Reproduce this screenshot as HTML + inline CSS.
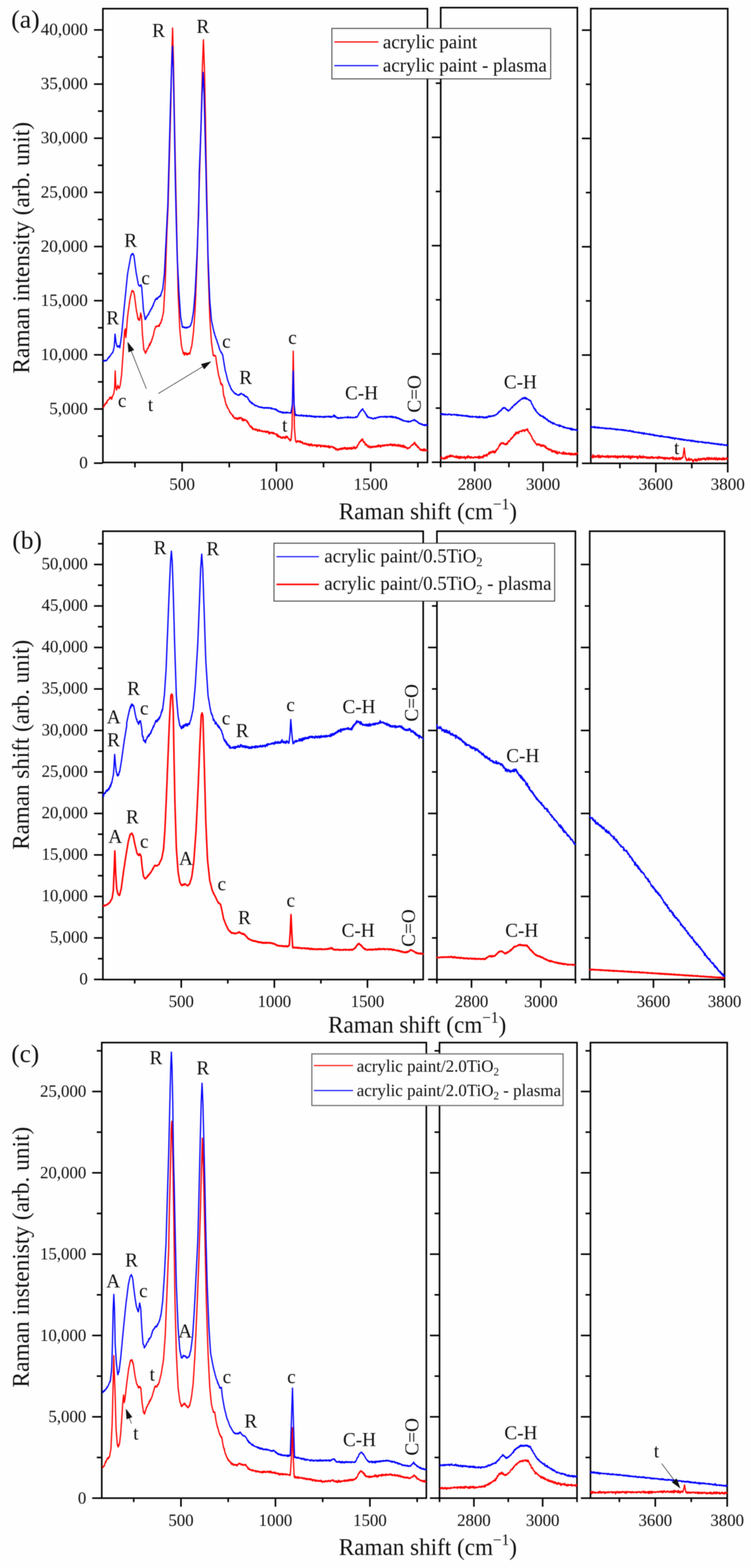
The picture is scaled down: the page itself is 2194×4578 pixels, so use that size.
<!DOCTYPE html>
<html lang="en"><head><meta charset="utf-8"><title>Raman spectra</title>
<style>
html,body{margin:0;padding:0;background:#fff;}
body{width:2194px;height:4578px;overflow:hidden;}
svg{display:block;font-family:"Liberation Serif", "DejaVu Serif", serif;filter:blur(0.8px);}
</style></head><body>
<svg width="2194" height="4578" viewBox="0 0 2194 4578">
<rect x="0" y="0" width="2194" height="4578" fill="#fefefe"/>
<rect x="300.6" y="25.3" width="948.2" height="1324.9" fill="none" stroke="#000" stroke-width="4.6"/>
<line x1="274.6" y1="1352.2" x2="300.6" y2="1352.2" stroke="#000" stroke-width="4.6" stroke-linecap="butt"/>
<line x1="274.6" y1="1194.1" x2="300.6" y2="1194.1" stroke="#000" stroke-width="4.6" stroke-linecap="butt"/>
<line x1="274.6" y1="1036.0" x2="300.6" y2="1036.0" stroke="#000" stroke-width="4.6" stroke-linecap="butt"/>
<line x1="274.6" y1="877.9" x2="300.6" y2="877.9" stroke="#000" stroke-width="4.6" stroke-linecap="butt"/>
<line x1="274.6" y1="719.8" x2="300.6" y2="719.8" stroke="#000" stroke-width="4.6" stroke-linecap="butt"/>
<line x1="274.6" y1="561.7" x2="300.6" y2="561.7" stroke="#000" stroke-width="4.6" stroke-linecap="butt"/>
<line x1="274.6" y1="403.6" x2="300.6" y2="403.6" stroke="#000" stroke-width="4.6" stroke-linecap="butt"/>
<line x1="274.6" y1="245.5" x2="300.6" y2="245.5" stroke="#000" stroke-width="4.6" stroke-linecap="butt"/>
<line x1="274.6" y1="87.4" x2="300.6" y2="87.4" stroke="#000" stroke-width="4.6" stroke-linecap="butt"/>
<line x1="286.1" y1="1273.2" x2="300.6" y2="1273.2" stroke="#000" stroke-width="4.6" stroke-linecap="butt"/>
<line x1="286.1" y1="1115.0" x2="300.6" y2="1115.0" stroke="#000" stroke-width="4.6" stroke-linecap="butt"/>
<line x1="286.1" y1="957.0" x2="300.6" y2="957.0" stroke="#000" stroke-width="4.6" stroke-linecap="butt"/>
<line x1="286.1" y1="798.9" x2="300.6" y2="798.9" stroke="#000" stroke-width="4.6" stroke-linecap="butt"/>
<line x1="286.1" y1="640.8" x2="300.6" y2="640.8" stroke="#000" stroke-width="4.6" stroke-linecap="butt"/>
<line x1="286.1" y1="482.6" x2="300.6" y2="482.6" stroke="#000" stroke-width="4.6" stroke-linecap="butt"/>
<line x1="286.1" y1="324.5" x2="300.6" y2="324.5" stroke="#000" stroke-width="4.6" stroke-linecap="butt"/>
<line x1="286.1" y1="166.5" x2="300.6" y2="166.5" stroke="#000" stroke-width="4.6" stroke-linecap="butt"/>
<line x1="532.0" y1="1350.2" x2="532.0" y2="1376.7" stroke="#000" stroke-width="4.6" stroke-linecap="butt"/>
<line x1="807.5" y1="1350.2" x2="807.5" y2="1376.7" stroke="#000" stroke-width="4.6" stroke-linecap="butt"/>
<line x1="1083.0" y1="1350.2" x2="1083.0" y2="1376.7" stroke="#000" stroke-width="4.6" stroke-linecap="butt"/>
<line x1="394.2" y1="1350.2" x2="394.2" y2="1364.7" stroke="#000" stroke-width="4.6" stroke-linecap="butt"/>
<line x1="669.8" y1="1350.2" x2="669.8" y2="1364.7" stroke="#000" stroke-width="4.6" stroke-linecap="butt"/>
<line x1="945.2" y1="1350.2" x2="945.2" y2="1364.7" stroke="#000" stroke-width="4.6" stroke-linecap="butt"/>
<line x1="1220.8" y1="1350.2" x2="1220.8" y2="1364.7" stroke="#000" stroke-width="4.6" stroke-linecap="butt"/>
<text transform="translate(532.0 1430.2) scale(1 1.03)" font-size="50" text-anchor="middle" fill="#111">500</text>
<text transform="translate(807.5 1430.2) scale(1 1.03)" font-size="50" text-anchor="middle" fill="#111">1000</text>
<text transform="translate(1083.0 1430.2) scale(1 1.03)" font-size="50" text-anchor="middle" fill="#111">1500</text>
<rect x="1287.5" y="22.3" width="399.2" height="1327.5" fill="none" stroke="#000" stroke-width="4.6"/>
<line x1="1261.5" y1="1349.6" x2="1287.5" y2="1349.6" stroke="#000" stroke-width="4.6" stroke-linecap="butt"/>
<line x1="1261.5" y1="1033.4" x2="1287.5" y2="1033.4" stroke="#000" stroke-width="4.6" stroke-linecap="butt"/>
<line x1="1261.5" y1="717.2" x2="1287.5" y2="717.2" stroke="#000" stroke-width="4.6" stroke-linecap="butt"/>
<line x1="1261.5" y1="401.0" x2="1287.5" y2="401.0" stroke="#000" stroke-width="4.6" stroke-linecap="butt"/>
<line x1="1261.5" y1="84.8" x2="1287.5" y2="84.8" stroke="#000" stroke-width="4.6" stroke-linecap="butt"/>
<line x1="1273.0" y1="1191.5" x2="1287.5" y2="1191.5" stroke="#000" stroke-width="4.6" stroke-linecap="butt"/>
<line x1="1273.0" y1="875.3" x2="1287.5" y2="875.3" stroke="#000" stroke-width="4.6" stroke-linecap="butt"/>
<line x1="1273.0" y1="559.1" x2="1287.5" y2="559.1" stroke="#000" stroke-width="4.6" stroke-linecap="butt"/>
<line x1="1273.0" y1="242.9" x2="1287.5" y2="242.9" stroke="#000" stroke-width="4.6" stroke-linecap="butt"/>
<line x1="1387.0" y1="1349.8" x2="1387.0" y2="1376.3" stroke="#000" stroke-width="4.6" stroke-linecap="butt"/>
<line x1="1586.5" y1="1349.8" x2="1586.5" y2="1376.3" stroke="#000" stroke-width="4.6" stroke-linecap="butt"/>
<line x1="1287.2" y1="1349.8" x2="1287.2" y2="1364.3" stroke="#000" stroke-width="4.6" stroke-linecap="butt"/>
<line x1="1486.8" y1="1349.8" x2="1486.8" y2="1364.3" stroke="#000" stroke-width="4.6" stroke-linecap="butt"/>
<line x1="1686.2" y1="1349.8" x2="1686.2" y2="1364.3" stroke="#000" stroke-width="4.6" stroke-linecap="butt"/>
<text transform="translate(1387.0 1430.2) scale(1 1.03)" font-size="50" text-anchor="middle" fill="#111">2800</text>
<text transform="translate(1586.5 1430.2) scale(1 1.03)" font-size="50" text-anchor="middle" fill="#111">3000</text>
<rect x="1726.0" y="25.3" width="400.0" height="1327.5" fill="none" stroke="#000" stroke-width="4.6"/>
<line x1="1700.0" y1="1352.8" x2="1726.0" y2="1352.8" stroke="#000" stroke-width="4.6" stroke-linecap="butt"/>
<line x1="1700.0" y1="1036.6" x2="1726.0" y2="1036.6" stroke="#000" stroke-width="4.6" stroke-linecap="butt"/>
<line x1="1700.0" y1="720.4" x2="1726.0" y2="720.4" stroke="#000" stroke-width="4.6" stroke-linecap="butt"/>
<line x1="1700.0" y1="404.2" x2="1726.0" y2="404.2" stroke="#000" stroke-width="4.6" stroke-linecap="butt"/>
<line x1="1700.0" y1="88.0" x2="1726.0" y2="88.0" stroke="#000" stroke-width="4.6" stroke-linecap="butt"/>
<line x1="1711.5" y1="1194.7" x2="1726.0" y2="1194.7" stroke="#000" stroke-width="4.6" stroke-linecap="butt"/>
<line x1="1711.5" y1="878.5" x2="1726.0" y2="878.5" stroke="#000" stroke-width="4.6" stroke-linecap="butt"/>
<line x1="1711.5" y1="562.3" x2="1726.0" y2="562.3" stroke="#000" stroke-width="4.6" stroke-linecap="butt"/>
<line x1="1711.5" y1="246.1" x2="1726.0" y2="246.1" stroke="#000" stroke-width="4.6" stroke-linecap="butt"/>
<line x1="1916.0" y1="1352.8" x2="1916.0" y2="1379.3" stroke="#000" stroke-width="4.6" stroke-linecap="butt"/>
<line x1="2126.0" y1="1352.8" x2="2126.0" y2="1379.3" stroke="#000" stroke-width="4.6" stroke-linecap="butt"/>
<line x1="1811.0" y1="1352.8" x2="1811.0" y2="1367.3" stroke="#000" stroke-width="4.6" stroke-linecap="butt"/>
<line x1="2021.0" y1="1352.8" x2="2021.0" y2="1367.3" stroke="#000" stroke-width="4.6" stroke-linecap="butt"/>
<text transform="translate(1916.0 1430.2) scale(1 1.03)" font-size="50" text-anchor="middle" fill="#111">3600</text>
<text transform="translate(2126.0 1430.2) scale(1 1.03)" font-size="50" text-anchor="middle" fill="#111">3800</text>
<text transform="translate(256.5 1367.0) scale(1 1.03)" font-size="50" text-anchor="end" fill="#111">0</text>
<text transform="translate(256.5 1208.9) scale(1 1.03)" font-size="50" text-anchor="end" fill="#111">5,000</text>
<text transform="translate(256.5 1050.8) scale(1 1.03)" font-size="50" text-anchor="end" fill="#111">10,000</text>
<text transform="translate(256.5 892.7) scale(1 1.03)" font-size="50" text-anchor="end" fill="#111">15,000</text>
<text transform="translate(256.5 734.6) scale(1 1.03)" font-size="50" text-anchor="end" fill="#111">20,000</text>
<text transform="translate(256.5 576.5) scale(1 1.03)" font-size="50" text-anchor="end" fill="#111">25,000</text>
<text transform="translate(256.5 418.4) scale(1 1.03)" font-size="50" text-anchor="end" fill="#111">30,000</text>
<text transform="translate(256.5 260.3) scale(1 1.03)" font-size="50" text-anchor="end" fill="#111">35,000</text>
<text transform="translate(256.5 102.2) scale(1 1.03)" font-size="50" text-anchor="end" fill="#111">40,000</text>
<rect x="300.6" y="1551.0" width="935.7" height="1309.0" fill="none" stroke="#000" stroke-width="4.6"/>
<line x1="274.6" y1="2859.6" x2="300.6" y2="2859.6" stroke="#000" stroke-width="4.6" stroke-linecap="butt"/>
<line x1="274.6" y1="2738.4" x2="300.6" y2="2738.4" stroke="#000" stroke-width="4.6" stroke-linecap="butt"/>
<line x1="274.6" y1="2617.3" x2="300.6" y2="2617.3" stroke="#000" stroke-width="4.6" stroke-linecap="butt"/>
<line x1="274.6" y1="2496.1" x2="300.6" y2="2496.1" stroke="#000" stroke-width="4.6" stroke-linecap="butt"/>
<line x1="274.6" y1="2375.0" x2="300.6" y2="2375.0" stroke="#000" stroke-width="4.6" stroke-linecap="butt"/>
<line x1="274.6" y1="2253.8" x2="300.6" y2="2253.8" stroke="#000" stroke-width="4.6" stroke-linecap="butt"/>
<line x1="274.6" y1="2132.7" x2="300.6" y2="2132.7" stroke="#000" stroke-width="4.6" stroke-linecap="butt"/>
<line x1="274.6" y1="2011.5" x2="300.6" y2="2011.5" stroke="#000" stroke-width="4.6" stroke-linecap="butt"/>
<line x1="274.6" y1="1890.4" x2="300.6" y2="1890.4" stroke="#000" stroke-width="4.6" stroke-linecap="butt"/>
<line x1="274.6" y1="1769.2" x2="300.6" y2="1769.2" stroke="#000" stroke-width="4.6" stroke-linecap="butt"/>
<line x1="274.6" y1="1648.1" x2="300.6" y2="1648.1" stroke="#000" stroke-width="4.6" stroke-linecap="butt"/>
<line x1="286.1" y1="2799.0" x2="300.6" y2="2799.0" stroke="#000" stroke-width="4.6" stroke-linecap="butt"/>
<line x1="286.1" y1="2677.9" x2="300.6" y2="2677.9" stroke="#000" stroke-width="4.6" stroke-linecap="butt"/>
<line x1="286.1" y1="2556.7" x2="300.6" y2="2556.7" stroke="#000" stroke-width="4.6" stroke-linecap="butt"/>
<line x1="286.1" y1="2435.6" x2="300.6" y2="2435.6" stroke="#000" stroke-width="4.6" stroke-linecap="butt"/>
<line x1="286.1" y1="2314.4" x2="300.6" y2="2314.4" stroke="#000" stroke-width="4.6" stroke-linecap="butt"/>
<line x1="286.1" y1="2193.3" x2="300.6" y2="2193.3" stroke="#000" stroke-width="4.6" stroke-linecap="butt"/>
<line x1="286.1" y1="2072.1" x2="300.6" y2="2072.1" stroke="#000" stroke-width="4.6" stroke-linecap="butt"/>
<line x1="286.1" y1="1951.0" x2="300.6" y2="1951.0" stroke="#000" stroke-width="4.6" stroke-linecap="butt"/>
<line x1="286.1" y1="1829.8" x2="300.6" y2="1829.8" stroke="#000" stroke-width="4.6" stroke-linecap="butt"/>
<line x1="286.1" y1="1708.7" x2="300.6" y2="1708.7" stroke="#000" stroke-width="4.6" stroke-linecap="butt"/>
<line x1="286.1" y1="1587.5" x2="300.6" y2="1587.5" stroke="#000" stroke-width="4.6" stroke-linecap="butt"/>
<line x1="529.5" y1="2860.0" x2="529.5" y2="2884.0" stroke="#000" stroke-width="4.6" stroke-linecap="butt"/>
<line x1="801.5" y1="2860.0" x2="801.5" y2="2884.0" stroke="#000" stroke-width="4.6" stroke-linecap="butt"/>
<line x1="1073.5" y1="2860.0" x2="1073.5" y2="2884.0" stroke="#000" stroke-width="4.6" stroke-linecap="butt"/>
<line x1="393.5" y1="2860.0" x2="393.5" y2="2871.5" stroke="#000" stroke-width="4.6" stroke-linecap="butt"/>
<line x1="665.5" y1="2860.0" x2="665.5" y2="2871.5" stroke="#000" stroke-width="4.6" stroke-linecap="butt"/>
<line x1="937.5" y1="2860.0" x2="937.5" y2="2871.5" stroke="#000" stroke-width="4.6" stroke-linecap="butt"/>
<line x1="1209.5" y1="2860.0" x2="1209.5" y2="2871.5" stroke="#000" stroke-width="4.6" stroke-linecap="butt"/>
<text transform="translate(529.5 2940.0) scale(1 1.03)" font-size="49.1" text-anchor="middle" fill="#111">500</text>
<text transform="translate(801.5 2940.0) scale(1 1.03)" font-size="49.1" text-anchor="middle" fill="#111">1000</text>
<text transform="translate(1073.5 2940.0) scale(1 1.03)" font-size="49.1" text-anchor="middle" fill="#111">1500</text>
<rect x="1276.5" y="1551.0" width="404.5" height="1309.0" fill="none" stroke="#000" stroke-width="4.6"/>
<line x1="1250.5" y1="2859.6" x2="1276.5" y2="2859.6" stroke="#000" stroke-width="4.6" stroke-linecap="butt"/>
<line x1="1250.5" y1="2617.3" x2="1276.5" y2="2617.3" stroke="#000" stroke-width="4.6" stroke-linecap="butt"/>
<line x1="1250.5" y1="2375.0" x2="1276.5" y2="2375.0" stroke="#000" stroke-width="4.6" stroke-linecap="butt"/>
<line x1="1250.5" y1="2132.7" x2="1276.5" y2="2132.7" stroke="#000" stroke-width="4.6" stroke-linecap="butt"/>
<line x1="1250.5" y1="1890.4" x2="1276.5" y2="1890.4" stroke="#000" stroke-width="4.6" stroke-linecap="butt"/>
<line x1="1250.5" y1="1648.1" x2="1276.5" y2="1648.1" stroke="#000" stroke-width="4.6" stroke-linecap="butt"/>
<line x1="1262.0" y1="2738.4" x2="1276.5" y2="2738.4" stroke="#000" stroke-width="4.6" stroke-linecap="butt"/>
<line x1="1262.0" y1="2496.1" x2="1276.5" y2="2496.1" stroke="#000" stroke-width="4.6" stroke-linecap="butt"/>
<line x1="1262.0" y1="2253.8" x2="1276.5" y2="2253.8" stroke="#000" stroke-width="4.6" stroke-linecap="butt"/>
<line x1="1262.0" y1="2011.5" x2="1276.5" y2="2011.5" stroke="#000" stroke-width="4.6" stroke-linecap="butt"/>
<line x1="1262.0" y1="1769.2" x2="1276.5" y2="1769.2" stroke="#000" stroke-width="4.6" stroke-linecap="butt"/>
<line x1="1377.5" y1="2860.0" x2="1377.5" y2="2884.0" stroke="#000" stroke-width="4.6" stroke-linecap="butt"/>
<line x1="1580.0" y1="2860.0" x2="1580.0" y2="2884.0" stroke="#000" stroke-width="4.6" stroke-linecap="butt"/>
<line x1="1276.2" y1="2860.0" x2="1276.2" y2="2871.5" stroke="#000" stroke-width="4.6" stroke-linecap="butt"/>
<line x1="1478.8" y1="2860.0" x2="1478.8" y2="2871.5" stroke="#000" stroke-width="4.6" stroke-linecap="butt"/>
<line x1="1681.2" y1="2860.0" x2="1681.2" y2="2871.5" stroke="#000" stroke-width="4.6" stroke-linecap="butt"/>
<text transform="translate(1377.5 2940.0) scale(1 1.03)" font-size="49.1" text-anchor="middle" fill="#111">2800</text>
<text transform="translate(1580.0 2940.0) scale(1 1.03)" font-size="49.1" text-anchor="middle" fill="#111">3000</text>
<rect x="1722.8" y="1551.0" width="394.0" height="1309.0" fill="none" stroke="#000" stroke-width="4.6"/>
<line x1="1696.8" y1="2859.6" x2="1722.8" y2="2859.6" stroke="#000" stroke-width="4.6" stroke-linecap="butt"/>
<line x1="1696.8" y1="2617.3" x2="1722.8" y2="2617.3" stroke="#000" stroke-width="4.6" stroke-linecap="butt"/>
<line x1="1696.8" y1="2375.0" x2="1722.8" y2="2375.0" stroke="#000" stroke-width="4.6" stroke-linecap="butt"/>
<line x1="1696.8" y1="2132.7" x2="1722.8" y2="2132.7" stroke="#000" stroke-width="4.6" stroke-linecap="butt"/>
<line x1="1696.8" y1="1890.4" x2="1722.8" y2="1890.4" stroke="#000" stroke-width="4.6" stroke-linecap="butt"/>
<line x1="1696.8" y1="1648.1" x2="1722.8" y2="1648.1" stroke="#000" stroke-width="4.6" stroke-linecap="butt"/>
<line x1="1708.3" y1="2738.4" x2="1722.8" y2="2738.4" stroke="#000" stroke-width="4.6" stroke-linecap="butt"/>
<line x1="1708.3" y1="2496.1" x2="1722.8" y2="2496.1" stroke="#000" stroke-width="4.6" stroke-linecap="butt"/>
<line x1="1708.3" y1="2253.8" x2="1722.8" y2="2253.8" stroke="#000" stroke-width="4.6" stroke-linecap="butt"/>
<line x1="1708.3" y1="2011.5" x2="1722.8" y2="2011.5" stroke="#000" stroke-width="4.6" stroke-linecap="butt"/>
<line x1="1708.3" y1="1769.2" x2="1722.8" y2="1769.2" stroke="#000" stroke-width="4.6" stroke-linecap="butt"/>
<line x1="1909.0" y1="2860.0" x2="1909.0" y2="2884.0" stroke="#000" stroke-width="4.6" stroke-linecap="butt"/>
<line x1="2116.8" y1="2860.0" x2="2116.8" y2="2884.0" stroke="#000" stroke-width="4.6" stroke-linecap="butt"/>
<line x1="1805.1" y1="2860.0" x2="1805.1" y2="2871.5" stroke="#000" stroke-width="4.6" stroke-linecap="butt"/>
<line x1="2012.9" y1="2860.0" x2="2012.9" y2="2871.5" stroke="#000" stroke-width="4.6" stroke-linecap="butt"/>
<text transform="translate(1909.0 2940.0) scale(1 1.03)" font-size="49.1" text-anchor="middle" fill="#111">3600</text>
<text transform="translate(2116.8 2940.0) scale(1 1.03)" font-size="49.1" text-anchor="middle" fill="#111">3800</text>
<text transform="translate(256.5 2873.5) scale(1 1.03)" font-size="49.1" text-anchor="end" fill="#111">0</text>
<text transform="translate(256.5 2752.3) scale(1 1.03)" font-size="49.1" text-anchor="end" fill="#111">5,000</text>
<text transform="translate(256.5 2631.2) scale(1 1.03)" font-size="49.1" text-anchor="end" fill="#111">10,000</text>
<text transform="translate(256.5 2510.0) scale(1 1.03)" font-size="49.1" text-anchor="end" fill="#111">15,000</text>
<text transform="translate(256.5 2388.9) scale(1 1.03)" font-size="49.1" text-anchor="end" fill="#111">20,000</text>
<text transform="translate(256.5 2267.8) scale(1 1.03)" font-size="49.1" text-anchor="end" fill="#111">25,000</text>
<text transform="translate(256.5 2146.6) scale(1 1.03)" font-size="49.1" text-anchor="end" fill="#111">30,000</text>
<text transform="translate(256.5 2025.4) scale(1 1.03)" font-size="49.1" text-anchor="end" fill="#111">35,000</text>
<text transform="translate(256.5 1904.3) scale(1 1.03)" font-size="49.1" text-anchor="end" fill="#111">40,000</text>
<text transform="translate(256.5 1783.1) scale(1 1.03)" font-size="49.1" text-anchor="end" fill="#111">45,000</text>
<text transform="translate(256.5 1662.0) scale(1 1.03)" font-size="49.1" text-anchor="end" fill="#111">50,000</text>
<rect x="297.3" y="3044.0" width="948.2" height="1330.0" fill="none" stroke="#000" stroke-width="4.6"/>
<line x1="269.3" y1="4374.0" x2="297.3" y2="4374.0" stroke="#000" stroke-width="4.6" stroke-linecap="butt"/>
<line x1="269.3" y1="4136.6" x2="297.3" y2="4136.6" stroke="#000" stroke-width="4.6" stroke-linecap="butt"/>
<line x1="269.3" y1="3899.1" x2="297.3" y2="3899.1" stroke="#000" stroke-width="4.6" stroke-linecap="butt"/>
<line x1="269.3" y1="3661.7" x2="297.3" y2="3661.7" stroke="#000" stroke-width="4.6" stroke-linecap="butt"/>
<line x1="269.3" y1="3424.2" x2="297.3" y2="3424.2" stroke="#000" stroke-width="4.6" stroke-linecap="butt"/>
<line x1="269.3" y1="3186.8" x2="297.3" y2="3186.8" stroke="#000" stroke-width="4.6" stroke-linecap="butt"/>
<line x1="282.8" y1="4255.3" x2="297.3" y2="4255.3" stroke="#000" stroke-width="4.6" stroke-linecap="butt"/>
<line x1="282.8" y1="4017.8" x2="297.3" y2="4017.8" stroke="#000" stroke-width="4.6" stroke-linecap="butt"/>
<line x1="282.8" y1="3780.4" x2="297.3" y2="3780.4" stroke="#000" stroke-width="4.6" stroke-linecap="butt"/>
<line x1="282.8" y1="3542.9" x2="297.3" y2="3542.9" stroke="#000" stroke-width="4.6" stroke-linecap="butt"/>
<line x1="282.8" y1="3305.5" x2="297.3" y2="3305.5" stroke="#000" stroke-width="4.6" stroke-linecap="butt"/>
<line x1="282.8" y1="3068.0" x2="297.3" y2="3068.0" stroke="#000" stroke-width="4.6" stroke-linecap="butt"/>
<line x1="528.7" y1="4374.0" x2="528.7" y2="4399.0" stroke="#000" stroke-width="4.6" stroke-linecap="butt"/>
<line x1="804.7" y1="4374.0" x2="804.7" y2="4399.0" stroke="#000" stroke-width="4.6" stroke-linecap="butt"/>
<line x1="1080.7" y1="4374.0" x2="1080.7" y2="4399.0" stroke="#000" stroke-width="4.6" stroke-linecap="butt"/>
<line x1="390.7" y1="4374.0" x2="390.7" y2="4385.5" stroke="#000" stroke-width="4.6" stroke-linecap="butt"/>
<line x1="666.7" y1="4374.0" x2="666.7" y2="4385.5" stroke="#000" stroke-width="4.6" stroke-linecap="butt"/>
<line x1="942.7" y1="4374.0" x2="942.7" y2="4385.5" stroke="#000" stroke-width="4.6" stroke-linecap="butt"/>
<line x1="1218.7" y1="4374.0" x2="1218.7" y2="4385.5" stroke="#000" stroke-width="4.6" stroke-linecap="butt"/>
<text transform="translate(528.7 4454.5) scale(1 1.03)" font-size="49.1" text-anchor="middle" fill="#111">500</text>
<text transform="translate(804.7 4454.5) scale(1 1.03)" font-size="49.1" text-anchor="middle" fill="#111">1000</text>
<text transform="translate(1080.7 4454.5) scale(1 1.03)" font-size="49.1" text-anchor="middle" fill="#111">1500</text>
<rect x="1284.0" y="3044.0" width="401.7" height="1330.0" fill="none" stroke="#000" stroke-width="4.6"/>
<line x1="1256.0" y1="4374.0" x2="1284.0" y2="4374.0" stroke="#000" stroke-width="4.6" stroke-linecap="butt"/>
<line x1="1256.0" y1="4136.6" x2="1284.0" y2="4136.6" stroke="#000" stroke-width="4.6" stroke-linecap="butt"/>
<line x1="1256.0" y1="3899.1" x2="1284.0" y2="3899.1" stroke="#000" stroke-width="4.6" stroke-linecap="butt"/>
<line x1="1256.0" y1="3661.7" x2="1284.0" y2="3661.7" stroke="#000" stroke-width="4.6" stroke-linecap="butt"/>
<line x1="1256.0" y1="3424.2" x2="1284.0" y2="3424.2" stroke="#000" stroke-width="4.6" stroke-linecap="butt"/>
<line x1="1256.0" y1="3186.8" x2="1284.0" y2="3186.8" stroke="#000" stroke-width="4.6" stroke-linecap="butt"/>
<line x1="1269.5" y1="4255.3" x2="1284.0" y2="4255.3" stroke="#000" stroke-width="4.6" stroke-linecap="butt"/>
<line x1="1269.5" y1="4017.8" x2="1284.0" y2="4017.8" stroke="#000" stroke-width="4.6" stroke-linecap="butt"/>
<line x1="1269.5" y1="3780.4" x2="1284.0" y2="3780.4" stroke="#000" stroke-width="4.6" stroke-linecap="butt"/>
<line x1="1269.5" y1="3542.9" x2="1284.0" y2="3542.9" stroke="#000" stroke-width="4.6" stroke-linecap="butt"/>
<line x1="1269.5" y1="3305.5" x2="1284.0" y2="3305.5" stroke="#000" stroke-width="4.6" stroke-linecap="butt"/>
<line x1="1269.5" y1="3068.0" x2="1284.0" y2="3068.0" stroke="#000" stroke-width="4.6" stroke-linecap="butt"/>
<line x1="1384.5" y1="4374.0" x2="1384.5" y2="4399.0" stroke="#000" stroke-width="4.6" stroke-linecap="butt"/>
<line x1="1585.3" y1="4374.0" x2="1585.3" y2="4399.0" stroke="#000" stroke-width="4.6" stroke-linecap="butt"/>
<line x1="1284.1" y1="4374.0" x2="1284.1" y2="4385.5" stroke="#000" stroke-width="4.6" stroke-linecap="butt"/>
<line x1="1484.9" y1="4374.0" x2="1484.9" y2="4385.5" stroke="#000" stroke-width="4.6" stroke-linecap="butt"/>
<line x1="1685.7" y1="4374.0" x2="1685.7" y2="4385.5" stroke="#000" stroke-width="4.6" stroke-linecap="butt"/>
<text transform="translate(1384.5 4454.5) scale(1 1.03)" font-size="49.1" text-anchor="middle" fill="#111">2800</text>
<text transform="translate(1585.3 4454.5) scale(1 1.03)" font-size="49.1" text-anchor="middle" fill="#111">3000</text>
<rect x="1725.0" y="3044.0" width="399.5" height="1330.0" fill="none" stroke="#000" stroke-width="4.6"/>
<line x1="1697.0" y1="4374.0" x2="1725.0" y2="4374.0" stroke="#000" stroke-width="4.6" stroke-linecap="butt"/>
<line x1="1697.0" y1="4136.6" x2="1725.0" y2="4136.6" stroke="#000" stroke-width="4.6" stroke-linecap="butt"/>
<line x1="1697.0" y1="3899.1" x2="1725.0" y2="3899.1" stroke="#000" stroke-width="4.6" stroke-linecap="butt"/>
<line x1="1697.0" y1="3661.7" x2="1725.0" y2="3661.7" stroke="#000" stroke-width="4.6" stroke-linecap="butt"/>
<line x1="1697.0" y1="3424.2" x2="1725.0" y2="3424.2" stroke="#000" stroke-width="4.6" stroke-linecap="butt"/>
<line x1="1697.0" y1="3186.8" x2="1725.0" y2="3186.8" stroke="#000" stroke-width="4.6" stroke-linecap="butt"/>
<line x1="1710.5" y1="4255.3" x2="1725.0" y2="4255.3" stroke="#000" stroke-width="4.6" stroke-linecap="butt"/>
<line x1="1710.5" y1="4017.8" x2="1725.0" y2="4017.8" stroke="#000" stroke-width="4.6" stroke-linecap="butt"/>
<line x1="1710.5" y1="3780.4" x2="1725.0" y2="3780.4" stroke="#000" stroke-width="4.6" stroke-linecap="butt"/>
<line x1="1710.5" y1="3542.9" x2="1725.0" y2="3542.9" stroke="#000" stroke-width="4.6" stroke-linecap="butt"/>
<line x1="1710.5" y1="3305.5" x2="1725.0" y2="3305.5" stroke="#000" stroke-width="4.6" stroke-linecap="butt"/>
<line x1="1710.5" y1="3068.0" x2="1725.0" y2="3068.0" stroke="#000" stroke-width="4.6" stroke-linecap="butt"/>
<line x1="1914.4" y1="4374.0" x2="1914.4" y2="4399.0" stroke="#000" stroke-width="4.6" stroke-linecap="butt"/>
<line x1="2124.4" y1="4374.0" x2="2124.4" y2="4399.0" stroke="#000" stroke-width="4.6" stroke-linecap="butt"/>
<line x1="1809.4" y1="4374.0" x2="1809.4" y2="4385.5" stroke="#000" stroke-width="4.6" stroke-linecap="butt"/>
<line x1="2019.4" y1="4374.0" x2="2019.4" y2="4385.5" stroke="#000" stroke-width="4.6" stroke-linecap="butt"/>
<text transform="translate(1914.4 4454.5) scale(1 1.03)" font-size="49.1" text-anchor="middle" fill="#111">3600</text>
<text transform="translate(2124.4 4454.5) scale(1 1.03)" font-size="49.1" text-anchor="middle" fill="#111">3800</text>
<text transform="translate(252.0 4389.6) scale(1 1.03)" font-size="49.1" text-anchor="end" fill="#111">0</text>
<text transform="translate(252.0 4152.2) scale(1 1.03)" font-size="49.1" text-anchor="end" fill="#111">5,000</text>
<text transform="translate(252.0 3914.7) scale(1 1.03)" font-size="49.1" text-anchor="end" fill="#111">10,000</text>
<text transform="translate(252.0 3677.2) scale(1 1.03)" font-size="49.1" text-anchor="end" fill="#111">15,000</text>
<text transform="translate(252.0 3439.8) scale(1 1.03)" font-size="49.1" text-anchor="end" fill="#111">20,000</text>
<text transform="translate(252.0 3202.3) scale(1 1.03)" font-size="49.1" text-anchor="end" fill="#111">25,000</text>
<polyline points="301.0,1188.6 301.7,1189.9 302.4,1189.7 303.1,1186.2 303.8,1183.9 304.5,1184.6 305.2,1184.3 305.9,1184.0 306.6,1179.4 307.3,1178.1 307.9,1180.0 308.6,1178.5 309.3,1178.9 310.0,1176.9 310.7,1174.4 311.5,1173.3 312.2,1176.6 312.9,1171.5 313.6,1169.8 314.3,1168.4 315.0,1169.4 315.7,1168.5 316.5,1166.9 317.2,1166.4 317.9,1166.0 318.6,1165.8 319.3,1165.5 320.0,1163.3 320.7,1160.0 321.4,1163.6 322.1,1160.1 322.8,1161.8 323.4,1159.6 324.1,1161.6 324.8,1160.2 325.5,1161.5 326.2,1165.9 326.9,1160.6 327.5,1161.7 328.3,1156.7 329.0,1156.4 329.7,1156.1 330.4,1153.2 331.1,1152.1 331.8,1149.9 332.5,1147.9 333.2,1143.6 333.8,1139.2 334.4,1134.8 335.0,1130.4 335.8,1106.7 336.5,1082.9 337.2,1098.7 337.9,1114.6 338.5,1128.9 339.2,1133.2 339.8,1133.0 340.4,1138.9 341.0,1137.9 341.8,1134.8 342.6,1131.7 343.3,1128.6 344.1,1124.7 344.8,1128.0 345.5,1128.4 346.2,1131.4 346.9,1130.5 347.6,1134.4 348.3,1131.2 349.0,1131.8 349.7,1129.4 350.4,1127.1 351.1,1125.4 351.7,1120.4 352.4,1115.4 353.1,1110.4 353.7,1105.4 354.4,1100.4 355.1,1095.4 355.8,1085.4 356.5,1075.4 357.2,1065.4 357.9,1055.4 358.6,1045.4 359.3,1035.4 360.1,1025.3 360.7,1015.3 361.4,1005.3 362.1,995.3 362.7,985.3 363.4,975.3 364.1,964.1 364.7,964.8 365.4,962.7 366.1,960.3 366.8,972.8 367.6,985.3 368.3,977.8 369.1,970.3 369.8,961.3 370.5,952.3 371.2,943.3 371.9,934.3 372.6,925.3 373.3,920.3 373.9,915.3 374.6,910.3 375.3,905.2 376.0,900.2 376.7,895.2 377.4,890.2 378.0,885.2 378.7,880.2 379.4,875.2 380.1,872.7 380.8,866.8 381.5,865.3 382.2,862.4 382.9,859.2 383.7,856.2 384.4,853.3 385.1,849.3 385.8,848.3 386.4,848.8 387.1,849.8 387.8,850.8 388.4,849.6 389.1,849.3 389.8,851.4 390.5,853.8 391.2,855.5 391.9,858.9 392.6,860.2 393.3,865.9 394.0,871.6 394.7,877.4 395.5,883.1 396.2,888.8 396.9,894.5 397.6,900.2 398.3,904.2 399.0,908.1 399.7,912.0 400.5,916.0 401.2,919.9 401.9,923.8 402.6,930.4 403.3,928.3 404.0,928.9 404.7,933.9 405.5,932.4 406.2,934.6 406.9,935.5 407.6,935.3 408.3,931.3 409.0,927.3 409.7,923.3 410.4,919.3 411.1,913.6 411.8,920.6 412.4,921.3 413.1,920.3 413.9,934.0 414.6,947.8 415.4,961.5 416.1,975.3 416.8,982.8 417.4,990.3 418.1,997.8 418.8,1005.3 419.4,1012.8 420.1,1020.6 420.8,1022.9 421.5,1023.4 422.3,1023.3 423.0,1025.9 423.7,1028.0 424.4,1030.6 425.1,1031.4 425.8,1029.0 426.5,1029.5 427.3,1024.9 428.0,1025.8 428.7,1024.9 429.4,1021.3 430.1,1017.7 430.8,1017.6 431.6,1017.8 432.3,1016.8 433.0,1016.9 433.7,1011.7 434.4,1011.8 435.1,1011.3 435.8,1008.7 436.6,1003.9 437.3,1007.3 438.0,1008.1 438.7,1004.7 439.4,1000.4 440.1,999.7 440.8,998.8 441.5,1000.4 442.2,995.8 442.9,993.2 443.5,993.6 444.2,989.3 444.9,990.4 445.6,984.7 446.3,983.2 447.0,983.2 447.6,980.3 448.4,977.1 449.1,973.9 449.8,970.7 450.5,967.4 451.2,964.2 451.9,961.0 452.6,959.9 453.4,958.1 454.1,956.8 454.8,952.9 455.5,953.9 456.2,953.3 456.9,952.7 457.6,953.7 458.3,952.1 459.0,953.5 459.7,952.2 460.4,951.4 461.1,951.8 461.7,952.1 462.4,952.5 463.1,950.2 463.8,950.4 464.5,948.5 465.1,952.7 465.8,951.1 466.5,947.3 467.2,945.5 467.9,943.0 468.6,943.7 469.2,942.4 469.9,944.0 470.6,939.7 471.3,936.8 472.0,933.0 472.7,935.3 473.4,931.7 474.1,928.1 474.8,924.5 475.5,921.0 476.2,917.4 476.9,913.8 477.7,910.3 478.4,898.1 479.1,885.9 479.8,873.8 480.5,861.6 481.2,849.5 481.9,837.3 482.7,825.2 483.4,803.7 484.1,782.3 484.8,760.8 485.5,739.4 486.2,718.0 487.0,696.5 487.7,675.1 488.4,660.0 489.1,645.0 489.8,630.0 490.5,615.0 491.2,600.0 491.8,575.1 492.5,550.1 493.2,525.2 493.8,500.2 494.5,475.3 495.2,450.4 495.8,425.3 496.5,400.3 497.2,375.3 497.8,350.3 498.5,325.3 499.2,300.2 499.8,269.0 500.4,237.7 501.1,206.4 501.7,175.1 502.3,151.7 502.9,128.4 503.6,105.0 504.2,81.6 504.8,105.0 505.4,128.4 506.1,151.7 506.7,175.1 507.4,218.9 508.2,262.7 508.9,306.5 509.7,350.3 510.4,387.8 511.2,425.3 511.9,462.9 512.7,500.4 513.3,529.8 513.9,559.2 514.6,588.6 515.2,618.0 515.9,651.2 516.6,684.3 517.3,717.5 518.0,750.7 518.8,783.9 519.5,817.0 520.2,850.2 520.9,865.9 521.6,881.7 522.3,897.4 523.1,913.1 523.8,928.8 524.5,944.6 525.2,960.3 525.9,967.4 526.6,974.6 527.3,981.7 528.1,988.9 528.8,996.0 529.5,1003.2 530.2,1010.3 530.9,1013.2 531.6,1016.1 532.3,1018.9 533.1,1021.8 533.8,1024.6 534.5,1027.5 535.2,1032.5 535.9,1031.0 536.6,1028.6 537.4,1031.7 538.1,1029.4 538.8,1037.4 539.5,1034.2 540.2,1033.7 540.9,1032.7 541.6,1029.9 542.3,1033.1 542.9,1031.1 543.6,1034.4 544.3,1030.5 545.0,1032.4 545.7,1035.8 546.4,1036.5 547.0,1032.4 547.7,1032.1 548.4,1035.3 549.1,1034.9 549.8,1031.8 550.4,1031.9 551.1,1031.5 551.8,1030.4 552.5,1030.8 553.2,1033.3 553.9,1032.1 554.5,1033.8 555.2,1030.2 555.9,1027.3 556.7,1023.2 557.4,1021.6 558.1,1016.9 558.8,1013.4 559.5,1014.2 560.2,1010.3 560.9,1004.6 561.7,998.9 562.4,993.2 563.1,987.5 563.8,981.7 564.5,976.0 565.2,970.3 565.9,960.3 566.7,950.3 567.4,940.3 568.1,930.3 568.8,920.3 569.5,910.3 570.2,900.2 570.9,882.4 571.7,864.5 572.4,846.6 573.1,828.8 573.8,810.9 574.5,793.0 575.2,775.1 576.0,750.1 576.7,725.1 577.4,700.1 578.1,675.1 578.8,650.0 579.5,625.0 580.2,600.0 581.0,575.1 581.7,550.2 582.5,525.3 583.2,500.4 584.0,475.4 584.7,450.4 585.5,425.3 586.2,400.3 587.0,375.3 587.7,350.3 588.4,320.3 589.2,290.2 589.9,260.2 590.6,230.2 591.3,200.2 592.0,179.1 592.8,158.1 593.5,137.1 594.3,116.1 595.0,137.1 595.8,158.1 596.5,179.1 597.3,200.2 598.0,237.7 598.8,275.2 599.5,312.8 600.3,350.3 600.9,387.8 601.5,425.3 602.1,462.9 602.8,500.4 603.4,529.8 604.0,559.2 604.6,588.6 605.3,618.0 605.9,657.3 606.5,696.6 607.1,735.9 607.8,775.1 608.5,796.6 609.2,818.0 609.9,839.5 610.6,860.9 611.3,882.4 612.1,903.8 612.8,925.3 613.5,936.0 614.2,946.7 614.9,957.4 615.6,968.2 616.3,978.9 617.1,989.6 617.8,1000.3 618.5,1005.3 619.2,1010.3 619.9,1015.3 620.6,1020.3 621.3,1025.3 622.1,1030.3 622.8,1037.5 623.5,1037.3 624.2,1038.8 624.9,1037.9 625.6,1037.1 626.4,1039.1 627.1,1039.1 627.8,1038.7 628.4,1037.8 629.0,1038.1 629.7,1040.3 630.3,1040.4 630.9,1045.4 631.5,1050.4 632.2,1055.4 632.8,1060.4 633.5,1064.7 634.2,1069.0 634.9,1073.2 635.6,1077.5 636.4,1081.8 637.1,1086.1 637.8,1090.6 638.5,1092.4 639.2,1098.0 639.8,1098.9 640.5,1102.2 641.2,1105.9 641.9,1105.5 642.6,1106.5 643.2,1113.4 643.9,1113.9 644.6,1119.7 645.3,1120.9 646.0,1122.6 646.7,1123.0 647.4,1119.4 648.2,1124.4 648.9,1123.0 649.6,1123.6 650.3,1125.4 650.9,1131.7 651.6,1137.9 652.2,1144.2 652.8,1149.8 653.5,1154.3 654.2,1157.2 654.8,1160.2 655.5,1158.9 656.2,1163.2 656.9,1163.3 657.6,1169.4 658.3,1173.2 658.9,1173.9 659.6,1178.1 660.3,1180.8 661.0,1183.4 661.7,1182.1 662.5,1183.5 663.2,1185.0 663.9,1190.2 664.6,1190.7 665.3,1190.3 666.0,1192.2 666.7,1193.5 667.5,1195.1 668.2,1195.9 668.9,1197.1 669.6,1197.2 670.3,1199.5 671.0,1204.0 671.7,1203.4 672.5,1203.8 673.2,1204.5 673.9,1205.9 674.6,1207.4 675.3,1207.0 676.0,1209.4 676.7,1210.5 677.5,1210.1 678.2,1211.1 678.9,1211.9 679.6,1212.8 680.3,1216.8 681.0,1212.6 681.7,1216.5 682.3,1216.6 683.0,1217.3 683.7,1219.0 684.4,1221.3 685.0,1220.4 685.7,1220.3 686.4,1219.8 687.1,1220.7 687.8,1222.5 688.4,1220.8 689.1,1219.9 689.8,1220.0 690.5,1220.4 691.2,1220.2 691.9,1224.2 692.5,1223.3 693.3,1222.2 694.0,1224.6 694.7,1221.2 695.4,1223.2 696.1,1223.1 696.8,1219.4 697.5,1219.2 698.3,1219.9 699.0,1222.5 699.7,1222.9 700.4,1219.0 701.1,1222.2 701.8,1219.9 702.6,1219.7 703.2,1219.9 703.9,1220.7 704.6,1218.9 705.3,1220.6 706.0,1220.7 706.6,1223.7 707.3,1226.6 708.0,1228.0 708.7,1223.8 709.4,1222.2 710.1,1224.7 710.8,1224.0 711.5,1228.6 712.2,1226.7 712.9,1224.9 713.6,1227.6 714.3,1227.1 715.1,1224.1 715.8,1225.9 716.5,1226.5 717.2,1227.1 717.9,1227.4 718.6,1226.9 719.3,1227.9 720.1,1226.9 720.8,1227.5 721.5,1232.2 722.2,1231.5 722.9,1232.7 723.6,1230.7 724.4,1233.9 725.1,1236.5 725.8,1234.4 726.5,1239.1 727.2,1237.9 727.9,1240.2 728.6,1240.4 729.4,1242.0 730.1,1244.6 730.8,1242.9 731.5,1246.6 732.2,1243.7 732.9,1244.2 733.6,1247.4 734.4,1245.5 735.1,1247.2 735.8,1249.9 736.5,1251.0 737.2,1247.3 737.9,1251.4 738.7,1254.2 739.4,1253.9 740.1,1252.4 740.8,1252.1 741.5,1252.7 742.2,1251.6 742.9,1253.1 743.7,1253.3 744.4,1253.6 745.1,1255.7 745.8,1253.8 746.5,1252.1 747.2,1256.0 747.9,1253.0 748.7,1254.1 749.4,1254.8 750.1,1254.6 750.8,1253.8 751.5,1255.1 752.2,1258.9 752.9,1254.9 753.7,1255.8 754.4,1257.8 755.1,1257.4 755.8,1257.6 756.5,1257.9 757.2,1253.8 757.9,1255.5 758.5,1257.2 759.2,1257.9 759.9,1259.2 760.6,1258.1 761.3,1257.2 762.0,1257.7 762.7,1257.5 763.4,1258.3 764.1,1259.1 764.8,1257.7 765.4,1257.1 766.1,1257.2 766.8,1260.3 767.5,1260.7 768.2,1260.4 768.9,1260.3 769.6,1260.4 770.3,1259.3 771.0,1260.5 771.7,1258.0 772.3,1259.4 773.0,1258.8 773.7,1261.1 774.4,1259.3 775.1,1260.1 775.8,1261.0 776.5,1262.6 777.3,1259.5 778.0,1259.4 778.7,1262.1 779.4,1259.3 780.1,1261.8 780.8,1260.4 781.5,1261.2 782.3,1258.8 783.0,1262.7 783.7,1261.0 784.4,1260.5 785.1,1265.1 785.8,1263.1 786.5,1267.5 787.3,1262.9 788.0,1261.9 788.7,1262.7 789.4,1265.1 790.1,1262.8 790.8,1263.7 791.5,1264.0 792.2,1262.1 792.9,1263.9 793.5,1263.2 794.2,1262.3 794.9,1265.7 795.6,1265.6 796.3,1265.0 796.9,1263.7 797.6,1262.3 798.3,1266.3 799.0,1265.6 799.7,1263.5 800.4,1266.1 801.0,1264.2 801.7,1266.6 802.4,1267.1 803.1,1267.6 803.8,1267.7 804.5,1267.8 805.1,1266.1 805.8,1267.7 806.5,1267.9 807.2,1268.8 807.9,1270.0 808.5,1271.0 809.2,1273.0 809.9,1267.1 810.6,1272.0 811.3,1271.6 812.0,1275.8 812.6,1274.2 813.3,1270.8 814.0,1274.3 814.7,1273.4 815.4,1276.1 816.1,1273.5 816.7,1275.4 817.4,1275.8 818.1,1276.3 818.8,1276.0 819.5,1274.6 820.1,1278.5 820.9,1279.3 821.6,1277.7 822.3,1276.3 823.0,1278.1 823.7,1278.7 824.4,1277.5 825.1,1277.8 825.9,1279.9 826.6,1276.1 827.3,1277.0 828.0,1274.9 828.7,1276.8 829.4,1276.7 830.2,1276.4 830.8,1276.5 831.5,1280.0 832.2,1276.8 832.9,1276.7 833.6,1280.0 834.2,1276.3 834.9,1273.6 835.6,1276.6 836.3,1274.4 837.0,1278.0 837.7,1273.4 838.3,1275.1 839.0,1274.3 839.7,1277.5 840.4,1276.5 841.1,1278.6 841.8,1278.8 842.4,1279.2 843.1,1282.2 843.8,1282.8 844.5,1282.2 845.2,1281.5 845.9,1281.6 846.6,1283.9 847.3,1287.5 848.0,1283.6 848.7,1283.4 849.5,1283.9 850.2,1285.3 850.9,1276.6 851.7,1267.8 852.4,1259.0 853.2,1250.3 853.9,1205.2 854.6,1160.2 855.3,1115.2 856.0,1070.1 856.7,1025.1 857.4,1070.1 858.1,1115.2 858.8,1160.2 859.5,1205.2 860.2,1250.3 860.9,1258.3 861.6,1266.3 862.3,1274.3 863.0,1282.3 863.7,1288.7 864.4,1288.7 865.1,1289.7 865.8,1292.0 866.6,1289.7 867.3,1288.8 868.0,1287.0 868.7,1289.5 869.4,1289.0 870.2,1287.1 870.9,1287.1 871.6,1288.5 872.3,1290.0 873.0,1289.2 873.8,1288.4 874.5,1287.5 875.2,1288.3 875.9,1288.2 876.6,1291.8 877.3,1287.2 878.0,1288.7 878.8,1291.5 879.5,1289.6 880.2,1292.5 880.9,1290.6 881.6,1291.2 882.3,1290.8 883.1,1289.7 883.8,1290.6 884.5,1295.8 885.2,1293.8 885.9,1294.1 886.6,1295.0 887.3,1294.7 888.1,1295.8 888.8,1294.2 889.5,1294.6 890.2,1296.8 890.9,1294.9 891.6,1293.6 892.3,1295.4 893.0,1295.1 893.7,1296.9 894.4,1295.1 895.1,1294.7 895.8,1295.9 896.5,1298.9 897.2,1296.6 897.8,1297.1 898.5,1297.0 899.2,1297.6 899.9,1298.7 900.6,1299.5 901.3,1295.1 902.0,1299.7 902.7,1297.8 903.4,1297.5 904.1,1301.7 904.8,1298.0 905.5,1301.3 906.2,1300.0 906.9,1297.1 907.6,1299.5 908.3,1300.0 909.0,1298.9 909.7,1295.7 910.4,1298.8 911.1,1299.2 911.7,1298.0 912.4,1302.5 913.1,1299.5 913.8,1299.5 914.5,1299.7 915.2,1299.1 915.9,1299.2 916.6,1300.5 917.3,1300.9 918.0,1299.7 918.7,1300.3 919.4,1298.4 920.1,1301.3 920.8,1299.4 921.5,1300.9 922.2,1299.2 922.9,1299.9 923.6,1301.0 924.3,1298.9 925.0,1304.4 925.6,1300.7 926.3,1300.7 927.0,1299.7 927.7,1303.2 928.4,1302.9 929.1,1301.3 929.8,1298.9 930.5,1300.2 931.2,1301.9 931.9,1300.2 932.6,1299.2 933.3,1299.3 934.0,1299.9 934.7,1301.1 935.4,1300.2 936.1,1301.2 936.8,1305.4 937.5,1303.9 938.2,1299.7 938.9,1301.8 939.5,1301.4 940.2,1301.1 940.9,1303.0 941.6,1301.1 942.3,1301.3 943.0,1301.3 943.7,1301.9 944.4,1304.1 945.1,1303.5 945.8,1300.4 946.5,1301.9 947.1,1301.5 947.8,1304.1 948.5,1303.3 949.2,1304.5 949.9,1303.2 950.6,1300.5 951.3,1304.2 952.0,1304.0 952.7,1304.6 953.4,1302.0 954.0,1304.2 954.7,1303.2 955.4,1303.3 956.1,1305.0 956.8,1305.2 957.5,1303.4 958.2,1302.3 958.9,1301.3 959.6,1304.3 960.3,1307.0 961.0,1305.2 961.7,1301.8 962.4,1303.8 963.1,1305.7 963.8,1307.5 964.5,1306.7 965.3,1305.4 966.0,1305.1 966.7,1303.1 967.4,1303.9 968.1,1304.0 968.8,1303.3 969.6,1304.5 970.3,1303.7 971.0,1305.2 971.7,1307.3 972.4,1306.7 973.1,1306.6 973.8,1306.0 974.6,1304.5 975.3,1307.0 976.0,1308.4 976.7,1306.5 977.4,1310.3 978.1,1308.3 978.8,1309.7 979.6,1309.1 980.3,1308.1 981.0,1313.5 981.7,1309.1 982.4,1312.6 983.1,1310.8 983.8,1312.4 984.6,1311.2 985.3,1312.2 986.0,1314.0 986.7,1315.4 987.4,1311.1 988.1,1312.2 988.9,1313.4 989.6,1310.9 990.3,1312.7 991.0,1310.3 991.7,1312.2 992.4,1311.8 993.1,1312.8 993.9,1311.4 994.6,1308.9 995.3,1311.5 996.0,1308.7 996.7,1311.3 997.4,1312.3 998.1,1310.7 998.9,1308.8 999.6,1311.3 1000.3,1309.6 1001.0,1307.5 1001.7,1308.8 1002.4,1311.5 1003.1,1308.9 1003.8,1309.5 1004.5,1308.8 1005.2,1306.8 1005.9,1308.6 1006.6,1309.9 1007.3,1309.6 1008.0,1309.1 1008.7,1306.1 1009.4,1311.2 1010.1,1310.4 1010.8,1310.9 1011.5,1311.3 1012.2,1308.7 1012.9,1308.4 1013.6,1309.8 1014.3,1311.8 1015.0,1306.8 1015.7,1309.0 1016.4,1308.3 1017.0,1310.2 1017.7,1311.5 1018.4,1308.9 1019.1,1307.5 1019.8,1309.4 1020.5,1308.9 1021.2,1307.0 1021.9,1310.7 1022.6,1308.5 1023.3,1310.4 1024.0,1307.4 1024.7,1311.0 1025.4,1307.2 1026.1,1310.9 1026.8,1306.6 1027.5,1311.4 1028.2,1308.8 1028.9,1307.0 1029.6,1309.0 1030.3,1309.8 1031.0,1307.6 1031.7,1308.1 1032.4,1309.1 1033.1,1308.2 1033.8,1303.6 1034.5,1307.4 1035.2,1308.4 1035.9,1308.0 1036.6,1308.8 1037.3,1306.1 1038.0,1310.7 1038.7,1307.9 1039.4,1306.9 1040.0,1307.8 1040.7,1307.4 1041.4,1305.9 1042.1,1304.6 1042.8,1306.9 1043.5,1304.6 1044.2,1299.8 1044.9,1299.6 1045.6,1300.6 1046.2,1298.7 1046.9,1297.6 1047.6,1296.7 1048.3,1294.6 1049.0,1295.4 1049.6,1290.8 1050.3,1289.7 1051.0,1290.1 1051.7,1290.1 1052.4,1289.4 1053.1,1289.8 1053.7,1286.2 1054.4,1288.0 1055.1,1286.2 1055.8,1283.3 1056.5,1284.0 1057.2,1286.6 1057.8,1284.0 1058.5,1283.0 1059.2,1281.0 1059.9,1284.4 1060.6,1285.4 1061.2,1287.5 1061.9,1291.7 1062.6,1290.3 1063.3,1290.6 1064.0,1289.6 1064.7,1290.1 1065.3,1292.5 1066.1,1292.9 1066.8,1299.0 1067.5,1294.7 1068.2,1295.2 1068.9,1298.6 1069.6,1297.9 1070.3,1296.7 1071.1,1301.3 1071.8,1299.7 1072.5,1299.0 1073.2,1302.3 1073.9,1303.4 1074.6,1303.0 1075.4,1305.4 1076.1,1305.6 1076.8,1303.1 1077.5,1301.5 1078.2,1301.0 1078.9,1304.5 1079.6,1306.6 1080.4,1306.3 1081.1,1307.0 1081.8,1307.8 1082.5,1305.1 1083.2,1306.7 1083.9,1302.9 1084.6,1306.3 1085.4,1305.9 1086.1,1305.1 1086.8,1304.5 1087.5,1303.4 1088.2,1305.2 1088.9,1306.8 1089.5,1304.2 1090.2,1305.5 1090.9,1303.6 1091.6,1304.9 1092.3,1302.9 1093.0,1304.9 1093.7,1303.9 1094.4,1304.6 1095.1,1303.1 1095.8,1302.2 1096.5,1303.3 1097.2,1305.3 1097.9,1306.0 1098.6,1303.1 1099.3,1304.7 1100.0,1304.5 1100.7,1303.9 1101.4,1300.9 1102.1,1303.6 1102.8,1301.5 1103.5,1304.7 1104.2,1304.0 1104.9,1303.6 1105.6,1298.8 1106.3,1303.5 1107.0,1303.5 1107.7,1300.4 1108.4,1303.7 1109.1,1302.3 1109.8,1301.8 1110.5,1300.9 1111.2,1300.4 1111.9,1301.1 1112.6,1306.3 1113.3,1301.9 1114.0,1301.8 1114.7,1300.4 1115.4,1300.4 1116.1,1300.4 1116.8,1299.9 1117.5,1302.4 1118.2,1300.6 1118.9,1302.3 1119.6,1299.2 1120.2,1302.2 1120.9,1300.7 1121.6,1301.7 1122.3,1300.5 1123.0,1299.2 1123.7,1302.3 1124.4,1299.8 1125.1,1300.1 1125.8,1299.0 1126.5,1300.5 1127.2,1299.6 1127.9,1300.5 1128.6,1300.5 1129.3,1298.9 1130.0,1297.7 1130.7,1300.4 1131.4,1301.1 1132.1,1300.7 1132.8,1297.9 1133.5,1300.4 1134.1,1300.0 1134.8,1299.8 1135.5,1300.0 1136.2,1298.8 1136.9,1299.5 1137.6,1300.5 1138.3,1298.3 1139.0,1296.8 1139.7,1298.7 1140.4,1299.1 1141.1,1296.1 1141.8,1297.9 1142.5,1299.8 1143.2,1298.8 1143.9,1299.2 1144.6,1297.2 1145.3,1300.5 1146.0,1301.8 1146.7,1298.9 1147.4,1298.1 1148.0,1297.5 1148.7,1300.7 1149.4,1299.5 1150.1,1298.2 1150.8,1301.3 1151.5,1300.6 1152.2,1300.4 1152.9,1296.9 1153.6,1299.5 1154.3,1300.6 1155.0,1297.9 1155.7,1301.1 1156.4,1301.9 1157.1,1301.4 1157.8,1298.8 1158.5,1298.8 1159.2,1301.4 1159.9,1301.5 1160.6,1301.9 1161.3,1301.9 1162.0,1300.0 1162.6,1299.5 1163.3,1297.4 1164.0,1301.4 1164.7,1303.7 1165.4,1299.6 1166.1,1299.7 1166.9,1301.5 1167.6,1301.2 1168.3,1298.7 1169.0,1299.8 1169.7,1299.4 1170.4,1304.2 1171.1,1300.2 1171.9,1302.7 1172.6,1304.4 1173.3,1304.5 1174.0,1303.9 1174.7,1304.3 1175.4,1300.1 1176.1,1301.6 1176.9,1301.1 1177.6,1301.9 1178.3,1306.4 1179.0,1300.1 1179.7,1303.5 1180.4,1301.0 1181.1,1305.2 1181.8,1305.5 1182.5,1303.1 1183.2,1307.4 1183.9,1304.7 1184.6,1306.9 1185.3,1305.8 1186.0,1304.9 1186.7,1305.5 1187.4,1306.3 1188.1,1307.7 1188.8,1307.4 1189.5,1311.1 1190.2,1307.6 1190.9,1307.5 1191.6,1307.5 1192.3,1307.8 1192.9,1307.2 1193.7,1307.2 1194.4,1309.4 1195.1,1307.5 1195.8,1306.5 1196.5,1306.6 1197.2,1307.1 1198.0,1305.8 1198.7,1305.3 1199.4,1302.7 1200.1,1302.5 1200.8,1301.1 1201.5,1301.5 1202.2,1299.7 1203.0,1299.8 1203.6,1299.5 1204.3,1298.9 1205.0,1298.3 1205.7,1297.4 1206.4,1299.6 1207.0,1296.5 1207.7,1295.0 1208.4,1296.2 1209.1,1293.8 1209.8,1293.3 1210.5,1294.4 1211.1,1292.6 1211.8,1291.0 1212.5,1297.1 1213.2,1299.0 1213.9,1295.7 1214.6,1297.6 1215.2,1300.6 1215.9,1297.5 1216.6,1300.0 1217.3,1300.2 1218.0,1302.5 1218.7,1300.6 1219.4,1305.6 1220.1,1304.8 1220.8,1306.1 1221.5,1305.9 1222.3,1303.9 1223.0,1307.6 1223.7,1306.5 1224.4,1309.3 1225.1,1308.7 1225.8,1310.2 1226.5,1311.1 1227.3,1313.3 1228.0,1314.0 1228.7,1311.4 1229.4,1312.9 1230.1,1315.2 1230.8,1313.8 1231.5,1312.0 1232.2,1313.0 1232.9,1312.7 1233.6,1314.6 1234.3,1313.3 1235.0,1313.9 1235.7,1316.7 1236.4,1311.4 1237.1,1312.0 1237.8,1310.9 1238.5,1311.2 1239.2,1314.9 1239.9,1314.1 1240.6,1316.2 1241.3,1310.8 1242.0,1312.5 1242.7,1316.1 1243.4,1315.5 1244.1,1315.3 1244.8,1315.3 1245.5,1314.1 1246.2,1314.1 1246.9,1314.2 1247.6,1315.5 1248.3,1314.0 1249.0,1314.3" fill="none" stroke="#ff0000" stroke-width="3.6" stroke-linejoin="round" stroke-linecap="butt"/>
<polyline points="301.0,1051.6 301.7,1053.1 302.4,1052.6 303.1,1052.4 303.8,1053.7 304.5,1052.9 305.2,1052.6 305.9,1054.5 306.6,1052.4 307.3,1051.7 307.9,1051.6 308.6,1052.4 309.3,1053.5 310.0,1053.6 310.7,1053.0 311.5,1052.7 312.2,1051.7 312.9,1049.9 313.6,1049.6 314.3,1048.1 315.0,1046.1 315.7,1046.5 316.5,1044.9 317.2,1043.8 317.9,1044.9 318.6,1042.9 319.3,1040.9 320.0,1040.3 320.7,1041.6 321.5,1038.4 322.2,1038.4 322.9,1037.4 323.6,1036.4 324.3,1035.6 325.0,1033.7 325.8,1032.8 326.5,1032.2 327.2,1031.1 327.9,1031.3 328.6,1031.1 329.3,1028.0 330.0,1027.8 330.7,1024.9 331.4,1022.0 332.0,1019.1 332.7,1016.2 333.4,1013.3 334.0,1010.3 334.7,998.7 335.4,987.0 336.0,975.3 336.8,981.6 337.5,987.8 338.3,994.1 339.0,1000.9 339.7,1002.0 340.4,1004.7 341.1,1007.7 341.9,1010.5 342.6,1012.5 343.3,1010.1 344.0,1013.4 344.7,1011.6 345.4,1010.9 346.1,1011.7 346.8,1010.2 347.6,1009.1 348.2,1012.1 348.8,1013.3 349.4,1013.4 350.1,1015.3 350.8,1010.3 351.5,1005.3 352.2,1000.3 352.9,995.3 353.6,990.3 354.3,985.3 355.1,980.3 355.7,973.0 356.4,965.8 357.1,958.5 357.8,951.2 358.5,943.9 359.2,936.6 359.8,929.4 360.5,922.1 361.2,914.8 361.9,907.5 362.6,900.2 363.3,893.1 364.0,885.9 364.7,878.8 365.4,871.6 366.1,864.5 366.9,857.4 367.6,850.2 368.3,843.1 369.0,835.9 369.7,828.8 370.4,821.6 371.1,814.5 371.9,807.3 372.6,800.2 373.3,796.2 374.0,792.3 374.7,788.4 375.4,784.4 376.1,780.5 376.9,776.6 377.6,772.6 378.3,768.7 379.0,764.8 379.7,760.8 380.4,756.9 381.2,753.0 381.9,749.0 382.6,745.9 383.3,744.8 384.0,742.7 384.7,744.6 385.4,742.6 386.2,740.6 386.9,741.3 387.6,740.3 388.3,742.0 389.0,740.9 389.7,744.1 390.4,745.0 391.1,745.1 391.8,750.7 392.5,756.2 393.3,761.8 394.0,767.4 394.7,772.9 395.4,778.5 396.1,784.0 396.9,789.6 397.6,795.2 398.3,799.0 399.0,802.9 399.8,806.8 400.5,810.7 401.2,814.6 401.9,818.5 402.7,822.4 403.4,826.3 404.1,830.9 404.8,831.8 405.5,833.4 406.2,833.9 406.9,834.4 407.6,834.5 408.3,835.5 409.0,834.5 409.7,833.1 410.4,832.2 411.1,831.9 411.9,831.2 412.6,836.0 413.4,835.7 414.1,840.2 414.8,849.5 415.5,858.8 416.3,868.1 417.0,877.4 417.7,886.7 418.4,896.0 419.1,905.2 419.8,909.2 420.5,913.1 421.3,917.0 422.0,921.0 422.7,924.9 423.4,928.8 424.1,933.0 424.8,932.7 425.5,932.3 426.1,929.0 426.8,928.8 427.5,927.2 428.1,924.1 428.8,925.7 429.5,923.9 430.1,922.9 430.8,920.7 431.6,920.3 432.3,919.1 433.0,919.0 433.7,916.8 434.4,918.5 435.1,913.7 435.8,912.6 436.6,911.5 437.3,909.6 438.0,910.4 438.7,908.4 439.4,905.4 440.1,905.4 440.8,905.0 441.5,901.3 442.2,901.3 442.9,899.6 443.5,900.6 444.2,897.5 444.9,895.4 445.6,893.9 446.3,894.7 447.0,891.2 447.6,892.4 448.4,887.1 449.1,886.5 449.8,884.7 450.5,882.5 451.2,881.2 452.0,880.2 452.7,877.2 453.4,874.7 454.1,875.5 454.8,875.3 455.5,873.0 456.1,873.5 456.8,870.6 457.5,873.5 458.1,871.0 458.8,871.4 459.5,873.6 460.1,870.1 460.8,870.6 461.5,869.0 462.2,867.6 462.9,867.6 463.6,868.2 464.3,866.1 465.0,866.1 465.7,866.7 466.4,865.2 467.1,863.5 467.8,865.4 468.5,863.5 469.2,864.0 469.8,859.9 470.5,860.4 471.2,855.7 471.8,853.4 472.5,852.6 473.2,850.7 473.8,849.4 474.5,846.7 475.2,845.2 475.9,838.8 476.6,832.3 477.3,825.9 478.0,819.5 478.7,813.0 479.4,806.6 480.2,800.2 480.9,785.9 481.6,771.6 482.3,757.3 483.0,743.0 483.7,728.7 484.5,714.4 485.2,700.1 485.9,685.8 486.6,671.5 487.3,657.2 488.0,642.9 488.7,628.6 489.5,614.3 490.2,600.0 490.8,575.1 491.5,550.1 492.2,525.2 492.8,500.2 493.5,475.3 494.2,450.4 494.8,425.3 495.5,400.3 496.2,375.3 496.8,350.3 497.5,325.3 498.2,300.2 498.9,275.2 499.7,250.2 500.4,225.2 501.2,200.2 501.8,183.9 502.4,167.6 503.1,151.4 503.7,135.1 504.3,151.4 504.9,167.6 505.6,183.9 506.2,200.2 506.9,237.7 507.7,275.2 508.4,312.8 509.2,350.3 509.8,387.8 510.4,425.3 511.1,462.9 511.7,500.4 512.3,529.8 512.9,559.2 513.6,588.6 514.2,618.0 514.9,644.4 515.6,670.8 516.3,697.3 517.0,723.7 517.7,750.1 518.4,764.4 519.1,778.7 519.8,793.0 520.6,807.3 521.3,821.6 522.0,835.9 522.7,850.2 523.4,860.9 524.1,871.6 524.8,882.4 525.6,893.1 526.3,903.8 527.0,914.5 527.7,925.3 528.4,929.4 529.1,933.6 529.8,937.7 530.6,941.8 531.3,946.0 532.0,950.1 532.7,954.9 533.4,955.7 534.1,954.1 534.8,953.6 535.4,954.7 536.1,956.0 536.8,956.2 537.5,955.3 538.2,954.9 538.8,955.9 539.5,957.0 540.2,955.7 540.9,957.5 541.6,956.5 542.3,956.6 542.9,955.8 543.6,957.6 544.3,956.4 545.0,955.0 545.7,957.1 546.4,955.9 547.0,957.3 547.7,956.5 548.4,955.4 549.1,955.8 549.8,954.9 550.4,954.3 551.1,954.8 551.8,955.2 552.5,954.2 553.2,953.7 553.9,953.0 554.5,953.7 555.2,953.1 555.9,951.9 556.7,949.6 557.4,949.4 558.1,944.2 558.8,943.8 559.5,942.6 560.2,940.3 560.9,936.0 561.7,931.7 562.4,927.4 563.1,923.1 563.8,918.8 564.5,914.5 565.2,910.3 565.9,901.7 566.7,893.1 567.4,884.5 568.1,875.9 568.8,867.4 569.5,858.8 570.2,850.2 570.9,835.9 571.7,821.6 572.4,807.3 573.1,793.0 573.8,778.7 574.5,764.4 575.2,750.1 576.0,732.2 576.7,714.4 577.4,696.5 578.1,678.6 578.8,660.8 579.5,642.9 580.2,625.0 580.9,583.5 581.6,541.9 582.2,500.4 582.9,483.7 583.6,467.0 584.2,450.4 584.9,433.7 585.6,417.0 586.2,400.3 586.9,379.5 587.6,358.6 588.2,337.8 588.9,316.9 589.6,296.1 590.3,275.2 591.0,259.2 591.8,243.2 592.5,227.2 593.3,211.2 594.0,227.2 594.8,243.2 595.5,259.2 596.3,275.2 597.0,306.5 597.8,337.8 598.5,369.0 599.3,400.3 599.9,425.3 600.5,450.4 601.1,475.4 601.8,500.4 602.4,529.8 603.0,559.2 603.6,588.6 604.3,618.0 605.0,644.4 605.7,670.8 606.4,697.3 607.1,723.7 607.8,750.1 608.5,768.0 609.2,785.9 609.9,803.7 610.6,821.6 611.3,839.5 612.1,857.4 612.8,875.2 613.5,883.8 614.2,892.4 614.9,901.0 615.6,909.5 616.3,918.1 617.1,926.7 617.8,935.3 618.5,938.5 619.1,941.6 619.8,944.8 620.5,948.0 621.2,951.2 621.9,954.4 622.5,957.6 623.2,960.7 623.9,963.9 624.6,967.1 625.3,971.2 626.0,971.1 626.7,973.5 627.4,976.7 628.1,979.9 628.9,982.1 629.6,981.8 630.3,985.5 631.0,988.6 631.7,989.7 632.4,990.8 633.1,993.3 633.9,994.9 634.6,999.3 635.3,1000.1 636.0,1002.0 636.7,1003.7 637.3,1006.4 638.0,1007.7 638.7,1009.7 639.4,1012.6 640.1,1014.5 640.7,1017.2 641.4,1018.9 642.1,1021.9 642.8,1022.8 643.5,1024.3 644.2,1025.4 644.8,1025.6 645.5,1028.5 646.2,1028.1 646.9,1028.3 647.6,1032.0 648.3,1032.6 648.9,1032.6 649.6,1035.1 650.3,1035.4 650.9,1039.1 651.6,1042.9 652.2,1046.6 652.8,1050.4 653.5,1054.7 654.2,1058.9 654.9,1063.2 655.7,1067.5 656.4,1071.8 657.1,1076.1 657.8,1081.3 658.5,1083.8 659.2,1084.8 659.9,1088.8 660.5,1090.4 661.2,1093.5 661.9,1096.3 662.6,1098.8 663.3,1102.7 663.9,1104.3 664.6,1108.3 665.3,1110.6 666.0,1111.7 666.7,1114.2 667.5,1116.4 668.2,1118.6 668.9,1119.2 669.6,1122.8 670.3,1123.5 671.0,1125.9 671.7,1125.3 672.5,1127.4 673.2,1131.2 673.9,1131.7 674.6,1134.1 675.3,1136.6 676.0,1135.1 676.7,1137.7 677.5,1139.9 678.2,1139.8 678.9,1140.0 679.6,1141.3 680.3,1141.7 681.0,1143.3 681.8,1144.7 682.5,1144.2 683.2,1145.8 683.9,1146.5 684.6,1147.8 685.3,1148.7 686.0,1147.5 686.8,1150.0 687.5,1150.2 688.2,1148.8 688.9,1150.0 689.6,1149.4 690.3,1151.0 691.0,1152.0 691.8,1151.1 692.5,1151.9 693.2,1152.3 693.9,1152.9 694.6,1153.3 695.3,1153.5 696.1,1154.6 696.8,1153.5 697.5,1152.6 698.2,1153.8 698.9,1152.0 699.6,1152.9 700.3,1150.6 701.1,1152.6 701.8,1150.5 702.5,1149.7 703.2,1150.5 703.9,1148.6 704.6,1148.4 705.3,1149.2 706.1,1149.0 706.8,1150.3 707.5,1150.5 708.2,1151.1 708.9,1151.4 709.6,1152.4 710.3,1152.2 711.1,1153.7 711.8,1154.0 712.5,1151.8 713.2,1152.5 713.9,1156.0 714.6,1154.6 715.4,1155.7 716.0,1155.8 716.7,1156.6 717.4,1158.8 718.1,1156.7 718.8,1157.8 719.4,1158.2 720.1,1157.7 720.8,1158.3 721.5,1159.3 722.2,1160.0 722.9,1160.8 723.5,1159.8 724.2,1161.3 724.9,1165.4 725.6,1164.9 726.3,1166.9 727.0,1166.9 727.6,1167.8 728.3,1171.5 729.0,1169.6 729.7,1171.0 730.4,1173.6 731.1,1173.6 731.8,1172.6 732.5,1174.7 733.2,1175.8 733.9,1174.3 734.7,1175.7 735.4,1177.5 736.1,1179.0 736.8,1175.7 737.5,1177.7 738.2,1178.9 738.9,1178.6 739.7,1179.1 740.4,1180.0 741.1,1181.3 741.8,1180.3 742.5,1182.4 743.2,1182.7 743.9,1183.1 744.7,1184.0 745.4,1182.5 746.1,1183.3 746.8,1184.6 747.5,1185.2 748.2,1185.3 749.0,1184.4 749.7,1184.7 750.4,1184.3 751.1,1185.4 751.7,1185.3 752.4,1186.0 753.1,1186.5 753.7,1187.9 754.4,1188.2 755.1,1187.7 755.8,1186.9 756.5,1188.0 757.2,1188.5 758.0,1189.0 758.7,1188.6 759.4,1189.2 760.1,1188.0 760.8,1189.3 761.5,1189.5 762.2,1188.6 763.0,1188.4 763.7,1190.3 764.4,1188.4 765.1,1190.1 765.8,1189.3 766.5,1189.4 767.2,1189.6 768.0,1189.5 768.7,1190.0 769.4,1191.8 770.1,1191.6 770.8,1190.2 771.5,1190.8 772.2,1191.2 772.9,1190.1 773.6,1192.2 774.2,1190.6 774.9,1191.2 775.6,1189.8 776.3,1189.7 777.0,1189.9 777.7,1190.3 778.4,1191.8 779.1,1190.7 779.8,1191.8 780.5,1190.7 781.1,1190.2 781.8,1191.3 782.5,1190.8 783.2,1189.8 783.9,1191.3 784.6,1192.4 785.3,1191.2 786.0,1190.4 786.7,1190.8 787.4,1190.5 788.1,1191.4 788.7,1190.8 789.4,1191.6 790.1,1191.9 790.8,1193.1 791.6,1191.1 792.3,1190.4 793.0,1193.9 793.7,1193.0 794.4,1192.4 795.1,1193.4 795.8,1192.3 796.6,1193.0 797.3,1194.0 798.0,1193.3 798.7,1193.9 799.4,1194.3 800.1,1194.2 800.8,1194.1 801.6,1194.9 802.3,1195.8 803.0,1195.9 803.7,1194.1 804.4,1195.8 805.1,1193.6 805.8,1194.5 806.6,1196.6 807.3,1197.1 808.0,1198.4 808.7,1196.0 809.4,1199.0 810.1,1198.0 810.9,1198.6 811.6,1199.9 812.3,1201.2 813.0,1199.5 813.7,1199.3 814.4,1200.8 815.1,1201.7 815.9,1203.0 816.6,1202.4 817.3,1202.0 818.0,1202.0 818.7,1202.2 819.4,1203.6 820.1,1201.4 820.9,1202.5 821.6,1202.5 822.3,1204.5 823.0,1203.7 823.7,1203.2 824.4,1204.6 825.1,1205.9 825.9,1205.2 826.6,1203.3 827.3,1204.4 828.0,1205.8 828.7,1203.3 829.4,1204.0 830.2,1204.9 830.8,1205.7 831.5,1204.5 832.2,1205.4 832.9,1205.1 833.6,1205.6 834.3,1204.2 835.0,1203.3 835.7,1203.3 836.4,1205.4 837.1,1206.2 837.7,1205.7 838.4,1203.8 839.1,1203.7 839.8,1205.0 840.5,1204.4 841.2,1203.6 841.9,1204.7 842.6,1204.6 843.3,1205.2 844.0,1205.6 844.6,1205.4 845.3,1205.4 846.0,1205.7 846.7,1205.2 847.4,1204.9 848.1,1205.0 848.8,1206.3 849.5,1205.0 850.2,1205.2 850.8,1201.1 851.5,1196.9 852.2,1192.7 852.8,1188.6 853.5,1184.4 854.2,1180.2 854.8,1155.8 855.4,1131.4 856.0,1107.0 856.7,1082.6 857.3,1107.0 857.9,1131.4 858.6,1155.8 859.2,1180.2 859.9,1186.4 860.6,1192.6 861.3,1198.8 862.0,1205.0 862.7,1212.0 863.4,1212.9 864.0,1213.2 864.7,1209.9 865.4,1212.1 866.1,1213.1 866.8,1212.0 867.5,1211.9 868.1,1211.4 868.8,1212.3 869.5,1213.1 870.2,1211.6 870.9,1213.3 871.6,1212.6 872.3,1213.3 872.9,1212.4 873.6,1213.4 874.3,1213.5 875.0,1212.8 875.7,1212.8 876.4,1214.3 877.1,1214.0 877.8,1212.8 878.5,1213.9 879.2,1212.5 879.8,1213.0 880.5,1210.9 881.2,1213.0 881.9,1214.2 882.6,1213.1 883.3,1214.1 884.0,1213.0 884.7,1213.9 885.4,1213.5 886.1,1212.8 886.8,1215.6 887.4,1212.9 888.1,1212.5 888.8,1213.8 889.5,1214.2 890.2,1214.1 890.9,1213.7 891.6,1214.3 892.3,1214.8 893.0,1214.6 893.7,1212.8 894.4,1215.7 895.1,1214.1 895.8,1212.4 896.5,1215.0 897.2,1214.2 897.9,1214.7 898.6,1216.2 899.3,1214.0 900.0,1214.0 900.7,1213.8 901.4,1214.9 902.1,1215.3 902.8,1215.2 903.5,1215.0 904.2,1213.0 904.9,1215.2 905.6,1216.0 906.3,1214.6 907.0,1214.7 907.7,1214.3 908.4,1215.5 909.1,1213.9 909.8,1217.1 910.5,1215.3 911.1,1215.0 911.8,1214.5 912.5,1216.1 913.2,1216.6 913.9,1215.2 914.6,1216.0 915.3,1216.1 916.0,1216.8 916.7,1216.5 917.4,1217.1 918.1,1214.8 918.8,1218.5 919.5,1215.8 920.2,1215.3 920.9,1215.4 921.6,1216.6 922.3,1217.0 923.0,1218.5 923.7,1217.4 924.4,1215.7 925.1,1216.0 925.8,1215.9 926.5,1215.8 927.2,1216.2 927.9,1215.8 928.6,1217.5 929.3,1216.7 930.0,1217.0 930.7,1216.3 931.4,1215.4 932.1,1216.9 932.8,1216.1 933.5,1218.3 934.2,1217.6 934.9,1215.4 935.6,1215.6 936.3,1216.0 937.0,1216.4 937.7,1217.6 938.4,1216.4 939.1,1217.0 939.8,1216.3 940.5,1216.4 941.2,1217.7 941.9,1216.6 942.6,1218.4 943.3,1216.6 944.0,1217.0 944.7,1217.0 945.4,1217.3 946.1,1218.4 946.8,1216.1 947.5,1216.3 948.2,1215.9 948.9,1218.4 949.6,1217.2 950.3,1217.2 950.9,1217.2 951.6,1215.1 952.3,1217.4 953.0,1216.8 953.7,1217.0 954.4,1216.7 955.1,1216.6 955.8,1216.6 956.5,1216.1 957.2,1216.4 957.8,1217.2 958.5,1214.7 959.2,1217.3 959.9,1217.1 960.6,1215.6 961.3,1217.0 962.0,1216.8 962.7,1216.0 963.4,1218.0 964.1,1216.6 964.7,1216.3 965.4,1215.2 966.1,1218.3 966.8,1216.6 967.5,1216.6 968.2,1216.1 968.9,1218.2 969.6,1216.2 970.3,1217.7 970.9,1216.9 971.6,1216.6 972.3,1216.0 972.9,1216.2 973.6,1214.8 974.3,1212.7 974.9,1211.9 975.6,1215.1 976.3,1211.9 977.0,1215.5 977.7,1217.6 978.4,1213.6 979.2,1216.3 979.9,1216.7 980.6,1216.1 981.3,1215.5 982.1,1217.7 982.8,1219.8 983.5,1218.5 984.1,1218.8 984.8,1219.2 985.5,1219.4 986.2,1219.9 986.9,1222.0 987.6,1219.4 988.2,1218.8 988.9,1221.5 989.6,1220.5 990.3,1220.8 991.0,1219.9 991.7,1220.9 992.4,1220.6 993.0,1221.2 993.7,1220.4 994.4,1219.3 995.1,1221.0 995.8,1220.4 996.5,1218.6 997.2,1219.9 997.9,1220.8 998.6,1220.0 999.3,1219.6 999.9,1220.4 1000.6,1219.1 1001.3,1219.0 1002.0,1220.0 1002.7,1219.3 1003.4,1218.8 1004.1,1219.4 1004.8,1219.3 1005.5,1219.8 1006.2,1219.8 1006.8,1218.9 1007.5,1218.7 1008.2,1217.7 1008.9,1218.7 1009.6,1218.1 1010.3,1219.0 1011.0,1219.0 1011.7,1218.9 1012.4,1218.3 1013.1,1218.7 1013.8,1219.8 1014.5,1220.0 1015.2,1217.9 1015.9,1216.0 1016.6,1219.1 1017.2,1217.2 1017.9,1218.6 1018.6,1219.0 1019.3,1220.0 1020.0,1218.5 1020.7,1218.6 1021.4,1218.2 1022.1,1219.0 1022.8,1217.7 1023.5,1219.3 1024.2,1219.1 1024.9,1220.1 1025.6,1218.6 1026.3,1219.2 1027.0,1219.1 1027.7,1219.0 1028.4,1218.1 1029.1,1218.5 1029.8,1219.1 1030.5,1219.5 1031.1,1220.0 1031.8,1218.6 1032.5,1219.4 1033.2,1219.7 1033.9,1220.0 1034.6,1219.5 1035.3,1219.5 1036.0,1218.8 1036.7,1219.0 1037.4,1218.7 1038.0,1217.2 1038.7,1218.0 1039.4,1216.3 1040.1,1218.8 1040.8,1219.0 1041.5,1217.7 1042.1,1218.1 1042.8,1217.9 1043.5,1216.4 1044.2,1216.8 1044.9,1214.2 1045.6,1213.5 1046.2,1212.0 1046.9,1212.8 1047.6,1208.4 1048.3,1208.9 1049.0,1206.4 1049.6,1205.8 1050.3,1204.4 1051.0,1205.0 1051.7,1202.4 1052.5,1201.5 1053.2,1201.1 1053.9,1199.6 1054.6,1198.6 1055.3,1200.0 1056.0,1197.0 1056.7,1195.9 1057.4,1196.9 1058.1,1194.8 1058.8,1194.8 1059.6,1193.3 1060.3,1195.5 1061.0,1197.2 1061.7,1198.0 1062.5,1199.3 1063.2,1200.9 1063.9,1201.3 1064.6,1202.8 1065.3,1203.4 1066.0,1203.2 1066.7,1205.2 1067.4,1207.4 1068.1,1206.5 1068.8,1208.9 1069.4,1210.2 1070.1,1211.9 1070.8,1210.4 1071.5,1215.1 1072.2,1212.8 1072.9,1215.3 1073.5,1218.0 1074.2,1215.0 1074.9,1218.7 1075.6,1217.3 1076.3,1219.3 1076.9,1219.3 1077.6,1218.6 1078.3,1218.2 1079.0,1219.1 1079.7,1218.7 1080.4,1219.1 1081.1,1220.7 1081.8,1219.2 1082.5,1220.9 1083.2,1220.7 1083.9,1220.7 1084.6,1220.0 1085.4,1219.9 1086.1,1221.9 1086.8,1220.4 1087.5,1220.8 1088.2,1221.3 1088.9,1222.2 1089.6,1223.5 1090.4,1223.5 1091.1,1222.4 1091.8,1222.1 1092.4,1222.0 1093.1,1221.0 1093.8,1220.9 1094.5,1219.4 1095.2,1221.3 1095.9,1220.2 1096.6,1220.9 1097.3,1222.4 1098.0,1221.0 1098.7,1221.2 1099.4,1220.8 1100.1,1219.3 1100.8,1219.1 1101.5,1218.3 1102.2,1218.9 1102.9,1219.4 1103.6,1219.8 1104.3,1219.5 1105.0,1218.6 1105.7,1217.7 1106.3,1218.6 1107.0,1218.7 1107.7,1216.5 1108.4,1218.3 1109.1,1216.7 1109.8,1217.5 1110.5,1217.6 1111.2,1216.7 1111.9,1217.0 1112.6,1217.3 1113.3,1216.3 1114.0,1217.7 1114.7,1217.5 1115.4,1217.3 1116.1,1215.8 1116.8,1216.6 1117.5,1216.5 1118.2,1216.9 1118.9,1217.5 1119.6,1216.3 1120.2,1216.8 1120.9,1217.5 1121.6,1216.5 1122.3,1217.4 1123.0,1216.8 1123.7,1215.5 1124.4,1216.7 1125.1,1216.9 1125.8,1216.4 1126.5,1218.5 1127.2,1216.4 1127.9,1215.5 1128.6,1216.6 1129.3,1216.6 1130.0,1217.2 1130.7,1219.0 1131.4,1216.9 1132.1,1217.5 1132.8,1216.1 1133.5,1215.9 1134.1,1216.1 1134.8,1216.6 1135.5,1216.4 1136.2,1216.8 1136.9,1216.2 1137.6,1215.7 1138.3,1216.1 1139.0,1217.5 1139.7,1215.7 1140.4,1217.5 1141.1,1218.3 1141.8,1216.1 1142.5,1217.9 1143.3,1217.9 1144.0,1214.9 1144.7,1218.1 1145.4,1218.0 1146.1,1216.8 1146.8,1219.2 1147.6,1216.1 1148.3,1219.0 1149.0,1218.2 1149.7,1217.1 1150.4,1218.2 1151.1,1216.8 1151.8,1218.8 1152.6,1218.9 1153.3,1219.6 1154.0,1219.8 1154.7,1218.1 1155.4,1219.2 1156.1,1218.5 1156.8,1216.7 1157.6,1220.4 1158.3,1220.9 1159.0,1220.3 1159.7,1221.9 1160.4,1220.6 1161.1,1219.3 1161.9,1220.7 1162.6,1221.1 1163.3,1221.9 1164.0,1221.6 1164.7,1220.2 1165.4,1221.3 1166.1,1222.6 1166.9,1224.0 1167.6,1222.6 1168.3,1222.3 1169.0,1223.3 1169.7,1224.8 1170.4,1225.4 1171.1,1223.7 1171.9,1225.5 1172.6,1226.3 1173.3,1226.1 1174.0,1224.7 1174.7,1226.5 1175.4,1225.8 1176.1,1226.1 1176.9,1228.6 1177.6,1227.1 1178.3,1227.9 1179.0,1228.8 1179.7,1229.5 1180.4,1228.5 1181.2,1228.0 1181.9,1228.8 1182.6,1228.5 1183.3,1229.3 1184.0,1229.6 1184.7,1228.7 1185.4,1229.6 1186.1,1229.1 1186.8,1230.3 1187.5,1231.2 1188.2,1231.2 1188.9,1230.7 1189.6,1229.8 1190.3,1230.6 1191.0,1229.5 1191.7,1231.3 1192.4,1229.4 1193.1,1230.3 1193.8,1232.5 1194.5,1231.4 1195.2,1230.2 1195.9,1230.9 1196.6,1230.2 1197.3,1230.5 1198.0,1230.9 1198.6,1230.2 1199.3,1230.8 1200.0,1231.3 1200.7,1229.2 1201.4,1228.8 1202.0,1228.6 1202.7,1228.5 1203.4,1228.8 1204.1,1227.8 1204.8,1227.3 1205.5,1227.2 1206.2,1228.3 1206.9,1227.9 1207.6,1227.6 1208.3,1226.5 1209.0,1225.1 1209.7,1226.9 1210.5,1227.3 1211.1,1225.1 1211.8,1225.6 1212.5,1227.6 1213.2,1227.7 1213.9,1227.9 1214.6,1229.9 1215.2,1228.3 1215.9,1228.2 1216.6,1229.0 1217.3,1230.0 1218.0,1230.5 1218.6,1232.0 1219.3,1232.2 1220.0,1231.4 1220.7,1233.3 1221.4,1233.1 1222.1,1235.2 1222.7,1235.4 1223.4,1234.5 1224.1,1236.1 1224.8,1235.0 1225.5,1237.2 1226.2,1237.1 1226.9,1237.7 1227.6,1236.4 1228.3,1237.0 1229.0,1237.5 1229.8,1238.1 1230.5,1239.1 1231.2,1238.0 1231.9,1237.2 1232.6,1238.8 1233.3,1240.2 1234.1,1240.6 1234.8,1238.9 1235.5,1240.9 1236.2,1240.5 1236.9,1241.1 1237.6,1240.7 1238.3,1241.7 1239.0,1240.0 1239.7,1242.7 1240.5,1241.8 1241.2,1239.9 1241.9,1239.6 1242.6,1242.0 1243.3,1239.7 1244.0,1240.5 1244.7,1241.7 1245.4,1241.3 1246.1,1241.6 1246.9,1239.6 1247.6,1240.9 1248.3,1242.2 1249.0,1241.8" fill="none" stroke="#0000ff" stroke-width="3.6" stroke-linejoin="round" stroke-linecap="butt"/>
<polyline points="1287.6,1335.2 1288.3,1338.3 1289.0,1334.7 1289.7,1333.4 1290.3,1337.3 1291.0,1338.3 1291.7,1338.3 1292.4,1338.9 1293.1,1338.2 1293.8,1337.7 1294.4,1337.8 1295.1,1339.1 1295.8,1338.5 1296.5,1340.5 1297.3,1339.6 1298.0,1336.1 1298.7,1339.2 1299.4,1337.6 1300.1,1339.3 1300.8,1339.6 1301.6,1337.7 1302.3,1333.4 1303.0,1337.2 1303.7,1333.1 1304.4,1338.2 1305.1,1334.1 1305.8,1334.6 1306.6,1337.7 1307.3,1331.2 1308.0,1334.0 1308.7,1331.8 1309.4,1332.5 1310.1,1331.7 1310.8,1334.0 1311.6,1332.2 1312.3,1333.1 1313.0,1333.4 1313.7,1329.2 1314.4,1334.4 1315.1,1331.4 1315.8,1328.8 1316.6,1330.3 1317.3,1332.8 1318.0,1332.8 1318.7,1329.7 1319.4,1330.9 1320.1,1331.0 1320.9,1332.6 1321.6,1330.8 1322.3,1332.9 1323.0,1330.0 1323.7,1330.5 1324.4,1333.1 1325.1,1333.5 1325.9,1332.4 1326.6,1333.7 1327.3,1333.3 1328.0,1334.5 1328.7,1335.4 1329.4,1334.5 1330.1,1335.3 1330.9,1333.4 1331.6,1333.4 1332.3,1330.5 1333.0,1335.5 1333.7,1335.1 1334.4,1336.2 1335.1,1332.3 1335.8,1334.7 1336.5,1334.5 1337.2,1332.3 1337.9,1337.0 1338.6,1337.5 1339.3,1333.2 1340.0,1336.1 1340.7,1338.3 1341.4,1333.2 1342.1,1337.0 1342.8,1338.0 1343.5,1338.5 1344.2,1332.8 1344.9,1333.3 1345.6,1335.5 1346.3,1337.2 1347.0,1332.9 1347.7,1333.7 1348.4,1333.1 1349.0,1336.9 1349.7,1334.0 1350.4,1335.9 1351.1,1336.0 1351.8,1336.9 1352.5,1335.6 1353.2,1335.4 1353.9,1336.8 1354.6,1335.6 1355.3,1332.5 1356.0,1333.8 1356.7,1336.3 1357.4,1334.9 1358.1,1334.0 1358.8,1335.0 1359.5,1340.4 1360.2,1334.5 1360.9,1335.4 1361.6,1335.4 1362.3,1334.2 1363.0,1336.7 1363.6,1336.2 1364.3,1335.4 1365.0,1332.4 1365.7,1337.0 1366.4,1336.1 1367.1,1334.7 1367.8,1330.2 1368.5,1334.8 1369.2,1332.8 1369.9,1334.5 1370.6,1334.1 1371.3,1333.5 1372.0,1336.8 1372.7,1335.2 1373.4,1337.2 1374.1,1333.4 1374.8,1334.8 1375.5,1337.5 1376.2,1335.8 1376.9,1334.0 1377.5,1333.7 1378.2,1334.2 1378.9,1335.2 1379.6,1336.5 1380.3,1335.6 1381.0,1336.7 1381.7,1336.9 1382.4,1335.6 1383.1,1337.7 1383.8,1336.8 1384.5,1335.2 1385.2,1335.3 1385.9,1335.5 1386.6,1334.2 1387.3,1333.1 1388.0,1335.5 1388.7,1334.5 1389.4,1336.4 1390.1,1334.3 1390.8,1335.5 1391.4,1335.6 1392.1,1334.4 1392.8,1335.6 1393.5,1334.0 1394.2,1334.4 1394.9,1336.6 1395.6,1335.8 1396.3,1335.1 1397.0,1333.7 1397.7,1336.3 1398.4,1338.5 1399.1,1331.2 1399.8,1336.8 1400.5,1335.3 1401.2,1336.8 1401.9,1336.9 1402.6,1333.1 1403.3,1337.9 1404.0,1333.8 1404.7,1334.3 1405.3,1335.8 1406.0,1334.6 1406.7,1335.1 1407.4,1333.7 1408.1,1332.8 1408.8,1334.6 1409.5,1332.7 1410.2,1336.9 1410.9,1334.6 1411.6,1336.3 1412.3,1331.3 1413.0,1329.5 1413.7,1328.7 1414.4,1331.7 1415.1,1329.8 1415.8,1332.3 1416.5,1328.7 1417.2,1328.5 1417.9,1331.0 1418.6,1329.5 1419.2,1331.0 1419.9,1330.9 1420.6,1329.7 1421.3,1326.6 1422.0,1326.9 1422.7,1332.0 1423.4,1327.2 1424.2,1327.6 1424.9,1326.8 1425.6,1326.1 1426.3,1325.3 1427.0,1324.2 1427.7,1323.8 1428.4,1320.7 1429.2,1326.7 1429.9,1323.1 1430.6,1320.5 1431.3,1323.2 1432.0,1323.0 1432.7,1318.8 1433.4,1320.0 1434.2,1323.0 1434.9,1320.9 1435.6,1320.2 1436.3,1320.7 1437.0,1318.3 1437.7,1317.5 1438.4,1320.9 1439.2,1317.9 1439.9,1318.2 1440.6,1319.6 1441.3,1318.6 1442.0,1316.5 1442.7,1322.1 1443.5,1318.8 1444.2,1322.1 1444.9,1320.0 1445.6,1317.6 1446.3,1322.0 1447.0,1319.1 1447.7,1318.0 1448.5,1318.3 1449.2,1313.4 1449.9,1316.7 1450.6,1313.5 1451.3,1313.2 1452.0,1310.9 1452.7,1312.4 1453.5,1310.7 1454.2,1310.8 1454.9,1310.6 1455.6,1307.0 1456.3,1305.5 1457.0,1304.7 1457.7,1301.6 1458.4,1301.1 1459.1,1302.5 1459.8,1298.8 1460.5,1296.0 1461.2,1297.8 1461.8,1298.0 1462.5,1299.2 1463.2,1294.5 1463.9,1293.2 1464.6,1294.1 1465.3,1292.7 1465.9,1293.7 1466.6,1292.6 1467.3,1294.0 1468.0,1292.9 1468.7,1295.8 1469.3,1294.8 1470.0,1295.6 1470.7,1294.0 1471.4,1292.5 1472.1,1295.3 1472.8,1295.4 1473.5,1297.8 1474.2,1297.9 1474.9,1296.5 1475.6,1296.8 1476.3,1295.6 1477.1,1297.6 1477.8,1298.4 1478.5,1296.6 1479.2,1294.7 1479.9,1298.1 1480.5,1293.6 1481.2,1297.4 1481.9,1295.9 1482.6,1295.8 1483.3,1291.0 1484.0,1292.8 1484.7,1288.6 1485.4,1289.7 1486.1,1287.0 1486.8,1287.7 1487.5,1287.4 1488.2,1289.2 1488.9,1288.7 1489.6,1285.5 1490.3,1285.0 1491.0,1283.0 1491.7,1281.8 1492.4,1279.9 1493.1,1281.8 1493.8,1282.3 1494.6,1279.1 1495.3,1280.3 1496.0,1276.8 1496.7,1276.2 1497.4,1276.2 1498.1,1277.8 1498.9,1274.6 1499.6,1275.9 1500.3,1273.2 1501.0,1271.0 1501.7,1268.7 1502.4,1270.5 1503.1,1268.8 1503.9,1271.2 1504.6,1269.5 1505.3,1265.1 1506.0,1268.9 1506.7,1267.9 1507.4,1261.5 1508.1,1264.2 1508.9,1266.0 1509.6,1262.3 1510.3,1263.4 1511.0,1265.0 1511.7,1264.1 1512.4,1263.9 1513.2,1263.7 1513.9,1260.7 1514.6,1265.9 1515.3,1262.2 1516.0,1264.5 1516.7,1259.9 1517.4,1260.8 1518.2,1259.9 1518.9,1258.6 1519.6,1258.9 1520.3,1258.4 1521.0,1259.4 1521.7,1258.5 1522.4,1258.1 1523.2,1258.9 1523.9,1260.6 1524.6,1258.3 1525.3,1259.2 1526.0,1258.5 1526.7,1254.9 1527.4,1256.7 1528.2,1256.7 1528.9,1256.0 1529.6,1257.3 1530.3,1255.4 1531.0,1258.6 1531.7,1256.9 1532.5,1259.7 1533.2,1257.9 1533.9,1254.8 1534.6,1256.3 1535.3,1256.5 1536.0,1255.0 1536.7,1255.2 1537.5,1253.7 1538.2,1254.0 1538.9,1255.5 1539.6,1254.1 1540.3,1256.5 1541.0,1251.7 1541.7,1254.8 1542.5,1256.4 1543.2,1260.4 1543.9,1260.6 1544.6,1260.8 1545.3,1262.1 1546.0,1264.6 1546.7,1264.4 1547.5,1264.3 1548.2,1266.4 1548.9,1266.3 1549.6,1268.6 1550.3,1271.0 1551.0,1271.0 1551.8,1273.4 1552.5,1274.0 1553.2,1273.9 1553.9,1275.1 1554.6,1280.2 1555.3,1280.5 1556.0,1282.8 1556.7,1282.2 1557.4,1283.3 1558.1,1284.8 1558.8,1284.7 1559.5,1288.6 1560.2,1288.9 1560.9,1288.9 1561.6,1287.4 1562.3,1289.2 1563.0,1291.5 1563.7,1294.0 1564.4,1293.0 1565.1,1294.0 1565.8,1295.9 1566.4,1296.2 1567.1,1296.7 1567.8,1296.0 1568.5,1300.1 1569.2,1298.1 1569.9,1297.4 1570.6,1298.3 1571.3,1296.3 1572.0,1295.9 1572.7,1295.8 1573.4,1299.6 1574.1,1296.9 1574.8,1299.5 1575.5,1297.4 1576.2,1296.5 1576.9,1298.6 1577.6,1298.6 1578.3,1298.8 1579.0,1303.0 1579.7,1300.6 1580.3,1299.4 1581.1,1302.0 1581.8,1300.2 1582.5,1303.0 1583.2,1298.4 1583.9,1303.1 1584.6,1299.6 1585.4,1300.4 1586.1,1302.1 1586.8,1300.1 1587.5,1299.4 1588.2,1301.6 1588.9,1302.0 1589.6,1299.9 1590.4,1304.5 1591.1,1302.1 1591.8,1303.0 1592.5,1304.3 1593.2,1305.4 1593.9,1307.7 1594.6,1302.8 1595.4,1307.1 1596.1,1309.2 1596.8,1308.7 1597.5,1308.8 1598.2,1307.6 1598.9,1310.7 1599.6,1309.9 1600.4,1311.6 1601.1,1309.8 1601.8,1311.3 1602.5,1311.9 1603.2,1309.9 1603.9,1314.4 1604.7,1312.7 1605.4,1311.0 1606.1,1313.0 1606.8,1313.9 1607.5,1313.4 1608.2,1312.5 1608.9,1314.1 1609.7,1312.4 1610.4,1312.2 1611.1,1317.3 1611.8,1318.4 1612.5,1319.0 1613.2,1319.9 1613.9,1318.6 1614.7,1315.0 1615.4,1315.9 1616.1,1319.0 1616.8,1316.6 1617.5,1317.1 1618.2,1317.9 1619.0,1319.0 1619.7,1316.2 1620.4,1318.9 1621.1,1320.0 1621.8,1315.9 1622.5,1321.6 1623.2,1321.3 1624.0,1318.9 1624.7,1323.7 1625.4,1321.6 1626.1,1321.9 1626.8,1324.0 1627.5,1317.3 1628.2,1322.0 1629.0,1324.1 1629.7,1325.0 1630.4,1322.8 1631.1,1322.6 1631.8,1321.6 1632.5,1322.4 1633.1,1321.6 1633.8,1319.0 1634.5,1322.2 1635.2,1321.5 1635.9,1322.2 1636.6,1322.5 1637.3,1322.5 1638.0,1323.6 1638.7,1323.3 1639.4,1322.9 1640.1,1322.5 1640.7,1323.4 1641.4,1323.1 1642.1,1323.5 1642.8,1326.1 1643.5,1324.2 1644.2,1323.2 1644.9,1320.4 1645.6,1321.5 1646.3,1319.0 1647.0,1325.6 1647.6,1326.0 1648.3,1323.5 1649.0,1323.4 1649.7,1325.1 1650.4,1325.3 1651.1,1321.4 1651.8,1324.0 1652.5,1323.9 1653.2,1322.3 1653.9,1326.9 1654.5,1325.8 1655.2,1323.6 1655.9,1324.5 1656.6,1323.7 1657.3,1323.8 1658.0,1324.1 1658.7,1326.5 1659.4,1324.8 1660.1,1324.0 1660.8,1323.7 1661.4,1325.3 1662.1,1323.4 1662.8,1322.2 1663.5,1324.8 1664.2,1327.7 1664.9,1323.9 1665.6,1325.4 1666.3,1324.8 1667.0,1327.3 1667.7,1326.0 1668.4,1323.1 1669.0,1328.2 1669.7,1325.3 1670.4,1323.8 1671.1,1324.5 1671.8,1325.5 1672.5,1327.3 1673.2,1325.0 1673.9,1324.3 1674.5,1327.8 1675.2,1328.3 1675.9,1325.1 1676.6,1326.0 1677.3,1326.4 1678.0,1325.3 1678.7,1324.3 1679.4,1327.7 1680.1,1324.1 1680.7,1322.8 1681.4,1327.0 1682.1,1328.0 1682.8,1327.5 1683.5,1324.8 1684.2,1325.8 1684.9,1324.4 1685.6,1325.4 1686.2,1322.1 1686.9,1326.3" fill="none" stroke="#ff0000" stroke-width="3.6" stroke-linejoin="round" stroke-linecap="butt"/>
<polyline points="1287.6,1210.5 1288.3,1210.2 1289.0,1207.9 1289.7,1207.4 1290.4,1209.3 1291.1,1210.1 1291.8,1209.3 1292.6,1208.0 1293.3,1209.0 1294.0,1210.9 1294.7,1208.1 1295.4,1210.6 1296.1,1210.1 1296.8,1210.1 1297.5,1210.4 1298.2,1209.1 1298.9,1209.5 1299.6,1211.5 1300.3,1209.3 1301.0,1209.3 1301.7,1208.4 1302.4,1209.3 1303.1,1210.6 1303.8,1211.1 1304.5,1210.5 1305.3,1210.5 1306.0,1210.5 1306.7,1210.3 1307.4,1211.0 1308.1,1209.9 1308.8,1211.1 1309.5,1210.0 1310.2,1208.5 1310.9,1208.8 1311.6,1209.9 1312.3,1209.7 1313.0,1209.0 1313.7,1209.4 1314.4,1210.4 1315.1,1210.7 1315.8,1211.1 1316.5,1209.5 1317.2,1210.8 1317.9,1211.5 1318.6,1210.9 1319.3,1212.3 1320.0,1210.1 1320.7,1210.6 1321.4,1210.9 1322.1,1210.4 1322.8,1210.8 1323.5,1211.1 1324.2,1210.9 1324.9,1210.5 1325.6,1210.6 1326.3,1211.0 1327.0,1209.6 1327.7,1211.3 1328.4,1210.1 1329.1,1211.0 1329.8,1210.2 1330.5,1211.5 1331.2,1211.0 1331.9,1211.2 1332.6,1210.8 1333.3,1211.7 1334.0,1213.2 1334.7,1209.9 1335.5,1212.2 1336.2,1212.0 1336.9,1211.4 1337.6,1210.6 1338.3,1213.5 1339.0,1212.1 1339.7,1213.0 1340.4,1211.7 1341.1,1211.4 1341.8,1213.2 1342.5,1212.9 1343.2,1212.0 1343.9,1212.1 1344.6,1213.0 1345.3,1211.6 1346.0,1211.6 1346.7,1212.5 1347.4,1213.5 1348.1,1213.4 1348.8,1212.8 1349.5,1214.0 1350.2,1212.6 1350.9,1212.4 1351.6,1215.2 1352.2,1212.6 1352.9,1213.7 1353.6,1213.8 1354.3,1213.5 1355.0,1213.7 1355.7,1214.2 1356.4,1214.2 1357.1,1213.2 1357.8,1213.8 1358.5,1215.3 1359.2,1214.7 1359.9,1213.7 1360.6,1214.3 1361.3,1213.4 1362.0,1213.2 1362.7,1214.0 1363.4,1216.2 1364.1,1214.1 1364.8,1212.9 1365.5,1214.8 1366.1,1214.3 1366.8,1215.8 1367.5,1216.4 1368.2,1215.0 1368.9,1215.5 1369.6,1214.6 1370.3,1216.8 1371.0,1215.0 1371.7,1215.8 1372.4,1218.2 1373.1,1215.1 1373.8,1216.2 1374.5,1216.1 1375.2,1216.7 1375.9,1216.8 1376.6,1217.8 1377.3,1216.9 1378.0,1217.0 1378.7,1215.3 1379.4,1216.9 1380.0,1215.3 1380.7,1217.8 1381.4,1216.6 1382.1,1217.6 1382.8,1216.2 1383.5,1217.0 1384.2,1216.9 1384.9,1217.4 1385.6,1216.8 1386.3,1216.4 1387.0,1216.6 1387.7,1216.4 1388.4,1216.2 1389.1,1215.9 1389.8,1215.7 1390.5,1219.0 1391.2,1216.5 1391.9,1216.2 1392.6,1218.3 1393.3,1217.6 1393.9,1217.3 1394.6,1218.5 1395.3,1219.3 1396.0,1216.7 1396.7,1218.9 1397.4,1218.2 1398.1,1218.8 1398.8,1217.2 1399.5,1219.4 1400.2,1218.9 1400.9,1215.3 1401.6,1219.0 1402.3,1219.1 1403.0,1216.5 1403.7,1218.2 1404.3,1217.7 1405.0,1218.1 1405.7,1217.1 1406.4,1218.6 1407.1,1218.7 1407.8,1217.9 1408.5,1217.9 1409.2,1216.3 1409.9,1218.5 1410.6,1216.8 1411.2,1218.1 1411.9,1217.3 1412.6,1220.6 1413.3,1218.1 1414.0,1219.6 1414.7,1218.1 1415.4,1218.1 1416.1,1218.9 1416.8,1218.2 1417.5,1220.5 1418.1,1218.0 1418.8,1219.8 1419.5,1217.1 1420.2,1217.4 1420.9,1218.8 1421.6,1216.6 1422.4,1219.8 1423.1,1218.2 1423.8,1217.6 1424.5,1219.1 1425.2,1216.8 1425.9,1216.4 1426.7,1214.4 1427.4,1214.9 1428.1,1216.4 1428.8,1214.5 1429.5,1217.2 1430.2,1217.2 1430.9,1216.6 1431.7,1214.4 1432.4,1215.0 1433.1,1214.3 1433.8,1216.2 1434.5,1216.4 1435.2,1215.0 1435.9,1215.1 1436.7,1215.1 1437.4,1215.4 1438.1,1213.6 1438.8,1213.4 1439.5,1214.9 1440.2,1214.4 1440.9,1214.2 1441.7,1213.6 1442.4,1214.1 1443.1,1213.6 1443.8,1212.4 1444.5,1214.5 1445.2,1213.7 1446.0,1212.2 1446.7,1212.1 1447.4,1211.3 1448.1,1210.5 1448.8,1210.6 1449.5,1210.0 1450.2,1210.6 1451.0,1210.8 1451.7,1209.6 1452.4,1207.5 1453.1,1207.9 1453.8,1206.7 1454.5,1205.5 1455.2,1206.8 1456.0,1203.9 1456.7,1205.1 1457.4,1201.7 1458.1,1202.9 1458.8,1201.1 1459.5,1202.0 1460.3,1200.7 1460.9,1198.9 1461.6,1199.7 1462.3,1199.7 1463.0,1199.1 1463.7,1198.6 1464.4,1196.2 1465.1,1198.1 1465.8,1194.8 1466.5,1194.6 1467.2,1192.6 1467.9,1193.3 1468.6,1191.5 1469.3,1192.4 1470.0,1190.0 1470.7,1192.9 1471.4,1191.3 1472.1,1191.4 1472.8,1190.4 1473.5,1190.1 1474.2,1191.1 1474.9,1191.6 1475.6,1190.3 1476.3,1191.7 1477.1,1193.2 1477.8,1195.2 1478.4,1193.3 1479.1,1195.4 1479.8,1195.1 1480.5,1196.8 1481.2,1197.3 1481.9,1196.0 1482.5,1196.3 1483.2,1199.4 1483.9,1199.4 1484.6,1198.8 1485.3,1200.1 1486.0,1198.7 1486.7,1198.4 1487.4,1196.9 1488.1,1197.2 1488.8,1197.7 1489.6,1196.8 1490.3,1196.0 1491.0,1194.2 1491.7,1194.4 1492.4,1192.4 1493.1,1191.9 1493.8,1191.7 1494.6,1189.8 1495.3,1190.5 1496.0,1187.8 1496.7,1190.5 1497.4,1189.0 1498.1,1187.7 1498.9,1186.0 1499.6,1185.4 1500.3,1184.9 1501.0,1182.9 1501.7,1183.4 1502.4,1182.2 1503.1,1183.2 1503.9,1183.0 1504.6,1182.4 1505.3,1178.9 1506.0,1178.2 1506.7,1180.2 1507.4,1178.9 1508.1,1178.4 1508.9,1177.3 1509.6,1176.2 1510.3,1177.4 1511.0,1175.6 1511.7,1174.8 1512.4,1172.6 1513.1,1173.2 1513.8,1173.8 1514.5,1172.5 1515.2,1172.3 1515.9,1170.6 1516.5,1171.0 1517.2,1169.1 1517.9,1168.9 1518.6,1169.6 1519.3,1169.7 1520.0,1167.1 1520.7,1166.7 1521.4,1166.1 1522.1,1165.6 1522.8,1165.3 1523.5,1165.8 1524.2,1164.9 1524.8,1164.3 1525.5,1164.4 1526.2,1161.9 1526.9,1163.2 1527.6,1165.0 1528.3,1161.7 1528.9,1161.8 1529.6,1162.3 1530.3,1162.7 1531.0,1161.7 1531.7,1161.0 1532.5,1163.8 1533.2,1160.1 1533.9,1161.7 1534.6,1162.1 1535.3,1160.7 1536.0,1164.5 1536.7,1165.3 1537.5,1162.0 1538.2,1163.3 1538.9,1163.6 1539.6,1164.7 1540.3,1164.0 1541.0,1165.2 1541.7,1165.6 1542.5,1165.4 1543.2,1166.0 1543.9,1167.8 1544.6,1167.0 1545.3,1167.9 1546.0,1167.6 1546.7,1168.8 1547.5,1170.1 1548.2,1169.0 1548.9,1168.9 1549.6,1169.1 1550.3,1171.3 1551.0,1171.1 1551.7,1173.9 1552.4,1177.5 1553.1,1176.8 1553.7,1180.0 1554.4,1179.8 1555.1,1181.3 1555.8,1183.6 1556.5,1183.7 1557.1,1183.7 1557.8,1187.7 1558.5,1188.1 1559.3,1190.1 1560.0,1192.9 1560.7,1192.7 1561.4,1191.6 1562.1,1194.6 1562.8,1193.5 1563.5,1194.1 1564.3,1199.5 1565.0,1197.5 1565.7,1197.3 1566.4,1200.5 1567.1,1201.5 1567.8,1203.2 1568.6,1203.3 1569.3,1204.0 1570.0,1205.8 1570.7,1205.5 1571.4,1205.6 1572.1,1207.4 1572.8,1207.2 1573.6,1209.6 1574.3,1209.2 1575.0,1209.7 1575.7,1210.2 1576.4,1212.0 1577.1,1213.1 1577.8,1212.5 1578.5,1210.9 1579.2,1214.3 1579.9,1213.1 1580.6,1214.8 1581.3,1214.0 1582.0,1215.4 1582.7,1215.0 1583.4,1214.9 1584.1,1214.7 1584.8,1216.3 1585.5,1216.9 1586.2,1215.5 1586.9,1215.0 1587.6,1218.1 1588.3,1220.4 1589.0,1217.7 1589.7,1218.7 1590.4,1218.2 1591.1,1218.5 1591.8,1221.8 1592.5,1219.2 1593.2,1221.6 1593.9,1221.2 1594.6,1223.0 1595.4,1224.5 1596.1,1223.6 1596.8,1223.7 1597.5,1225.6 1598.2,1224.7 1598.9,1223.7 1599.6,1227.5 1600.4,1226.1 1601.1,1227.4 1601.8,1229.9 1602.5,1229.1 1603.2,1229.0 1603.9,1230.9 1604.7,1228.9 1605.4,1228.6 1606.1,1229.5 1606.7,1231.1 1607.4,1231.6 1608.1,1231.0 1608.8,1234.2 1609.5,1233.2 1610.2,1232.9 1610.9,1232.3 1611.6,1233.3 1612.3,1234.0 1613.0,1233.7 1613.7,1237.4 1614.3,1236.5 1615.0,1235.8 1615.7,1235.5 1616.4,1234.1 1617.1,1237.3 1617.8,1235.8 1618.5,1237.9 1619.2,1237.6 1619.9,1236.2 1620.6,1237.9 1621.2,1238.0 1621.9,1238.4 1622.6,1238.8 1623.3,1239.4 1624.0,1239.4 1624.7,1240.8 1625.4,1240.9 1626.1,1240.4 1626.8,1240.6 1627.5,1240.6 1628.2,1240.8 1628.9,1241.2 1629.6,1241.8 1630.2,1241.5 1630.9,1240.1 1631.6,1242.3 1632.3,1241.5 1633.0,1242.6 1633.7,1245.3 1634.4,1244.1 1635.1,1240.8 1635.8,1241.6 1636.5,1244.7 1637.2,1243.0 1637.9,1242.5 1638.6,1242.5 1639.3,1244.3 1640.0,1243.9 1640.7,1244.9 1641.4,1244.8 1642.1,1245.3 1642.8,1245.1 1643.5,1244.9 1644.1,1246.7 1644.8,1247.7 1645.5,1245.5 1646.2,1246.4 1646.9,1248.8 1647.6,1245.9 1648.3,1246.0 1649.0,1247.9 1649.7,1248.5 1650.4,1247.8 1651.1,1249.1 1651.8,1248.0 1652.5,1248.5 1653.2,1248.5 1653.9,1249.0 1654.5,1248.9 1655.2,1250.5 1655.9,1249.9 1656.6,1251.0 1657.3,1249.4 1658.0,1248.9 1658.7,1249.3 1659.4,1249.6 1660.1,1250.6 1660.8,1250.0 1661.4,1250.8 1662.1,1251.2 1662.8,1249.7 1663.5,1249.7 1664.2,1252.6 1664.9,1250.8 1665.6,1253.5 1666.3,1251.5 1667.0,1250.5 1667.7,1250.9 1668.4,1251.5 1669.0,1255.1 1669.7,1250.7 1670.4,1250.4 1671.1,1252.0 1671.8,1253.1 1672.5,1255.5 1673.2,1254.4 1673.9,1252.6 1674.5,1255.3 1675.2,1255.1 1675.9,1253.3 1676.6,1254.7 1677.3,1254.7 1678.0,1254.3 1678.7,1254.1 1679.4,1254.1 1680.1,1255.3 1680.7,1254.5 1681.4,1256.0 1682.1,1256.0 1682.8,1253.8 1683.5,1256.0 1684.2,1255.5 1684.9,1256.7 1685.6,1255.7 1686.2,1257.4 1686.9,1256.3" fill="none" stroke="#0000ff" stroke-width="3.6" stroke-linejoin="round" stroke-linecap="butt"/>
<polyline points="1726.1,1333.1 1726.8,1332.8 1727.5,1332.8 1728.2,1331.9 1728.9,1333.2 1729.6,1332.8 1730.3,1334.7 1731.0,1331.1 1731.7,1337.3 1732.4,1327.4 1733.1,1333.0 1733.8,1334.4 1734.5,1332.5 1735.2,1331.6 1735.9,1332.8 1736.6,1334.1 1737.3,1335.1 1738.0,1330.2 1738.7,1333.3 1739.4,1331.8 1740.1,1334.7 1740.8,1332.0 1741.5,1333.1 1742.2,1334.8 1742.9,1332.3 1743.6,1333.3 1744.3,1331.5 1745.0,1332.3 1745.7,1329.4 1746.4,1331.3 1747.1,1331.9 1747.8,1331.6 1748.5,1336.6 1749.2,1328.8 1749.9,1328.9 1750.6,1333.2 1751.3,1333.9 1752.0,1333.1 1752.7,1334.9 1753.4,1336.5 1754.1,1332.0 1754.8,1330.5 1755.5,1332.5 1756.2,1334.9 1756.9,1333.6 1757.6,1332.5 1758.3,1333.4 1759.0,1333.4 1759.7,1329.8 1760.4,1333.7 1761.1,1331.4 1761.8,1332.4 1762.5,1332.0 1763.2,1333.0 1763.9,1334.5 1764.6,1332.5 1765.3,1333.2 1766.0,1334.5 1766.7,1333.7 1767.4,1331.7 1768.1,1334.3 1768.8,1332.2 1769.5,1332.4 1770.2,1333.3 1770.9,1335.6 1771.6,1331.4 1772.3,1332.3 1773.0,1333.2 1773.7,1331.4 1774.4,1333.2 1775.1,1335.2 1775.8,1329.8 1776.5,1333.0 1777.2,1331.7 1777.9,1336.6 1778.6,1334.0 1779.3,1334.1 1780.0,1332.8 1780.7,1331.2 1781.4,1333.1 1782.1,1333.6 1782.8,1333.1 1783.5,1336.2 1784.2,1334.4 1784.9,1331.4 1785.6,1332.3 1786.3,1333.5 1787.0,1330.9 1787.7,1332.7 1788.4,1331.9 1789.1,1333.4 1789.8,1333.3 1790.5,1331.9 1791.2,1335.3 1791.9,1332.0 1792.6,1334.3 1793.3,1331.2 1794.0,1331.4 1794.7,1332.0 1795.4,1332.4 1796.1,1334.5 1796.8,1330.5 1797.5,1336.0 1798.2,1331.0 1798.9,1335.7 1799.6,1333.5 1800.3,1332.2 1801.0,1334.6 1801.7,1332.3 1802.4,1333.1 1803.1,1333.3 1803.8,1338.2 1804.5,1331.4 1805.2,1336.5 1805.9,1332.7 1806.6,1331.9 1807.3,1332.3 1808.0,1335.4 1808.7,1332.8 1809.4,1331.8 1810.1,1334.2 1810.8,1333.7 1811.5,1335.0 1812.2,1331.2 1812.9,1335.8 1813.6,1335.3 1814.3,1331.9 1815.0,1332.6 1815.7,1334.0 1816.4,1332.7 1817.1,1334.6 1817.8,1334.2 1818.5,1333.1 1819.2,1331.2 1819.9,1329.6 1820.6,1333.7 1821.3,1331.0 1822.0,1335.2 1822.7,1336.3 1823.4,1333.4 1824.1,1334.7 1824.8,1335.4 1825.5,1334.7 1826.2,1331.2 1826.9,1331.5 1827.6,1332.4 1828.3,1333.4 1829.0,1331.8 1829.7,1333.7 1830.4,1335.7 1831.1,1332.7 1831.8,1333.4 1832.5,1331.7 1833.2,1333.2 1833.9,1335.1 1834.6,1335.9 1835.3,1333.9 1836.0,1332.2 1836.7,1337.0 1837.4,1330.0 1838.1,1332.9 1838.8,1332.3 1839.5,1333.7 1840.2,1334.7 1840.9,1333.0 1841.6,1340.1 1842.3,1337.4 1843.0,1335.3 1843.7,1333.0 1844.4,1331.2 1845.1,1336.0 1845.8,1335.5 1846.5,1334.8 1847.2,1336.5 1847.9,1334.9 1848.6,1331.5 1849.3,1330.7 1850.0,1333.4 1850.7,1334.3 1851.4,1335.2 1852.1,1334.6 1852.8,1333.9 1853.5,1332.8 1854.2,1335.2 1854.9,1335.5 1855.6,1333.2 1856.3,1332.6 1857.0,1333.6 1857.7,1332.5 1858.4,1334.7 1859.1,1332.3 1859.8,1335.0 1860.5,1332.9 1861.2,1335.3 1861.9,1338.7 1862.6,1332.5 1863.3,1334.7 1864.0,1338.8 1864.7,1336.2 1865.4,1335.0 1866.1,1335.6 1866.8,1334.2 1867.5,1332.1 1868.2,1330.1 1868.9,1333.4 1869.6,1333.6 1870.3,1336.7 1871.0,1335.3 1871.7,1332.0 1872.4,1335.6 1873.1,1332.6 1873.8,1337.0 1874.5,1333.0 1875.2,1336.4 1875.9,1335.1 1876.6,1334.1 1877.3,1336.9 1878.0,1334.6 1878.7,1330.7 1879.4,1335.8 1880.1,1333.4 1880.8,1334.4 1881.5,1335.6 1882.2,1336.5 1882.9,1335.5 1883.6,1333.3 1884.3,1334.0 1885.0,1333.2 1885.7,1334.8 1886.4,1334.1 1887.1,1336.7 1887.8,1334.1 1888.5,1337.1 1889.2,1338.6 1889.9,1336.3 1890.6,1335.1 1891.3,1337.6 1892.0,1333.9 1892.7,1335.4 1893.4,1337.9 1894.1,1336.6 1894.8,1335.3 1895.5,1335.1 1896.2,1334.7 1896.9,1338.3 1897.6,1339.2 1898.3,1338.4 1899.0,1335.8 1899.7,1336.4 1900.4,1334.3 1901.1,1333.9 1901.8,1337.0 1902.5,1337.1 1903.2,1333.6 1903.9,1333.7 1904.6,1336.5 1905.3,1333.6 1906.0,1337.9 1906.7,1338.2 1907.4,1334.0 1908.1,1335.5 1908.8,1337.7 1909.5,1337.9 1910.2,1336.1 1910.9,1335.9 1911.6,1335.7 1912.3,1337.2 1913.0,1337.3 1913.7,1335.8 1914.4,1335.4 1915.1,1336.1 1915.8,1335.9 1916.5,1335.6 1917.2,1334.1 1917.9,1336.5 1918.6,1337.8 1919.3,1336.6 1920.0,1338.6 1920.7,1337.2 1921.4,1337.8 1922.1,1338.0 1922.8,1333.0 1923.5,1337.8 1924.2,1338.5 1924.9,1334.6 1925.6,1333.3 1926.3,1334.9 1927.0,1336.1 1927.7,1337.3 1928.4,1334.0 1929.1,1336.4 1929.8,1334.7 1930.5,1337.2 1931.2,1336.6 1931.9,1337.2 1932.6,1335.9 1933.3,1336.1 1934.0,1338.5 1934.7,1334.9 1935.4,1336.9 1936.1,1336.0 1936.8,1336.5 1937.5,1335.7 1938.2,1339.3 1938.9,1338.9 1939.5,1336.7 1940.2,1340.8 1940.9,1337.6 1941.6,1340.0 1942.3,1335.4 1943.0,1336.4 1943.7,1336.2 1944.4,1341.1 1945.1,1339.2 1945.8,1336.9 1946.5,1338.0 1947.2,1337.4 1947.9,1337.4 1948.6,1336.0 1949.3,1339.3 1950.0,1338.4 1950.7,1336.4 1951.4,1338.4 1952.1,1339.4 1952.8,1338.3 1953.5,1337.3 1954.2,1339.0 1954.9,1339.3 1955.6,1341.4 1956.3,1337.1 1957.0,1338.7 1957.7,1338.1 1958.4,1337.2 1959.1,1338.2 1959.8,1335.7 1960.5,1336.7 1961.2,1335.7 1961.9,1338.6 1962.6,1337.5 1963.3,1336.6 1964.0,1337.5 1964.7,1339.3 1965.4,1337.6 1966.1,1333.8 1966.8,1342.3 1967.5,1337.8 1968.2,1340.0 1968.9,1336.6 1969.6,1337.8 1970.3,1338.7 1971.0,1339.0 1971.7,1337.7 1972.4,1341.8 1973.1,1337.4 1973.8,1338.1 1974.5,1342.5 1975.2,1339.0 1975.9,1335.8 1976.6,1340.0 1977.3,1339.8 1978.0,1341.3 1978.7,1342.4 1979.3,1339.1 1980.0,1340.9 1980.7,1339.1 1981.4,1337.4 1982.1,1337.6 1982.8,1337.5 1983.5,1336.4 1984.2,1341.9 1984.9,1337.9 1985.6,1336.9 1986.3,1339.1 1987.0,1336.7 1987.7,1340.6 1988.4,1341.7 1989.1,1338.9 1989.8,1337.5 1990.5,1336.8 1991.2,1338.0 1991.9,1338.4 1992.6,1338.2 1993.3,1335.4 1994.0,1336.3 1994.6,1333.1 1995.3,1335.4 1996.0,1329.8 1996.7,1324.3 1997.4,1318.8 1998.1,1313.3 1998.8,1307.8 1999.5,1313.3 2000.2,1318.8 2000.9,1324.3 2001.6,1329.8 2002.3,1335.7 2003.0,1338.2 2003.7,1339.7 2004.3,1337.4 2005.0,1337.7 2005.7,1345.1 2006.3,1342.8 2007.0,1342.4 2007.7,1343.4 2008.4,1342.3 2009.1,1343.8 2009.8,1343.8 2010.5,1341.6 2011.2,1340.3 2011.9,1341.8 2012.6,1337.0 2013.3,1344.3 2014.0,1341.6 2014.7,1340.9 2015.4,1343.5 2016.1,1343.9 2016.8,1342.2 2017.5,1341.2 2018.2,1339.8 2018.9,1341.2 2019.6,1341.4 2020.3,1340.0 2021.0,1342.4 2021.7,1343.3 2022.4,1342.2 2023.1,1346.5 2023.8,1342.9 2024.5,1343.7 2025.2,1349.2 2025.9,1345.8 2026.6,1343.0 2027.3,1343.5 2028.0,1342.5 2028.7,1343.3 2029.4,1342.5 2030.1,1340.3 2030.8,1340.4 2031.5,1344.1 2032.2,1345.9 2032.9,1343.2 2033.6,1341.1 2034.3,1340.6 2035.0,1345.5 2035.7,1346.1 2036.4,1344.8 2037.1,1342.6 2037.8,1341.7 2038.4,1344.4 2039.1,1341.9 2039.8,1340.4 2040.5,1338.1 2041.2,1340.9 2041.9,1341.5 2042.6,1340.1 2043.3,1344.2 2044.0,1339.9 2044.7,1343.4 2045.3,1341.5 2046.0,1340.7 2046.7,1342.4 2047.4,1338.7 2048.1,1343.2 2048.8,1339.7 2049.5,1339.7 2050.2,1341.3 2050.9,1340.7 2051.6,1338.7 2052.2,1341.6 2052.9,1338.2 2053.6,1339.9 2054.3,1338.3 2055.0,1339.3 2055.7,1340.6 2056.4,1339.0 2057.1,1337.7 2057.8,1341.2 2058.5,1340.3 2059.2,1337.9 2059.9,1338.5 2060.6,1338.4 2061.3,1343.8 2062.0,1339.7 2062.7,1342.0 2063.4,1340.5 2064.1,1340.8 2064.8,1339.6 2065.5,1335.7 2066.2,1339.0 2066.9,1339.8 2067.6,1338.0 2068.3,1342.2 2069.0,1339.5 2069.7,1339.3 2070.4,1335.4 2071.1,1341.0 2071.8,1341.2 2072.5,1336.8 2073.2,1337.0 2073.9,1341.0 2074.6,1337.0 2075.3,1339.8 2076.0,1338.8 2076.7,1341.7 2077.4,1339.2 2078.1,1340.1 2078.8,1338.8 2079.5,1335.8 2080.2,1339.0 2080.9,1341.6 2081.6,1338.9 2082.3,1339.6 2083.0,1339.1 2083.7,1340.4 2084.4,1340.2 2085.1,1341.2 2085.8,1337.4 2086.5,1336.0 2087.2,1341.0 2087.9,1338.4 2088.6,1339.3 2089.3,1342.0 2090.0,1338.4 2090.7,1342.3 2091.4,1339.3 2092.1,1335.7 2092.8,1339.3 2093.5,1339.5 2094.2,1339.5 2094.9,1339.0 2095.6,1343.5 2096.3,1341.8 2097.0,1340.9 2097.7,1338.5 2098.4,1339.1 2099.1,1340.1 2099.8,1342.0 2100.5,1336.7 2101.2,1341.6 2101.9,1341.5 2102.6,1340.1 2103.3,1340.1 2104.0,1338.3 2104.7,1339.0 2105.4,1341.6 2106.1,1340.5 2106.8,1341.5 2107.5,1340.7 2108.2,1338.7 2108.9,1341.0 2109.6,1342.4 2110.3,1342.5 2111.0,1340.5 2111.7,1336.7 2112.4,1340.8 2113.1,1336.3 2113.8,1342.4 2114.5,1338.1 2115.2,1337.5 2115.9,1341.4 2116.6,1340.4 2117.3,1339.6 2118.0,1342.0 2118.7,1338.8 2119.4,1340.5 2120.1,1340.2 2120.8,1340.4 2121.5,1340.3 2122.2,1340.3 2122.9,1336.1 2123.6,1338.6 2124.3,1339.6 2125.0,1337.8 2125.7,1340.8 2126.4,1339.4" fill="none" stroke="#ff0000" stroke-width="3.6" stroke-linejoin="round" stroke-linecap="butt"/>
<polyline points="1726.1,1245.6 1726.8,1247.1 1727.5,1245.6 1728.2,1247.0 1728.9,1245.4 1729.6,1247.3 1730.3,1246.6 1731.0,1248.0 1731.7,1247.6 1732.4,1247.0 1733.1,1246.7 1733.8,1247.5 1734.5,1247.1 1735.2,1246.4 1735.9,1247.8 1736.6,1245.1 1737.3,1247.4 1738.0,1249.4 1738.7,1248.0 1739.4,1246.4 1740.1,1248.7 1740.8,1247.9 1741.5,1247.3 1742.2,1247.4 1742.9,1248.1 1743.6,1248.8 1744.3,1248.0 1745.0,1249.8 1745.7,1247.7 1746.4,1249.1 1747.1,1247.0 1747.8,1246.7 1748.5,1248.4 1749.2,1248.8 1749.9,1250.3 1750.6,1248.5 1751.3,1249.1 1752.0,1247.8 1752.7,1249.0 1753.4,1249.5 1754.1,1248.7 1754.8,1250.1 1755.5,1250.5 1756.2,1249.8 1756.9,1249.3 1757.6,1249.3 1758.3,1250.1 1759.0,1248.7 1759.7,1250.5 1760.4,1249.2 1761.1,1250.1 1761.8,1248.9 1762.5,1249.1 1763.2,1249.3 1763.9,1250.6 1764.6,1250.2 1765.3,1250.3 1766.0,1251.2 1766.7,1249.6 1767.4,1251.2 1768.1,1250.0 1768.8,1249.8 1769.5,1250.2 1770.2,1251.7 1770.9,1252.3 1771.6,1250.4 1772.3,1250.0 1773.0,1249.6 1773.7,1251.1 1774.4,1251.5 1775.1,1251.6 1775.8,1251.5 1776.5,1252.6 1777.2,1251.5 1777.9,1251.8 1778.6,1251.3 1779.3,1250.8 1780.0,1249.7 1780.7,1251.8 1781.4,1251.3 1782.1,1251.4 1782.8,1251.4 1783.5,1252.1 1784.2,1252.2 1784.9,1250.2 1785.6,1251.9 1786.3,1252.7 1787.0,1252.7 1787.7,1252.2 1788.4,1252.7 1789.1,1251.2 1789.8,1253.0 1790.5,1252.5 1791.2,1252.9 1791.9,1253.4 1792.6,1253.0 1793.3,1252.0 1794.0,1251.3 1794.7,1252.7 1795.4,1253.2 1796.1,1253.5 1796.8,1254.3 1797.5,1253.8 1798.2,1253.8 1798.9,1252.0 1799.6,1254.3 1800.3,1253.8 1801.0,1255.6 1801.7,1254.5 1802.4,1253.2 1803.1,1254.1 1803.8,1254.6 1804.5,1253.3 1805.2,1252.7 1805.9,1254.7 1806.6,1253.9 1807.3,1254.2 1808.0,1254.6 1808.7,1254.3 1809.4,1255.3 1810.1,1254.9 1810.8,1255.0 1811.5,1255.6 1812.2,1254.9 1812.9,1253.8 1813.6,1255.0 1814.3,1253.9 1815.0,1255.4 1815.7,1254.2 1816.4,1255.3 1817.1,1256.5 1817.8,1256.1 1818.5,1254.8 1819.2,1254.3 1819.9,1255.3 1820.6,1256.7 1821.3,1256.3 1822.0,1254.5 1822.7,1256.7 1823.4,1256.3 1824.1,1256.7 1824.8,1257.4 1825.5,1255.5 1826.2,1256.8 1826.9,1256.6 1827.6,1257.5 1828.3,1256.4 1829.0,1255.5 1829.7,1257.0 1830.4,1257.9 1831.1,1256.9 1831.8,1257.0 1832.5,1257.5 1833.2,1257.3 1833.9,1257.2 1834.6,1257.3 1835.3,1259.1 1836.0,1257.5 1836.7,1258.2 1837.4,1259.2 1838.1,1259.2 1838.8,1256.9 1839.5,1257.8 1840.2,1257.5 1840.9,1258.6 1841.6,1256.8 1842.3,1257.7 1843.0,1259.0 1843.7,1259.5 1844.4,1258.3 1845.1,1259.6 1845.8,1260.7 1846.5,1258.8 1847.2,1260.9 1847.9,1259.8 1848.6,1258.0 1849.3,1260.2 1850.0,1260.3 1850.7,1261.7 1851.4,1259.8 1852.1,1262.2 1852.8,1260.6 1853.5,1261.3 1854.2,1260.8 1854.9,1261.5 1855.6,1262.3 1856.3,1261.3 1857.0,1260.9 1857.7,1262.1 1858.4,1261.4 1859.1,1262.0 1859.8,1262.8 1860.5,1262.1 1861.2,1262.4 1861.9,1262.4 1862.6,1262.4 1863.3,1263.2 1864.0,1263.6 1864.7,1262.9 1865.4,1261.2 1866.1,1261.6 1866.8,1263.7 1867.5,1264.5 1868.2,1264.4 1868.9,1262.9 1869.6,1263.7 1870.3,1263.1 1871.0,1264.1 1871.7,1263.8 1872.4,1263.0 1873.1,1264.6 1873.8,1264.2 1874.5,1266.2 1875.2,1265.4 1875.9,1263.2 1876.6,1265.4 1877.3,1263.9 1878.0,1264.3 1878.7,1264.8 1879.4,1263.9 1880.1,1268.0 1880.8,1266.1 1881.5,1264.7 1882.2,1266.6 1882.9,1263.6 1883.6,1266.9 1884.3,1266.0 1885.0,1266.3 1885.7,1267.0 1886.4,1266.5 1887.1,1266.9 1887.8,1265.7 1888.5,1267.0 1889.2,1266.5 1889.9,1267.3 1890.6,1266.8 1891.3,1267.5 1892.0,1266.7 1892.7,1266.2 1893.4,1266.8 1894.1,1268.4 1894.8,1267.4 1895.5,1267.9 1896.2,1267.6 1896.9,1268.8 1897.6,1267.4 1898.3,1265.9 1899.0,1267.7 1899.7,1267.9 1900.4,1269.7 1901.1,1268.0 1901.8,1268.4 1902.5,1269.5 1903.2,1269.7 1903.9,1268.9 1904.6,1270.4 1905.3,1269.0 1906.0,1269.7 1906.7,1268.8 1907.4,1267.8 1908.1,1269.2 1908.8,1269.4 1909.5,1269.3 1910.2,1272.3 1910.9,1268.9 1911.6,1270.9 1912.3,1272.0 1913.0,1271.4 1913.7,1271.3 1914.4,1270.4 1915.1,1270.5 1915.8,1272.3 1916.5,1272.7 1917.2,1270.8 1917.9,1271.9 1918.6,1271.6 1919.3,1272.3 1920.0,1271.2 1920.7,1272.8 1921.4,1271.7 1922.1,1272.4 1922.8,1271.7 1923.5,1273.3 1924.2,1272.2 1924.9,1273.2 1925.6,1272.7 1926.3,1273.6 1927.0,1273.4 1927.7,1275.3 1928.4,1272.5 1929.1,1274.1 1929.8,1272.9 1930.5,1273.6 1931.2,1272.1 1931.9,1274.8 1932.6,1271.7 1933.3,1274.6 1934.0,1272.6 1934.7,1273.8 1935.4,1274.7 1936.1,1273.6 1936.8,1274.7 1937.5,1274.5 1938.2,1274.1 1938.9,1275.1 1939.6,1276.2 1940.3,1275.3 1941.0,1275.1 1941.7,1275.3 1942.4,1275.2 1943.1,1276.5 1943.8,1276.3 1944.5,1275.5 1945.2,1276.1 1945.9,1274.9 1946.6,1275.9 1947.3,1276.3 1948.0,1276.1 1948.7,1276.1 1949.4,1277.2 1950.1,1277.1 1950.8,1277.1 1951.5,1274.5 1952.2,1276.9 1952.9,1276.2 1953.6,1276.4 1954.3,1277.1 1955.0,1277.7 1955.7,1275.5 1956.4,1278.8 1957.1,1277.9 1957.8,1277.4 1958.5,1276.7 1959.2,1276.5 1959.9,1279.2 1960.6,1277.3 1961.3,1277.8 1962.0,1277.9 1962.7,1278.1 1963.4,1280.5 1964.1,1280.1 1964.8,1277.6 1965.5,1277.9 1966.2,1280.1 1966.9,1279.1 1967.6,1278.1 1968.3,1278.6 1969.0,1280.1 1969.7,1279.1 1970.4,1279.4 1971.1,1282.9 1971.8,1280.1 1972.5,1279.0 1973.2,1280.3 1973.9,1279.0 1974.6,1279.5 1975.3,1279.8 1976.0,1279.2 1976.7,1280.6 1977.4,1280.5 1978.1,1280.5 1978.8,1281.5 1979.5,1281.8 1980.2,1280.8 1980.9,1282.2 1981.6,1282.3 1982.3,1280.8 1983.0,1282.2 1983.7,1280.4 1984.4,1280.5 1985.1,1281.7 1985.8,1282.7 1986.5,1283.9 1987.2,1282.1 1987.9,1283.2 1988.6,1281.0 1989.3,1282.6 1990.0,1283.6 1990.7,1282.0 1991.4,1282.8 1992.1,1283.1 1992.8,1284.6 1993.5,1281.9 1994.2,1282.2 1994.9,1283.9 1995.6,1284.1 1996.3,1283.8 1997.0,1283.0 1997.7,1283.7 1998.4,1285.7 1999.1,1283.6 1999.8,1284.8 2000.5,1285.2 2001.2,1283.3 2001.9,1283.8 2002.6,1285.0 2003.3,1284.4 2004.0,1284.7 2004.7,1284.1 2005.4,1284.6 2006.1,1284.7 2006.8,1286.6 2007.5,1285.2 2008.2,1285.3 2008.9,1286.4 2009.6,1285.7 2010.3,1285.4 2011.0,1286.2 2011.7,1284.2 2012.4,1285.5 2013.1,1286.1 2013.8,1285.9 2014.5,1285.9 2015.2,1286.3 2015.9,1285.4 2016.6,1287.4 2017.3,1285.9 2018.0,1287.4 2018.7,1285.8 2019.4,1289.1 2020.1,1287.6 2020.8,1285.2 2021.5,1285.6 2022.2,1285.9 2022.9,1287.0 2023.6,1287.1 2024.3,1289.0 2025.0,1289.2 2025.7,1286.3 2026.4,1287.3 2027.1,1286.1 2027.8,1287.3 2028.5,1288.2 2029.2,1288.7 2029.9,1288.5 2030.6,1289.8 2031.3,1287.5 2032.0,1287.9 2032.7,1288.9 2033.4,1289.6 2034.1,1288.7 2034.8,1289.3 2035.5,1290.5 2036.2,1288.6 2036.9,1289.4 2037.6,1288.4 2038.3,1290.2 2039.0,1288.0 2039.7,1289.7 2040.4,1291.8 2041.1,1289.8 2041.8,1289.5 2042.5,1290.1 2043.2,1290.1 2043.9,1289.7 2044.6,1289.6 2045.3,1290.3 2046.0,1290.5 2046.7,1289.6 2047.4,1290.7 2048.1,1290.0 2048.8,1290.4 2049.5,1290.3 2050.2,1289.6 2050.9,1289.0 2051.6,1292.4 2052.3,1290.1 2053.0,1290.5 2053.7,1291.3 2054.4,1292.1 2055.1,1291.2 2055.8,1290.7 2056.5,1292.3 2057.2,1292.3 2057.9,1291.3 2058.6,1291.9 2059.3,1292.0 2060.0,1294.1 2060.7,1292.5 2061.4,1291.3 2062.1,1292.3 2062.8,1291.1 2063.5,1292.8 2064.2,1293.6 2064.9,1293.7 2065.6,1293.2 2066.3,1292.4 2067.0,1292.8 2067.7,1292.3 2068.4,1293.0 2069.1,1291.7 2069.8,1291.0 2070.5,1293.4 2071.2,1293.1 2071.9,1292.6 2072.6,1292.9 2073.3,1294.3 2074.0,1293.4 2074.7,1294.6 2075.4,1294.4 2076.1,1293.1 2076.8,1295.6 2077.5,1295.1 2078.2,1293.5 2078.9,1294.4 2079.6,1293.5 2080.3,1294.4 2081.0,1295.6 2081.7,1294.4 2082.4,1294.1 2083.1,1295.4 2083.8,1294.1 2084.5,1295.1 2085.2,1296.2 2085.9,1295.8 2086.6,1294.7 2087.3,1295.0 2088.0,1296.5 2088.7,1297.1 2089.4,1295.2 2090.1,1295.6 2090.8,1295.2 2091.5,1294.9 2092.2,1295.2 2092.9,1295.8 2093.6,1297.3 2094.3,1297.4 2095.0,1298.1 2095.7,1295.8 2096.4,1295.4 2097.1,1297.3 2097.8,1295.3 2098.5,1296.1 2099.2,1297.9 2099.9,1298.0 2100.6,1298.1 2101.3,1296.4 2102.0,1298.1 2102.6,1297.7 2103.3,1296.8 2104.0,1298.1 2104.7,1299.1 2105.4,1297.2 2106.1,1299.7 2106.8,1298.4 2107.5,1297.7 2108.2,1296.1 2108.9,1297.3 2109.6,1297.5 2110.3,1297.3 2111.0,1299.0 2111.7,1299.2 2112.4,1298.6 2113.1,1298.6 2113.8,1298.6 2114.5,1298.1 2115.2,1298.6 2115.9,1300.7 2116.6,1298.4 2117.3,1300.0 2118.0,1300.0 2118.7,1299.3 2119.4,1300.2 2120.1,1299.4 2120.8,1299.4 2121.5,1299.6 2122.2,1300.8 2122.9,1299.7 2123.6,1297.7 2124.3,1300.1 2125.0,1300.0 2125.7,1300.3 2126.4,1300.3" fill="none" stroke="#0000ff" stroke-width="3.6" stroke-linejoin="round" stroke-linecap="butt"/>
<text transform="translate(32.7 81.3)" font-size="75" text-anchor="start" fill="#111">(a)</text>
<text transform="translate(85.0 723.5) rotate(-90) scale(1 1.03)" font-size="68.2" text-anchor="middle" fill="#111">Raman intensity (arb. unit)</text>
<text transform="translate(1250.0 1516.0) scale(1 1.03)" font-size="67.6" text-anchor="middle" fill="#111">Raman shift (cm<tspan font-size="44.6" dy="-28.4">−</tspan><tspan font-size="44.6">1</tspan><tspan dy="28.4">)</tspan></text>
<rect x="969.5" y="83.0" width="639.3" height="147.2" fill="#fefefe" stroke="#333" stroke-width="2.5"/>
<line x1="976.8" y1="122.5" x2="1105.5" y2="122.5" stroke="#ff0000" stroke-width="3.3"/>
<text transform="translate(1118.5 140.7) scale(1 1.03)" font-size="55.5" text-anchor="start" fill="#111">acrylic paint</text>
<line x1="976.8" y1="191.7" x2="1105.5" y2="191.7" stroke="#0000ff" stroke-width="3.3"/>
<text transform="translate(1118.5 208.7) scale(1 1.03)" font-size="55.5" text-anchor="start" fill="#111">acrylic paint - plasma</text>
<text transform="translate(444.5 108.0) scale(1 1.03)" font-size="56" text-anchor="start" fill="#111">R</text>
<text transform="translate(574.0 95.5) scale(1 1.03)" font-size="56" text-anchor="start" fill="#111">R</text>
<text transform="translate(363.0 720.5) scale(1 1.03)" font-size="56" text-anchor="start" fill="#111">R</text>
<text transform="translate(413.0 829.5) scale(1 1.03)" font-size="56" text-anchor="start" fill="#111">c</text>
<text transform="translate(310.5 946.5) scale(1 1.03)" font-size="56" text-anchor="start" fill="#111">R</text>
<text transform="translate(649.0 1014.5) scale(1 1.03)" font-size="56" text-anchor="start" fill="#111">c</text>
<text transform="translate(842.0 1003.5) scale(1 1.03)" font-size="56" text-anchor="start" fill="#111">c</text>
<text transform="translate(699.0 1120.5) scale(1 1.03)" font-size="56" text-anchor="start" fill="#111">R</text>
<text transform="translate(344.5 1188.0) scale(1 1.03)" font-size="56" text-anchor="start" fill="#111">c</text>
<text transform="translate(432.0 1199.5) scale(1 1.03)" font-size="56" text-anchor="start" fill="#111">t</text>
<text transform="translate(824.0 1259.5) scale(1 1.03)" font-size="56" text-anchor="start" fill="#111">t</text>
<text transform="translate(1008.0 1165.5) scale(1 1.03)" font-size="56" text-anchor="start" fill="#111">C-H</text>
<text transform="translate(1472.0 1133.5) scale(1 1.03)" font-size="56" text-anchor="start" fill="#111">C-H</text>
<text transform="translate(1969.0 1325.5) scale(1 1.03)" font-size="56" text-anchor="start" fill="#111">t</text>
<text transform="translate(1229.0 1150.0) rotate(-90) scale(1 1.03)" font-size="56" text-anchor="middle" fill="#111">C=O</text>
<line x1="427.5" y1="1135.0" x2="383.6" y2="1025.4" stroke="#111" stroke-width="1.6"/>
<polygon points="372.5,997.5 392.0,1022.0 375.3,1028.7" fill="#111"/>
<line x1="462.5" y1="1149.0" x2="591.8" y2="1070.6" stroke="#111" stroke-width="1.6"/>
<polygon points="617.5,1055.0 596.5,1078.3 587.2,1062.9" fill="#111"/>
<polyline points="301.0,2645.0 301.7,2645.2 302.4,2643.7 303.1,2643.5 303.8,2644.2 304.5,2645.1 305.2,2644.0 305.9,2642.8 306.6,2643.0 307.3,2643.4 307.9,2644.0 308.6,2643.2 309.3,2642.8 310.0,2642.8 310.7,2642.5 311.5,2641.4 312.2,2641.4 312.9,2641.0 313.6,2641.4 314.3,2639.7 315.0,2639.9 315.7,2638.0 316.5,2638.7 317.2,2637.7 317.9,2636.7 318.6,2636.5 319.3,2636.6 320.0,2635.2 320.7,2635.0 321.4,2634.2 322.1,2633.2 322.8,2632.0 323.4,2628.9 324.1,2628.9 324.8,2627.0 325.5,2627.0 326.2,2625.3 326.9,2624.2 327.5,2622.9 328.2,2618.4 328.9,2613.9 329.6,2609.4 330.3,2604.9 331.0,2600.4 331.7,2583.7 332.4,2567.0 333.0,2550.4 333.7,2533.9 334.3,2517.3 334.9,2500.8 335.5,2484.3 336.2,2500.8 336.8,2517.3 337.4,2533.9 338.0,2550.4 338.8,2561.6 339.5,2572.9 340.3,2584.1 341.0,2595.7 341.7,2597.7 342.4,2600.8 343.1,2602.9 343.7,2607.5 344.4,2608.5 345.1,2611.4 345.7,2610.7 346.4,2611.4 347.1,2612.4 347.7,2614.0 348.4,2614.5 349.1,2614.6 349.8,2611.3 350.5,2610.3 351.2,2605.6 351.9,2603.0 352.6,2601.2 353.3,2597.5 354.1,2595.4 354.7,2590.4 355.4,2585.4 356.1,2580.4 356.7,2575.4 357.4,2570.4 358.1,2565.4 358.7,2560.4 359.4,2555.4 360.1,2550.4 360.7,2545.8 361.4,2541.3 362.1,2536.7 362.8,2532.2 363.5,2527.6 364.2,2523.1 364.8,2518.5 365.5,2514.0 366.2,2509.4 366.9,2504.9 367.6,2500.3 368.3,2496.2 368.9,2492.1 369.6,2488.0 370.3,2483.9 371.0,2479.9 371.7,2475.8 372.3,2471.7 373.0,2467.6 373.7,2463.5 374.4,2459.4 375.1,2455.5 375.8,2453.5 376.5,2450.3 377.2,2448.1 377.9,2445.3 378.7,2442.3 379.4,2438.1 380.1,2437.0 380.8,2437.1 381.5,2435.2 382.2,2435.3 382.9,2435.1 383.7,2435.1 384.4,2432.6 385.1,2432.4 385.8,2434.2 386.4,2435.7 387.1,2435.6 387.8,2439.1 388.4,2438.5 389.1,2440.3 389.8,2443.8 390.5,2447.4 391.2,2451.0 391.9,2454.6 392.7,2458.1 393.4,2461.7 394.1,2465.3 394.8,2468.1 395.4,2470.9 396.1,2473.6 396.8,2476.4 397.4,2479.2 398.1,2482.0 398.8,2484.8 399.4,2487.5 400.1,2491.1 400.8,2491.3 401.5,2492.8 402.2,2494.7 403.0,2495.1 403.7,2495.8 404.4,2496.1 405.1,2497.4 405.8,2496.0 406.4,2497.6 407.1,2494.3 407.8,2492.7 408.4,2494.8 409.1,2493.7 409.9,2494.5 410.6,2497.2 411.4,2497.9 412.1,2500.3 412.9,2507.8 413.6,2515.3 414.4,2522.8 415.1,2530.3 415.8,2534.9 416.4,2539.5 417.1,2544.1 417.8,2548.7 418.4,2553.3 419.1,2557.5 419.8,2559.5 420.5,2560.6 421.3,2561.2 422.0,2563.9 422.7,2564.5 423.4,2565.3 424.1,2565.6 424.8,2565.7 425.5,2564.6 426.1,2564.0 426.8,2563.8 427.5,2562.1 428.1,2561.9 428.8,2561.5 429.5,2560.4 430.1,2561.0 430.8,2557.4 431.6,2557.7 432.3,2556.1 433.0,2556.1 433.7,2557.0 434.4,2553.3 435.1,2553.4 435.8,2553.3 436.6,2552.1 437.3,2551.8 438.0,2549.3 438.7,2550.2 439.4,2548.0 440.1,2547.0 440.8,2547.1 441.5,2545.9 442.2,2544.0 442.9,2542.8 443.5,2542.1 444.2,2541.1 444.9,2539.8 445.6,2538.1 446.3,2536.0 447.0,2537.4 447.6,2535.5 448.4,2533.2 449.1,2531.7 449.8,2531.0 450.5,2529.9 451.2,2527.5 451.9,2528.6 452.6,2526.7 453.4,2526.3 454.1,2526.9 454.8,2527.0 455.5,2527.8 456.3,2527.3 457.0,2528.2 457.7,2528.6 458.4,2527.5 459.1,2527.5 459.8,2526.7 460.5,2526.6 461.1,2525.7 461.8,2525.6 462.5,2525.3 463.1,2524.9 463.8,2523.2 464.5,2524.2 465.1,2522.6 465.8,2521.2 466.5,2519.3 467.2,2516.7 467.9,2516.7 468.6,2513.7 469.2,2514.1 469.9,2511.7 470.6,2511.2 471.3,2509.0 472.0,2507.4 472.7,2505.3 473.4,2501.8 474.1,2498.2 474.8,2494.6 475.5,2491.0 476.2,2487.5 476.9,2483.9 477.7,2480.3 478.3,2471.1 479.0,2462.0 479.7,2452.8 480.3,2443.6 481.0,2434.4 481.7,2425.3 482.4,2408.6 483.2,2391.9 483.9,2375.2 484.7,2358.5 485.4,2341.9 486.2,2325.2 486.8,2308.5 487.5,2291.8 488.2,2275.1 488.8,2258.5 489.5,2241.8 490.2,2225.1 490.8,2208.4 491.5,2191.7 492.2,2175.1 492.8,2158.4 493.5,2141.7 494.2,2125.0 494.8,2110.2 495.5,2095.3 496.2,2080.4 496.9,2067.9 497.7,2055.4 498.4,2042.9 499.2,2031.4 499.8,2029.1 500.5,2028.8 501.2,2026.3 501.8,2027.6 502.4,2027.9 503.1,2029.8 503.7,2030.4 504.3,2042.9 504.9,2055.4 505.6,2067.9 506.2,2080.4 506.9,2120.3 507.5,2160.2 508.2,2200.1 508.9,2237.6 509.7,2275.1 510.4,2312.7 511.2,2350.2 511.9,2371.1 512.5,2391.9 513.2,2412.8 513.9,2433.6 514.5,2454.5 515.2,2475.3 515.9,2485.3 516.6,2495.3 517.3,2505.3 518.0,2515.3 518.8,2525.3 519.5,2535.4 520.2,2545.4 520.9,2549.6 521.6,2553.9 522.3,2558.2 523.1,2562.5 523.8,2566.8 524.5,2571.1 525.2,2575.9 525.9,2576.5 526.6,2577.4 527.3,2579.7 528.1,2581.4 528.8,2582.4 529.5,2583.3 530.2,2584.9 530.9,2584.9 531.6,2582.9 532.3,2583.9 533.1,2585.0 533.8,2582.7 534.5,2583.1 535.2,2584.1 535.9,2583.0 536.6,2582.8 537.4,2581.7 538.1,2580.5 538.8,2583.1 539.5,2581.0 540.2,2580.6 540.9,2582.1 541.6,2582.1 542.3,2582.1 542.9,2581.8 543.6,2583.0 544.3,2583.6 545.0,2583.7 545.7,2584.2 546.4,2584.6 547.0,2585.8 547.7,2586.0 548.4,2586.0 549.2,2585.8 549.9,2584.6 550.6,2583.7 551.3,2584.1 552.1,2582.9 552.8,2580.7 553.5,2580.6 554.2,2580.5 554.9,2577.6 555.6,2576.5 556.2,2572.5 556.9,2570.2 557.6,2570.0 558.2,2567.5 558.9,2563.7 559.6,2562.7 560.2,2560.4 560.9,2555.4 561.6,2550.4 562.2,2545.4 562.9,2540.4 563.6,2535.4 564.2,2530.3 564.9,2525.3 565.6,2520.3 566.2,2515.3 567.0,2505.3 567.7,2495.3 568.4,2485.3 569.1,2475.3 569.8,2465.3 570.6,2455.3 571.3,2445.3 572.0,2435.3 572.7,2425.3 573.4,2411.4 574.1,2397.5 574.7,2383.6 575.4,2369.7 576.1,2355.8 576.7,2341.9 577.4,2328.0 578.1,2314.1 578.7,2300.2 579.5,2282.3 580.2,2264.4 580.9,2246.5 581.6,2228.7 582.3,2210.8 583.0,2192.9 583.7,2175.1 584.4,2161.0 585.1,2146.9 585.7,2132.8 586.4,2118.7 587.1,2104.6 587.7,2091.4 588.4,2087.6 589.0,2085.4 589.6,2083.2 590.3,2081.3 590.9,2082.9 591.5,2085.9 592.1,2087.3 592.8,2090.5 593.5,2117.1 594.3,2143.7 595.0,2170.3 595.8,2196.9 596.5,2223.5 597.3,2250.1 597.9,2275.1 598.6,2300.2 599.3,2325.2 599.9,2350.2 600.6,2375.2 601.3,2400.2 602.0,2416.0 602.7,2431.7 603.4,2447.4 604.1,2463.2 604.8,2478.9 605.5,2494.6 606.3,2510.3 607.0,2517.0 607.7,2523.7 608.4,2530.3 609.2,2537.0 609.9,2543.7 610.6,2550.4 611.3,2557.0 612.0,2563.7 612.8,2570.4 613.5,2574.7 614.1,2575.1 614.8,2579.2 615.5,2582.1 616.2,2582.4 616.9,2586.8 617.5,2589.5 618.2,2592.0 618.9,2595.5 619.6,2597.4 620.3,2600.7 621.0,2601.6 621.7,2603.2 622.4,2604.1 623.1,2607.7 623.8,2607.5 624.6,2608.2 625.3,2611.8 626.0,2612.9 626.7,2613.1 627.4,2614.2 628.1,2615.6 628.9,2618.4 629.6,2618.8 630.3,2619.9 631.0,2622.4 631.6,2623.0 632.3,2624.5 633.0,2627.2 633.7,2627.8 634.4,2629.5 635.1,2630.3 635.7,2632.2 636.4,2632.6 637.1,2634.7 637.8,2636.2 638.5,2635.7 639.2,2635.7 640.0,2637.5 640.7,2637.6 641.4,2638.6 642.1,2638.4 642.8,2639.7 643.6,2640.6 644.3,2640.4 645.0,2643.4 645.7,2646.4 646.4,2649.4 647.1,2652.4 647.8,2655.4 648.5,2659.0 649.2,2662.6 649.9,2666.2 650.7,2669.7 651.4,2673.3 652.1,2676.9 652.8,2682.1 653.5,2683.5 654.2,2684.4 654.8,2686.9 655.5,2687.3 656.2,2690.4 656.9,2691.5 657.6,2694.1 658.3,2695.3 658.9,2696.7 659.6,2698.2 660.3,2701.4 661.0,2702.0 661.8,2704.0 662.5,2705.3 663.2,2705.0 663.9,2708.3 664.6,2709.1 665.4,2711.2 666.1,2712.7 666.8,2712.6 667.5,2715.1 668.2,2715.9 669.0,2716.9 669.7,2717.9 670.4,2717.4 671.1,2718.4 671.8,2719.6 672.5,2718.6 673.2,2721.8 674.0,2720.5 674.7,2722.7 675.4,2722.5 676.1,2724.4 676.8,2724.4 677.5,2724.3 678.2,2723.2 678.9,2724.5 679.6,2724.7 680.3,2724.9 681.0,2723.7 681.7,2724.1 682.4,2724.2 683.1,2725.0 683.8,2724.2 684.5,2724.8 685.2,2725.6 685.9,2724.7 686.6,2726.0 687.3,2725.3 688.0,2725.0 688.7,2726.0 689.3,2725.6 690.0,2725.1 690.7,2724.6 691.4,2724.7 692.1,2724.7 692.8,2724.9 693.5,2724.0 694.2,2723.1 694.9,2722.3 695.6,2723.1 696.3,2722.8 697.0,2723.1 697.7,2721.6 698.4,2720.7 699.0,2721.9 699.7,2721.7 700.4,2721.4 701.0,2723.8 701.7,2723.7 702.4,2723.6 703.1,2724.2 703.7,2723.9 704.4,2725.6 705.1,2725.0 705.8,2725.3 706.5,2725.6 707.2,2725.3 707.9,2727.1 708.6,2727.8 709.3,2727.4 710.1,2725.7 710.8,2727.1 711.5,2727.2 712.2,2728.1 712.9,2726.6 713.6,2726.8 714.3,2728.3 715.1,2729.5 715.8,2729.5 716.5,2732.0 717.2,2730.7 717.9,2732.2 718.6,2732.9 719.3,2733.2 720.1,2735.4 720.8,2734.5 721.5,2735.5 722.2,2736.8 722.9,2737.6 723.6,2739.5 724.4,2739.2 725.1,2740.7 725.8,2740.4 726.5,2742.0 727.2,2741.4 727.9,2742.0 728.6,2741.0 729.4,2743.0 730.1,2742.4 730.8,2743.8 731.5,2743.9 732.2,2744.3 732.9,2745.1 733.6,2744.9 734.4,2744.4 735.1,2745.5 735.8,2745.7 736.5,2744.9 737.2,2746.4 737.9,2747.1 738.7,2746.5 739.4,2746.6 740.1,2747.0 740.8,2747.7 741.5,2746.7 742.2,2747.9 742.9,2746.9 743.7,2748.0 744.4,2748.2 745.1,2747.1 745.8,2748.7 746.5,2748.6 747.2,2747.4 747.9,2748.5 748.7,2748.5 749.4,2748.6 750.1,2749.7 750.8,2749.0 751.5,2749.7 752.2,2749.1 752.9,2749.8 753.7,2751.5 754.4,2750.7 755.1,2749.5 755.8,2750.0 756.5,2750.8 757.2,2749.9 758.0,2751.9 758.7,2751.3 759.4,2751.5 760.1,2751.7 760.8,2751.4 761.5,2751.2 762.2,2750.0 763.0,2751.2 763.7,2752.7 764.4,2753.2 765.1,2752.7 765.8,2751.6 766.5,2752.6 767.2,2752.9 767.9,2752.0 768.6,2753.8 769.3,2752.1 770.0,2752.9 770.7,2752.1 771.4,2753.5 772.1,2752.0 772.7,2752.2 773.4,2753.6 774.1,2752.0 774.8,2752.5 775.5,2753.2 776.2,2753.1 776.9,2751.6 777.6,2753.3 778.3,2752.7 779.0,2753.7 779.7,2751.7 780.4,2753.4 781.1,2753.1 781.8,2752.6 782.5,2752.6 783.2,2753.1 783.9,2752.4 784.6,2752.6 785.3,2752.3 786.0,2753.0 786.6,2753.3 787.3,2751.8 788.0,2752.9 788.7,2753.1 789.4,2753.9 790.1,2752.4 790.8,2753.9 791.6,2752.9 792.3,2753.7 793.0,2753.7 793.7,2753.9 794.4,2753.7 795.1,2753.4 795.8,2755.3 796.6,2755.5 797.3,2754.6 798.0,2754.7 798.7,2754.9 799.4,2754.3 800.1,2754.6 800.8,2756.0 801.6,2756.7 802.3,2756.3 803.0,2756.1 803.7,2756.4 804.4,2757.1 805.1,2758.4 805.8,2758.3 806.6,2757.6 807.3,2758.1 808.0,2759.5 808.7,2759.9 809.4,2761.2 810.1,2761.4 810.9,2760.6 811.6,2760.1 812.3,2760.8 813.0,2760.0 813.7,2760.4 814.4,2761.6 815.1,2761.5 815.9,2761.8 816.6,2762.3 817.3,2761.0 818.0,2762.0 818.7,2761.6 819.4,2761.8 820.1,2761.9 820.9,2762.2 821.6,2760.9 822.3,2761.0 823.0,2762.1 823.7,2762.5 824.4,2761.9 825.1,2762.3 825.9,2761.4 826.6,2763.1 827.3,2762.8 828.0,2763.5 828.7,2762.2 829.4,2762.4 830.2,2762.6 830.9,2763.5 831.6,2763.0 832.3,2762.9 833.0,2761.5 833.7,2762.1 834.4,2761.7 835.2,2762.6 835.9,2763.3 836.6,2762.8 837.3,2762.1 838.0,2764.2 838.7,2762.1 839.4,2763.8 840.2,2763.7 840.9,2762.7 841.6,2763.1 842.3,2761.0 843.0,2761.1 843.7,2760.9 844.5,2761.0 845.2,2760.4 845.8,2751.6 846.4,2742.9 847.0,2734.1 847.7,2725.3 848.3,2711.6 848.9,2697.8 849.5,2684.1 850.2,2670.3 850.8,2684.1 851.4,2697.8 852.0,2711.6 852.7,2725.3 853.3,2735.6 853.9,2745.9 854.5,2756.1 855.2,2766.2 855.9,2767.6 856.6,2766.2 857.3,2766.3 858.0,2765.7 858.7,2766.9 859.5,2767.1 860.2,2766.1 860.9,2765.8 861.6,2765.7 862.3,2767.5 863.0,2767.3 863.8,2767.0 864.5,2767.4 865.2,2767.2 865.9,2767.2 866.6,2765.9 867.3,2767.4 868.0,2767.6 868.7,2767.9 869.4,2767.9 870.0,2766.8 870.7,2767.5 871.4,2766.4 872.1,2768.4 872.8,2766.5 873.5,2768.0 874.2,2767.0 874.9,2767.1 875.6,2767.1 876.3,2767.5 877.0,2768.1 877.7,2768.7 878.4,2767.7 879.1,2768.6 879.8,2768.6 880.5,2769.5 881.2,2767.7 881.9,2768.4 882.6,2768.7 883.3,2768.4 883.9,2768.8 884.6,2768.0 885.3,2768.2 886.0,2768.1 886.7,2768.2 887.4,2768.0 888.1,2768.6 888.8,2767.9 889.5,2768.4 890.2,2769.3 890.9,2767.8 891.6,2768.3 892.3,2768.8 893.0,2768.4 893.7,2768.5 894.4,2770.5 895.1,2769.5 895.8,2769.0 896.5,2768.9 897.2,2768.4 897.9,2768.7 898.6,2768.0 899.3,2770.0 900.0,2769.3 900.7,2770.4 901.4,2769.8 902.1,2768.5 902.8,2771.2 903.5,2770.3 904.2,2770.7 904.9,2769.7 905.6,2769.8 906.3,2770.1 907.0,2771.5 907.7,2769.5 908.4,2769.6 909.1,2770.8 909.8,2769.1 910.5,2771.6 911.1,2769.8 911.8,2771.5 912.5,2770.6 913.2,2770.5 913.9,2770.1 914.6,2771.9 915.3,2770.8 916.0,2770.1 916.7,2771.5 917.4,2771.0 918.1,2771.6 918.8,2771.0 919.5,2771.6 920.2,2771.7 920.9,2771.4 921.6,2770.2 922.3,2771.7 923.0,2772.3 923.7,2771.7 924.4,2772.0 925.1,2771.9 925.8,2771.2 926.5,2772.1 927.2,2771.2 927.9,2770.7 928.6,2770.5 929.3,2772.1 930.0,2771.9 930.7,2771.8 931.4,2771.0 932.1,2770.1 932.8,2771.9 933.5,2771.3 934.2,2771.0 934.9,2771.0 935.6,2771.0 936.3,2770.1 937.0,2771.8 937.7,2771.9 938.4,2772.0 939.1,2771.1 939.8,2770.5 940.5,2770.4 941.2,2771.2 941.9,2772.6 942.6,2772.0 943.3,2771.4 944.0,2771.7 944.7,2771.9 945.4,2771.4 946.1,2771.5 946.8,2771.5 947.5,2771.0 948.2,2770.6 948.9,2771.0 949.6,2772.2 950.3,2770.3 951.0,2771.0 951.7,2770.9 952.4,2771.2 953.1,2770.8 953.8,2771.6 954.5,2770.7 955.3,2770.9 956.0,2771.3 956.7,2769.8 957.4,2771.4 958.1,2771.3 958.8,2769.6 959.5,2770.4 960.3,2769.9 960.9,2769.9 961.6,2770.5 962.3,2768.4 963.0,2770.1 963.7,2769.5 964.4,2769.0 965.0,2770.3 965.7,2768.2 966.4,2767.3 967.1,2768.4 967.8,2768.0 968.4,2767.8 969.1,2767.2 969.8,2767.8 970.5,2770.6 971.2,2768.9 971.9,2771.3 972.5,2771.3 973.2,2769.6 973.9,2771.7 974.6,2772.4 975.3,2773.1 976.0,2773.3 976.7,2773.3 977.4,2772.4 978.1,2772.3 978.7,2772.4 979.4,2772.9 980.1,2771.9 980.8,2771.9 981.5,2774.2 982.2,2773.3 982.9,2773.4 983.6,2772.6 984.3,2772.1 985.0,2772.5 985.7,2772.2 986.4,2772.4 987.1,2771.8 987.8,2773.3 988.5,2773.1 989.2,2773.5 989.9,2773.0 990.6,2772.5 991.3,2774.4 992.0,2773.7 992.6,2773.5 993.3,2773.7 994.0,2772.9 994.7,2773.7 995.4,2772.7 996.1,2773.9 996.8,2773.9 997.5,2773.8 998.2,2773.6 998.9,2773.4 999.6,2773.5 1000.3,2773.9 1001.0,2773.1 1001.7,2773.8 1002.4,2773.9 1003.1,2772.5 1003.8,2772.1 1004.5,2773.5 1005.2,2773.1 1005.9,2772.7 1006.6,2772.4 1007.3,2772.5 1008.0,2772.1 1008.7,2773.0 1009.4,2772.2 1010.1,2772.0 1010.8,2773.1 1011.5,2774.2 1012.2,2774.0 1012.9,2773.0 1013.6,2773.4 1014.3,2773.0 1015.0,2773.0 1015.7,2772.6 1016.4,2773.1 1017.0,2772.4 1017.7,2772.6 1018.4,2773.0 1019.1,2773.0 1019.8,2774.5 1020.5,2772.4 1021.2,2772.3 1021.9,2773.5 1022.6,2773.4 1023.3,2773.5 1024.0,2772.9 1024.7,2771.9 1025.4,2772.7 1026.1,2772.1 1026.8,2772.9 1027.5,2774.1 1028.2,2772.7 1028.9,2773.0 1029.6,2773.6 1030.3,2772.0 1031.0,2772.9 1031.7,2771.7 1032.4,2771.0 1033.0,2770.8 1033.7,2769.9 1034.4,2770.7 1035.1,2769.8 1035.8,2768.9 1036.5,2769.1 1037.1,2767.3 1037.8,2766.0 1038.5,2767.7 1039.3,2765.2 1040.0,2765.1 1040.7,2762.8 1041.4,2761.1 1042.2,2760.4 1042.9,2760.7 1043.6,2759.2 1044.3,2757.4 1045.0,2758.0 1045.8,2756.9 1046.5,2756.9 1047.2,2755.7 1047.9,2754.5 1048.6,2755.8 1049.3,2755.8 1050.0,2755.3 1050.7,2757.6 1051.3,2757.2 1052.0,2758.8 1052.7,2758.6 1053.3,2759.5 1054.0,2759.1 1054.7,2758.8 1055.3,2761.9 1056.0,2762.1 1056.7,2762.5 1057.4,2762.2 1058.1,2764.2 1058.7,2763.7 1059.4,2765.6 1060.1,2766.7 1060.8,2767.3 1061.5,2767.0 1062.2,2769.0 1062.8,2769.5 1063.6,2770.0 1064.3,2770.8 1065.0,2769.8 1065.7,2769.9 1066.4,2769.3 1067.1,2772.1 1067.8,2770.8 1068.6,2772.5 1069.3,2772.2 1070.0,2773.0 1070.7,2772.7 1071.4,2773.1 1072.1,2772.9 1072.9,2773.7 1073.6,2772.6 1074.3,2774.0 1075.0,2772.1 1075.7,2772.8 1076.4,2772.9 1077.1,2773.2 1077.8,2773.0 1078.5,2772.4 1079.2,2773.0 1079.9,2771.1 1080.6,2772.4 1081.3,2772.8 1082.0,2772.3 1082.7,2773.5 1083.4,2772.6 1084.1,2773.0 1084.8,2771.9 1085.5,2773.3 1086.2,2773.1 1086.9,2771.5 1087.6,2773.5 1088.3,2771.7 1089.0,2771.6 1089.7,2773.0 1090.4,2773.6 1091.1,2772.8 1091.8,2772.2 1092.4,2771.7 1093.1,2771.7 1093.8,2772.3 1094.5,2772.3 1095.2,2771.4 1095.9,2772.4 1096.6,2770.4 1097.3,2772.1 1098.0,2771.2 1098.7,2771.0 1099.4,2773.3 1100.1,2772.2 1100.8,2771.5 1101.5,2770.9 1102.2,2772.6 1102.9,2771.7 1103.6,2771.0 1104.3,2769.9 1105.0,2772.1 1105.7,2771.9 1106.3,2771.7 1107.0,2770.6 1107.7,2770.0 1108.4,2772.0 1109.1,2771.0 1109.8,2771.7 1110.5,2769.4 1111.2,2770.9 1111.9,2771.5 1112.6,2771.0 1113.3,2772.2 1114.0,2771.5 1114.7,2771.6 1115.4,2771.3 1116.1,2770.7 1116.8,2770.3 1117.5,2770.3 1118.2,2771.8 1118.9,2770.8 1119.6,2769.5 1120.2,2771.1 1120.9,2771.0 1121.6,2770.6 1122.3,2771.3 1123.0,2770.4 1123.7,2772.8 1124.4,2770.7 1125.1,2770.4 1125.8,2771.1 1126.5,2771.2 1127.2,2771.7 1127.9,2771.2 1128.6,2771.6 1129.3,2771.1 1130.0,2770.9 1130.7,2770.4 1131.4,2770.7 1132.1,2771.1 1132.8,2770.3 1133.5,2771.8 1134.1,2771.0 1134.8,2772.0 1135.5,2771.8 1136.2,2771.0 1136.9,2773.4 1137.6,2772.3 1138.3,2770.8 1139.0,2771.6 1139.7,2770.9 1140.4,2770.7 1141.1,2771.6 1141.8,2771.3 1142.5,2772.4 1143.2,2770.9 1143.9,2772.2 1144.5,2773.1 1145.2,2772.5 1145.9,2773.8 1146.6,2774.0 1147.3,2771.9 1148.0,2772.6 1148.7,2772.6 1149.4,2774.2 1150.1,2772.9 1150.8,2772.0 1151.4,2773.1 1152.1,2773.5 1152.8,2773.7 1153.5,2773.8 1154.2,2774.1 1154.9,2773.7 1155.6,2774.3 1156.3,2774.2 1157.0,2774.3 1157.7,2774.6 1158.4,2775.5 1159.0,2775.2 1159.7,2775.6 1160.4,2774.8 1161.1,2774.3 1161.8,2775.6 1162.5,2776.4 1163.2,2776.0 1163.9,2775.8 1164.6,2775.3 1165.3,2776.8 1165.9,2776.1 1166.6,2775.7 1167.3,2777.3 1168.0,2777.3 1168.7,2778.3 1169.4,2776.7 1170.1,2776.8 1170.8,2778.0 1171.5,2779.2 1172.2,2778.4 1172.8,2778.9 1173.5,2777.7 1174.2,2779.0 1174.9,2777.9 1175.6,2777.9 1176.3,2779.8 1177.0,2780.3 1177.7,2779.2 1178.4,2779.9 1179.1,2780.4 1179.7,2780.0 1180.4,2780.4 1181.2,2780.5 1181.9,2779.6 1182.6,2779.4 1183.3,2780.4 1184.0,2781.6 1184.7,2779.6 1185.4,2779.5 1186.2,2781.1 1186.9,2779.3 1187.6,2779.1 1188.3,2780.9 1189.0,2780.0 1189.7,2779.9 1190.4,2777.9 1191.2,2779.8 1191.9,2778.3 1192.6,2778.8 1193.3,2778.0 1194.0,2778.5 1194.7,2777.4 1195.4,2777.6 1196.2,2775.5 1196.9,2776.3 1197.6,2775.5 1198.3,2774.3 1199.0,2773.3 1199.7,2773.6 1200.5,2772.8 1201.1,2773.5 1201.8,2773.8 1202.5,2774.1 1203.2,2775.1 1203.9,2775.5 1204.5,2775.1 1205.2,2775.7 1205.9,2776.8 1206.6,2776.7 1207.3,2777.1 1208.0,2777.2 1208.7,2776.9 1209.3,2778.3 1210.0,2778.1 1210.7,2779.0 1211.4,2779.2 1212.1,2779.4 1212.8,2780.6 1213.5,2779.7 1214.2,2781.4 1214.9,2781.2 1215.6,2783.1 1216.3,2780.9 1217.0,2781.4 1217.7,2782.4 1218.4,2783.0 1219.1,2782.6 1219.8,2783.6 1220.5,2783.5 1221.2,2782.4 1221.9,2783.8 1222.6,2784.2 1223.3,2784.0 1224.0,2783.7 1224.6,2783.3 1225.3,2784.5 1226.0,2785.1 1226.7,2783.2 1227.4,2784.7 1228.1,2783.1 1228.8,2784.6 1229.5,2782.6 1230.2,2784.5 1230.9,2785.1 1231.6,2783.8 1232.3,2783.9 1233.0,2785.0 1233.7,2784.8 1234.4,2785.3 1235.1,2786.2 1235.8,2784.5 1236.5,2785.4" fill="none" stroke="#ff0000" stroke-width="4.5" stroke-linejoin="round" stroke-linecap="butt"/>
<polyline points="301.0,2321.2 301.7,2319.3 302.4,2325.8 303.1,2319.5 303.8,2318.3 304.5,2318.2 305.2,2315.7 305.9,2314.7 306.6,2316.6 307.3,2314.1 307.9,2316.0 308.6,2313.4 309.3,2309.7 310.0,2310.1 310.7,2310.1 311.5,2306.9 312.2,2309.8 312.9,2308.5 313.6,2310.1 314.3,2305.6 315.0,2306.0 315.7,2306.7 316.5,2306.1 317.2,2301.7 317.9,2305.9 318.6,2300.7 319.3,2303.4 320.0,2299.6 320.7,2297.5 321.4,2294.0 322.1,2294.5 322.8,2297.6 323.4,2289.8 324.1,2292.3 324.8,2290.1 325.5,2284.8 326.2,2286.0 326.9,2284.7 327.5,2280.1 328.2,2276.8 328.9,2273.5 329.5,2270.1 330.2,2266.8 330.9,2263.5 331.5,2260.1 332.2,2250.1 332.9,2240.1 333.5,2230.1 334.3,2216.3 335.0,2202.6 335.7,2211.8 336.4,2220.9 337.0,2230.1 337.8,2236.4 338.5,2242.6 339.3,2248.9 340.0,2254.5 340.8,2255.5 341.5,2260.2 342.2,2260.1 342.9,2265.1 343.6,2263.1 344.3,2261.4 345.1,2265.0 345.8,2260.6 346.5,2262.4 347.2,2260.1 347.9,2255.7 348.6,2252.6 349.3,2254.1 350.1,2250.1 350.8,2245.8 351.5,2241.5 352.2,2237.3 352.9,2233.0 353.6,2228.7 354.3,2224.4 355.1,2220.1 355.7,2215.1 356.4,2210.1 357.1,2205.1 357.8,2200.1 358.5,2195.1 359.2,2190.1 359.8,2185.1 360.5,2180.1 361.2,2175.1 361.9,2170.1 362.6,2165.1 363.2,2161.0 363.9,2156.9 364.6,2152.8 365.3,2148.7 366.0,2144.6 366.7,2140.5 367.3,2136.4 368.0,2132.3 368.7,2128.2 369.4,2124.1 370.1,2120.0 370.1,2110.5 370.8,2107.3 371.4,2104.1 372.1,2100.9 372.8,2097.7 373.5,2094.5 374.2,2091.4 374.8,2088.2 375.5,2085.0 376.2,2081.8 376.9,2078.6 377.6,2074.7 378.3,2075.6 379.0,2068.9 379.7,2068.0 380.4,2065.2 381.2,2061.9 381.9,2067.1 382.6,2062.8 383.3,2058.0 384.0,2060.6 384.7,2055.2 385.4,2061.1 386.2,2060.5 386.9,2057.5 387.6,2057.2 388.3,2059.4 389.0,2060.9 389.7,2060.2 390.4,2060.2 391.1,2062.9 391.8,2066.9 392.5,2070.8 393.2,2074.7 393.9,2078.7 394.7,2082.6 395.4,2086.5 396.1,2089.9 396.8,2092.1 397.5,2097.0 398.2,2098.1 399.0,2100.9 399.7,2099.7 400.4,2104.7 401.1,2107.2 401.8,2107.8 402.4,2109.4 403.1,2109.9 403.8,2108.3 404.4,2114.0 405.1,2114.8 405.8,2110.5 406.4,2111.4 407.1,2106.9 407.8,2104.8 408.4,2105.5 409.1,2107.6 409.7,2105.8 410.4,2104.4 411.0,2109.5 411.6,2110.5 412.3,2115.5 413.0,2120.5 413.7,2125.5 414.4,2130.5 415.1,2135.5 415.1,2143.9 415.8,2146.1 416.5,2150.8 417.3,2149.1 418.0,2151.5 418.7,2154.7 419.4,2162.3 420.1,2162.8 420.8,2161.6 421.5,2161.7 422.3,2164.6 423.0,2166.0 423.7,2162.2 424.4,2164.4 425.1,2168.8 425.8,2163.7 426.5,2160.2 427.3,2159.9 428.0,2157.8 428.7,2157.3 429.4,2155.0 430.1,2151.6 430.8,2151.5 431.6,2151.6 432.3,2148.6 433.0,2149.2 433.7,2146.3 434.4,2149.8 435.1,2149.5 435.8,2143.8 436.6,2146.3 437.3,2144.0 438.0,2143.0 438.7,2141.4 439.4,2141.6 440.1,2142.1 440.8,2136.1 441.5,2139.0 442.2,2134.8 442.9,2131.6 443.5,2132.1 444.2,2131.9 444.9,2128.8 445.6,2128.0 446.3,2125.1 447.0,2123.1 447.6,2124.6 448.4,2119.3 449.1,2121.8 449.8,2119.0 450.5,2116.4 451.2,2115.0 451.9,2113.5 452.6,2112.5 452.6,2110.5 453.3,2109.8 454.0,2108.9 454.7,2104.7 455.4,2103.7 456.1,2107.8 456.7,2105.2 457.4,2104.7 458.1,2104.8 458.8,2102.2 459.5,2106.8 460.1,2103.1 460.8,2101.8 461.5,2099.2 462.2,2102.1 462.9,2100.9 463.6,2101.5 464.2,2099.4 464.9,2095.1 465.6,2093.3 466.3,2097.6 467.0,2092.6 467.7,2092.9 468.3,2090.7 469.0,2090.0 469.7,2088.0 470.4,2082.8 471.1,2081.6 471.7,2077.4 472.4,2079.8 473.1,2076.4 473.8,2071.3 474.5,2074.6 475.2,2070.4 475.9,2064.7 476.6,2059.0 477.3,2053.3 478.0,2047.6 478.7,2041.8 479.4,2036.1 480.2,2030.4 480.9,2019.7 481.6,2009.0 482.3,1998.2 483.0,1987.5 483.7,1976.8 484.5,1966.1 485.2,1955.3 485.9,1937.5 486.6,1919.6 487.3,1901.7 488.0,1883.9 488.7,1866.0 489.5,1848.1 490.2,1830.2 490.9,1812.4 491.6,1794.5 492.3,1776.6 493.0,1758.8 493.7,1740.9 494.5,1723.0 495.2,1705.1 495.9,1688.9 496.7,1672.6 497.4,1656.4 498.2,1640.1 498.8,1632.3 499.4,1624.6 500.1,1616.8 500.7,1609.1 501.3,1616.8 501.9,1624.6 502.6,1632.3 503.2,1640.1 503.9,1662.6 504.7,1685.1 505.4,1707.6 506.2,1730.2 506.9,1755.2 507.5,1780.2 508.2,1805.2 508.9,1830.2 509.5,1855.3 510.2,1880.3 510.9,1901.7 511.6,1923.2 512.3,1944.6 513.0,1966.1 513.8,1987.5 514.5,2009.0 515.2,2030.4 515.9,2039.0 516.6,2047.6 517.3,2056.1 518.0,2064.7 518.8,2073.3 519.5,2081.9 520.2,2090.5 520.9,2094.4 521.6,2098.3 522.3,2102.2 523.1,2106.2 523.8,2110.1 524.5,2114.0 525.2,2118.1 525.9,2117.4 526.6,2119.9 527.3,2120.8 528.1,2123.4 528.8,2124.9 529.5,2124.7 530.2,2127.9 530.9,2121.1 531.6,2124.6 532.3,2125.6 533.1,2125.3 533.8,2124.0 534.5,2119.5 535.2,2117.3 535.9,2119.6 536.6,2124.5 537.4,2120.3 538.1,2118.0 538.8,2115.9 539.5,2119.2 540.2,2117.7 540.9,2119.3 541.6,2118.4 542.4,2113.1 543.1,2117.2 543.8,2118.7 544.5,2115.7 545.2,2114.2 545.9,2114.0 546.6,2113.3 547.3,2119.9 547.9,2118.1 548.6,2113.8 549.3,2117.3 550.0,2112.3 550.7,2113.0 551.4,2112.2 552.0,2113.0 552.7,2114.3 553.4,2115.2 554.2,2110.9 554.9,2107.5 555.6,2106.2 556.3,2103.7 557.0,2103.1 557.7,2100.5 558.4,2097.1 559.2,2093.8 559.9,2090.5 560.6,2087.1 561.3,2083.8 562.1,2080.4 562.8,2077.1 563.5,2073.8 564.2,2070.4 564.9,2063.2 565.6,2056.0 566.2,2048.8 566.9,2041.5 567.6,2034.3 568.2,2027.1 568.9,2019.8 569.6,2012.6 570.2,2005.4 570.9,1994.0 571.6,1982.6 572.3,1971.3 573.0,1959.9 573.6,1948.5 574.3,1937.1 575.0,1925.8 575.7,1914.4 576.4,1903.0 577.1,1891.7 577.7,1880.3 578.5,1862.4 579.2,1844.5 579.9,1826.7 580.6,1808.8 581.3,1790.9 582.0,1773.1 582.7,1755.2 583.4,1736.2 584.1,1717.2 584.8,1698.1 585.5,1679.1 586.2,1660.1 587.0,1649.5 587.7,1638.8 588.5,1628.2 589.3,1617.6 590.0,1628.2 590.8,1638.8 591.5,1649.5 592.3,1660.1 592.9,1680.1 593.6,1700.1 594.3,1720.2 594.9,1740.2 595.6,1760.2 596.3,1780.2 597.0,1801.6 597.7,1823.1 598.4,1844.5 599.1,1866.0 599.8,1887.4 600.5,1908.9 601.3,1930.3 602.0,1941.4 602.7,1952.6 603.4,1963.7 604.2,1974.8 604.9,1985.9 605.6,1997.0 606.3,2008.2 607.0,2019.3 607.8,2030.4 608.4,2034.5 609.1,2038.6 609.8,2042.7 610.5,2046.8 611.2,2050.9 611.9,2055.0 612.5,2059.1 613.2,2063.2 613.9,2067.3 614.6,2071.3 615.3,2073.8 616.0,2078.1 616.6,2080.5 617.3,2083.5 618.0,2082.1 618.7,2086.6 619.4,2088.4 620.0,2088.3 620.7,2088.1 621.4,2092.9 622.1,2097.7 622.8,2097.5 623.5,2103.6 624.1,2101.4 624.8,2100.0 625.5,2102.4 626.2,2104.6 626.9,2105.8 627.6,2105.5 628.2,2108.0 628.9,2114.0 629.6,2111.2 630.3,2110.9 631.0,2110.5 631.6,2108.9 632.3,2113.6 633.0,2113.4 633.7,2115.0 634.4,2114.9 635.1,2118.4 635.7,2119.9 636.4,2117.4 637.1,2117.0 637.8,2121.2 638.5,2124.1 639.2,2123.0 640.0,2124.0 640.7,2121.2 641.4,2123.6 642.1,2126.7 642.8,2127.1 643.6,2127.2 644.3,2129.2 645.0,2131.4 645.6,2131.6 646.3,2131.7 647.0,2132.0 647.6,2136.8 648.3,2137.7 649.0,2139.4 649.6,2143.5 650.3,2143.0 651.0,2145.8 651.6,2148.7 652.3,2151.5 653.0,2154.4 653.6,2157.2 654.3,2158.8 655.0,2160.4 655.6,2163.0 656.3,2160.9 657.0,2159.3 657.6,2163.2 658.3,2166.7 659.0,2164.8 659.6,2166.3 660.3,2164.0 661.0,2170.8 661.7,2166.1 662.4,2169.1 663.0,2170.9 663.7,2175.9 664.4,2173.3 665.1,2172.6 665.8,2172.0 666.4,2175.2 667.1,2174.3 667.8,2176.4 668.5,2178.3 669.2,2181.2 669.9,2177.3 670.5,2182.6 671.2,2176.8 671.9,2184.9 672.6,2180.5 673.3,2181.6 674.0,2182.0 674.6,2184.0 675.3,2184.0 676.0,2183.4 676.7,2182.6 677.5,2182.7 678.2,2183.8 678.9,2182.6 679.6,2182.2 680.3,2180.6 681.0,2183.3 681.8,2184.1 682.5,2181.1 683.2,2184.9 683.9,2182.8 684.6,2182.9 685.3,2179.3 686.0,2183.6 686.8,2184.5 687.5,2185.6 688.2,2180.4 688.9,2181.3 689.6,2182.5 690.3,2181.9 691.0,2179.4 691.8,2180.5 692.5,2182.0 693.2,2180.9 693.9,2179.5 694.6,2181.4 695.3,2176.3 696.1,2179.9 696.8,2177.6 697.5,2178.1 698.2,2180.2 698.9,2181.9 699.6,2179.3 700.3,2178.6 701.1,2181.4 701.8,2179.6 702.5,2173.8 703.2,2176.8 703.9,2176.6 704.6,2176.4 705.3,2174.8 706.1,2179.0 706.8,2178.2 707.5,2181.3 708.2,2177.5 708.9,2178.4 709.6,2176.9 710.3,2180.3 711.1,2180.9 711.8,2181.8 712.5,2180.7 713.2,2177.7 713.9,2181.3 714.6,2177.3 715.4,2178.0 716.1,2179.0 716.8,2183.5 717.5,2178.3 718.2,2177.9 718.9,2180.5 719.6,2182.4 720.4,2181.4 721.1,2181.6 721.8,2179.1 722.5,2180.1 723.2,2183.4 723.9,2181.4 724.6,2180.1 725.4,2180.8 726.1,2184.2 726.8,2185.1 727.5,2182.8 728.2,2180.6 728.9,2185.5 729.6,2181.3 730.4,2182.9 731.1,2183.4 731.8,2182.4 732.5,2182.0 733.2,2185.3 733.9,2182.7 734.7,2179.3 735.4,2180.7 736.1,2184.2 736.8,2181.3 737.5,2179.6 738.2,2183.1 738.9,2182.2 739.7,2181.2 740.4,2182.1 741.1,2180.2 741.8,2181.1 742.5,2181.8 743.2,2179.5 743.9,2182.8 744.7,2178.3 745.4,2184.1 746.1,2180.3 746.8,2180.8 747.5,2177.8 748.2,2181.5 749.0,2178.4 749.7,2180.8 750.4,2179.9 751.1,2178.3 751.8,2183.1 752.5,2180.0 753.2,2178.7 754.0,2179.0 754.7,2180.2 755.4,2179.6 756.1,2181.1 756.8,2178.4 757.5,2179.8 758.2,2178.4 759.0,2178.0 759.7,2180.8 760.4,2177.7 761.1,2176.0 761.8,2180.2 762.5,2177.8 763.2,2179.7 764.0,2179.5 764.7,2179.3 765.4,2178.4 766.1,2181.0 766.8,2176.0 767.5,2180.0 768.3,2177.4 769.0,2178.1 769.7,2176.6 770.4,2178.8 771.1,2178.0 771.8,2176.1 772.5,2176.9 773.3,2177.6 774.0,2176.2 774.7,2181.0 775.4,2177.3 776.1,2175.3 776.8,2177.8 777.5,2176.2 778.3,2174.6 779.0,2174.8 779.7,2172.2 780.4,2176.5 781.1,2177.8 781.8,2174.6 782.5,2173.1 783.3,2171.2 784.0,2171.9 784.7,2174.1 785.4,2172.7 786.1,2173.4 786.8,2172.0 787.6,2173.1 788.3,2172.8 789.0,2173.4 789.7,2173.1 790.4,2173.1 791.1,2171.0 791.8,2171.9 792.6,2169.9 793.3,2171.1 794.0,2171.8 794.7,2172.5 795.4,2169.0 796.1,2169.6 796.8,2170.2 797.6,2168.8 798.3,2170.4 799.0,2170.4 799.7,2169.2 800.4,2173.4 801.1,2169.4 801.9,2170.5 802.6,2166.6 803.3,2171.3 804.0,2170.1 804.7,2169.8 805.4,2165.2 806.1,2169.0 806.9,2167.7 807.6,2169.5 808.3,2168.6 809.0,2167.5 809.7,2167.5 810.4,2170.5 811.1,2170.1 811.9,2164.7 812.6,2166.9 813.3,2168.8 814.0,2166.7 814.7,2167.9 815.4,2166.6 816.1,2170.1 816.9,2168.3 817.6,2166.4 818.3,2169.3 819.0,2167.7 819.7,2169.5 820.4,2165.3 821.2,2163.4 821.9,2167.8 822.6,2166.5 823.3,2163.2 824.0,2159.4 824.7,2166.8 825.4,2166.8 826.2,2165.3 826.9,2166.0 827.6,2167.1 828.3,2164.4 829.0,2169.4 829.7,2164.7 830.4,2167.3 831.2,2167.3 831.9,2166.4 832.6,2165.9 833.3,2169.1 834.0,2164.5 834.7,2167.6 835.4,2170.7 836.1,2166.2 836.8,2164.8 837.5,2166.7 838.2,2162.2 838.9,2166.2 839.6,2165.5 840.3,2166.1 841.0,2166.0 841.7,2168.8 842.4,2167.7 843.1,2165.7 843.8,2170.1 844.5,2167.6 845.2,2160.7 846.0,2153.8 846.7,2146.9 847.5,2140.0 848.1,2126.8 848.8,2113.7 849.5,2100.5 850.2,2110.4 851.0,2120.2 851.7,2130.1 852.5,2140.0 853.2,2147.3 854.0,2154.5 854.7,2161.8 855.5,2167.3 856.2,2171.6 856.9,2167.5 857.6,2166.3 858.3,2166.9 859.0,2170.0 859.8,2167.2 860.5,2166.6 861.2,2163.2 861.9,2165.9 862.6,2165.0 863.3,2164.5 864.0,2163.4 864.8,2161.5 865.5,2166.5 866.2,2162.1 866.9,2164.9 867.6,2164.6 868.3,2163.7 869.0,2163.4 869.8,2164.2 870.5,2162.1 871.2,2162.4 871.9,2163.0 872.6,2162.6 873.3,2161.4 874.1,2156.7 874.8,2161.6 875.5,2159.1 876.2,2163.5 876.9,2163.4 877.6,2161.3 878.3,2161.2 879.1,2156.7 879.8,2160.0 880.5,2158.6 881.2,2163.3 881.9,2157.1 882.5,2163.5 883.2,2158.7 883.9,2154.9 884.6,2161.9 885.3,2157.8 885.9,2158.6 886.6,2159.7 887.3,2154.4 888.0,2156.2 888.7,2157.1 889.4,2159.0 890.0,2155.9 890.8,2157.2 891.5,2152.6 892.2,2156.8 892.9,2153.9 893.6,2154.8 894.3,2155.5 895.0,2156.8 895.8,2153.7 896.5,2155.6 897.2,2154.0 897.9,2155.6 898.6,2153.4 899.3,2156.8 900.0,2152.0 900.8,2151.8 901.5,2156.0 902.2,2152.1 902.9,2154.5 903.6,2154.4 904.3,2149.8 905.1,2152.2 905.7,2151.9 906.4,2152.5 907.1,2149.9 907.8,2153.0 908.5,2153.0 909.2,2150.5 909.9,2152.6 910.6,2153.0 911.3,2149.3 912.0,2152.4 912.7,2154.2 913.4,2153.8 914.1,2150.3 914.8,2150.9 915.5,2152.4 916.2,2153.1 916.9,2153.8 917.6,2152.4 918.3,2153.8 919.0,2151.0 919.6,2155.7 920.3,2151.8 921.0,2150.3 921.7,2151.0 922.4,2148.6 923.1,2150.6 923.8,2151.4 924.5,2152.9 925.2,2154.1 925.9,2150.3 926.6,2150.5 927.3,2153.1 928.0,2153.8 928.7,2153.2 929.4,2152.2 930.1,2149.5 930.8,2150.7 931.5,2148.7 932.2,2150.3 932.9,2153.9 933.5,2154.5 934.2,2150.9 934.9,2152.6 935.6,2153.9 936.3,2149.3 937.0,2148.7 937.7,2150.0 938.4,2147.2 939.1,2152.4 939.8,2150.9 940.5,2150.5 941.2,2151.1 941.9,2151.9 942.6,2150.9 943.3,2148.6 944.0,2152.0 944.7,2149.8 945.4,2151.3 946.1,2149.4 946.8,2150.7 947.4,2147.7 948.1,2150.8 948.8,2150.0 949.5,2152.5 950.2,2148.9 950.9,2148.7 951.6,2151.7 952.3,2146.6 953.0,2151.4 953.7,2150.1 954.4,2149.3 955.1,2150.3 955.8,2149.4 956.5,2148.0 957.2,2150.9 958.0,2147.7 958.7,2149.4 959.4,2148.6 960.1,2147.4 960.8,2147.4 961.5,2148.9 962.2,2147.5 963.0,2150.6 963.7,2149.5 964.4,2146.8 965.1,2149.3 965.8,2142.8 966.5,2150.3 967.2,2144.4 968.0,2144.2 968.7,2148.6 969.4,2143.2 970.1,2144.7 970.8,2146.3 971.5,2141.4 972.2,2144.6 973.0,2146.2 973.7,2142.7 974.4,2146.5 975.1,2141.6 975.8,2145.6 976.5,2143.2 977.3,2142.3 978.0,2141.2 978.7,2139.4 979.4,2142.8 980.1,2138.2 980.8,2140.0 981.5,2141.0 982.3,2140.1 983.0,2140.1 983.7,2137.2 984.4,2135.6 985.1,2138.0 985.8,2136.9 986.5,2138.8 987.3,2132.6 988.0,2135.9 988.7,2136.3 989.4,2134.3 990.1,2131.7 990.8,2134.4 991.6,2135.9 992.3,2132.2 993.0,2131.4 993.7,2130.8 994.4,2130.4 995.1,2128.5 995.8,2137.4 996.6,2130.7 997.3,2132.9 998.0,2132.5 998.7,2128.8 999.4,2130.6 1000.1,2132.6 1000.8,2131.6 1001.6,2130.9 1002.3,2127.5 1003.0,2127.6 1003.7,2128.8 1004.4,2131.6 1005.1,2127.3 1005.8,2129.8 1006.6,2130.7 1007.3,2130.0 1008.0,2128.4 1008.7,2127.1 1009.4,2129.5 1010.1,2127.5 1010.9,2128.8 1011.6,2127.1 1012.3,2126.9 1013.0,2127.0 1013.7,2125.9 1014.4,2129.5 1015.1,2125.1 1015.8,2128.4 1016.5,2126.8 1017.2,2128.6 1017.9,2124.5 1018.6,2127.7 1019.3,2127.8 1020.0,2130.3 1020.7,2129.6 1021.4,2128.4 1022.1,2127.5 1022.8,2127.8 1023.5,2129.6 1024.2,2130.2 1024.9,2128.8 1025.6,2130.0 1026.3,2124.8 1027.0,2129.5 1027.7,2131.4 1028.3,2126.8 1029.0,2124.3 1029.7,2126.9 1030.4,2119.6 1031.1,2124.3 1031.7,2118.7 1032.4,2120.7 1033.1,2116.4 1033.8,2120.3 1034.5,2116.5 1035.2,2114.1 1035.8,2114.4 1036.5,2116.2 1037.2,2115.7 1037.9,2112.4 1038.6,2110.7 1039.3,2113.2 1039.9,2109.8 1040.6,2107.6 1041.3,2111.5 1042.0,2104.1 1042.7,2106.9 1043.3,2109.5 1044.0,2107.4 1044.7,2107.2 1045.4,2108.6 1046.1,2105.2 1046.8,2107.1 1047.4,2107.2 1048.1,2109.3 1048.8,2108.4 1049.5,2107.9 1050.2,2110.2 1050.9,2111.0 1051.5,2106.8 1052.2,2114.5 1052.9,2111.0 1053.6,2110.0 1054.3,2114.7 1054.9,2107.4 1055.6,2110.4 1056.3,2113.8 1057.0,2112.6 1057.7,2112.2 1058.4,2114.1 1059.1,2117.6 1059.8,2115.1 1060.5,2116.8 1061.2,2116.8 1061.8,2115.6 1062.5,2115.9 1063.2,2114.8 1063.9,2116.6 1064.6,2117.9 1065.3,2116.2 1066.0,2116.7 1066.7,2117.9 1067.4,2117.3 1068.1,2118.0 1068.8,2114.1 1069.5,2118.5 1070.2,2114.9 1070.9,2119.1 1071.6,2117.5 1072.3,2116.9 1073.0,2115.4 1073.8,2119.3 1074.5,2116.7 1075.2,2116.6 1075.9,2113.9 1076.6,2120.2 1077.3,2116.2 1078.0,2115.6 1078.8,2119.2 1079.5,2118.0 1080.2,2112.4 1080.9,2116.7 1081.6,2119.6 1082.3,2116.3 1083.1,2115.3 1083.8,2118.1 1084.5,2117.9 1085.2,2114.8 1085.9,2115.0 1086.6,2115.1 1087.3,2114.9 1088.1,2113.4 1088.8,2114.3 1089.5,2116.7 1090.2,2112.4 1090.9,2117.0 1091.6,2115.8 1092.3,2116.1 1093.1,2116.0 1093.8,2112.9 1094.5,2111.3 1095.2,2116.2 1095.9,2113.8 1096.6,2114.5 1097.4,2115.3 1098.1,2111.0 1098.8,2113.1 1099.5,2113.0 1100.2,2111.1 1100.9,2111.0 1101.6,2112.3 1102.3,2112.7 1103.0,2114.1 1103.7,2113.1 1104.4,2113.9 1105.1,2110.1 1105.8,2111.1 1106.5,2110.3 1107.2,2109.5 1107.9,2108.8 1108.6,2112.0 1109.2,2112.0 1109.9,2109.1 1110.6,2103.7 1111.3,2106.2 1112.0,2106.6 1112.7,2111.0 1113.4,2110.2 1114.1,2108.0 1114.8,2110.0 1115.5,2109.6 1116.2,2109.1 1116.9,2109.3 1117.6,2108.1 1118.3,2108.2 1119.0,2110.1 1119.7,2108.6 1120.4,2111.6 1121.1,2110.6 1121.8,2109.9 1122.5,2112.4 1123.1,2110.6 1123.8,2111.6 1124.5,2110.8 1125.2,2114.0 1125.9,2113.4 1126.7,2113.1 1127.4,2113.4 1128.1,2115.0 1128.8,2113.5 1129.5,2111.3 1130.2,2118.1 1130.9,2115.5 1131.7,2117.0 1132.4,2114.3 1133.1,2113.3 1133.8,2114.5 1134.5,2117.9 1135.2,2116.4 1136.0,2117.1 1136.7,2116.9 1137.4,2115.2 1138.1,2121.4 1138.8,2116.9 1139.5,2117.2 1140.2,2117.2 1140.9,2120.0 1141.6,2121.8 1142.3,2120.0 1143.0,2120.5 1143.7,2119.4 1144.4,2122.5 1145.1,2120.6 1145.8,2121.0 1146.5,2118.5 1147.1,2122.7 1147.8,2121.9 1148.5,2119.9 1149.2,2119.6 1149.9,2121.8 1150.6,2118.8 1151.3,2121.4 1152.0,2119.9 1152.7,2119.5 1153.4,2123.6 1154.0,2119.8 1154.7,2118.5 1155.4,2124.7 1156.1,2120.9 1156.8,2124.2 1157.5,2122.3 1158.2,2120.7 1158.9,2119.6 1159.6,2122.3 1160.3,2123.3 1161.0,2121.6 1161.6,2122.1 1162.3,2121.3 1163.0,2122.5 1163.7,2123.0 1164.4,2122.4 1165.1,2119.0 1165.8,2121.3 1166.5,2122.0 1167.2,2121.8 1167.9,2119.3 1168.6,2121.6 1169.3,2119.9 1170.0,2119.6 1170.7,2123.4 1171.4,2121.0 1172.1,2124.8 1172.8,2124.7 1173.5,2119.8 1174.2,2124.2 1174.9,2121.5 1175.5,2125.9 1176.2,2127.4 1176.9,2128.5 1177.6,2128.9 1178.3,2124.5 1179.0,2128.1 1179.7,2125.4 1180.4,2129.6 1181.1,2130.8 1181.8,2129.6 1182.5,2132.0 1183.2,2129.5 1183.9,2130.7 1184.6,2130.0 1185.3,2129.3 1186.0,2132.7 1186.7,2132.4 1187.4,2130.3 1188.1,2130.5 1188.8,2129.2 1189.4,2133.1 1190.1,2132.8 1190.8,2130.6 1191.5,2130.7 1192.2,2130.5 1192.9,2129.5 1193.6,2131.7 1194.3,2132.7 1195.0,2127.0 1195.7,2132.2 1196.4,2128.8 1197.1,2129.6 1197.8,2127.5 1198.5,2129.7 1199.2,2131.0 1199.9,2131.3 1200.6,2137.1 1201.3,2132.2 1202.0,2133.0 1202.7,2133.4 1203.3,2135.4 1204.0,2136.5 1204.7,2137.1 1205.4,2136.2 1206.1,2137.2 1206.8,2133.0 1207.5,2138.1 1208.2,2136.7 1208.9,2139.5 1209.6,2138.5 1210.3,2141.2 1211.0,2140.1 1211.7,2142.3 1212.4,2137.9 1213.1,2144.0 1213.8,2140.1 1214.5,2146.1 1215.2,2141.0 1215.9,2144.2 1216.6,2142.8 1217.2,2145.4 1217.9,2147.6 1218.6,2144.5 1219.3,2147.3 1220.0,2148.7 1220.7,2145.8 1221.4,2149.7 1222.1,2147.6 1222.8,2150.2 1223.5,2147.5 1224.2,2155.6 1224.9,2150.0 1225.6,2146.8 1226.3,2151.8 1227.0,2150.7 1227.7,2148.7 1228.4,2151.3 1229.1,2150.0 1229.8,2152.9 1230.5,2151.2 1231.2,2151.4 1231.9,2154.0 1232.6,2154.7 1233.3,2154.4 1234.0,2155.3 1234.7,2155.0 1235.4,2156.0 1236.1,2158.1 1236.8,2156.2" fill="none" stroke="#0000ff" stroke-width="3.7" stroke-linejoin="round" stroke-linecap="butt"/>
<polyline points="1276.3,2797.2 1277.0,2794.8 1277.7,2795.8 1278.4,2795.4 1279.1,2794.9 1279.8,2795.1 1280.5,2795.1 1281.2,2795.4 1282.0,2795.7 1282.7,2796.1 1283.4,2795.5 1284.1,2796.1 1284.8,2795.6 1285.5,2795.3 1286.2,2795.1 1286.9,2794.5 1287.6,2794.1 1288.3,2795.1 1289.0,2795.0 1289.7,2795.3 1290.4,2795.3 1291.1,2794.2 1291.8,2794.5 1292.5,2794.2 1293.2,2795.7 1294.0,2794.9 1294.7,2795.0 1295.4,2794.3 1296.1,2794.0 1296.8,2794.4 1297.5,2794.7 1298.2,2795.1 1298.9,2793.7 1299.6,2794.9 1300.3,2794.1 1301.0,2794.3 1301.7,2794.4 1302.4,2794.3 1303.1,2794.9 1303.8,2795.2 1304.5,2794.8 1305.2,2794.1 1306.0,2794.8 1306.7,2794.7 1307.4,2795.0 1308.1,2794.6 1308.8,2793.3 1309.5,2793.8 1310.2,2794.0 1310.9,2794.9 1311.6,2794.2 1312.3,2794.9 1313.0,2794.4 1313.7,2793.4 1314.4,2794.2 1315.1,2794.5 1315.8,2794.4 1316.5,2793.1 1317.2,2794.3 1317.9,2793.7 1318.7,2792.7 1319.4,2793.9 1320.1,2793.0 1320.8,2793.5 1321.5,2795.5 1322.2,2796.2 1322.9,2795.3 1323.6,2795.0 1324.3,2796.1 1325.0,2795.1 1325.7,2794.2 1326.4,2793.3 1327.1,2795.7 1327.8,2793.5 1328.5,2793.2 1329.2,2794.8 1329.9,2795.4 1330.6,2794.8 1331.3,2796.2 1332.0,2795.5 1332.7,2795.7 1333.4,2796.0 1334.1,2795.3 1334.8,2796.0 1335.5,2797.5 1336.2,2795.3 1336.9,2796.1 1337.6,2796.5 1338.3,2795.8 1339.0,2796.2 1339.7,2795.1 1340.4,2796.1 1341.1,2796.5 1341.8,2797.3 1342.5,2797.2 1343.2,2796.3 1343.9,2796.0 1344.6,2798.1 1345.3,2797.5 1346.0,2795.6 1346.7,2796.8 1347.4,2796.5 1348.1,2796.7 1348.8,2796.0 1349.6,2797.0 1350.3,2797.0 1351.0,2797.3 1351.7,2798.2 1352.4,2797.7 1353.1,2796.8 1353.8,2796.5 1354.5,2797.4 1355.2,2798.7 1355.9,2798.6 1356.6,2797.5 1357.3,2798.8 1358.0,2798.3 1358.7,2797.6 1359.4,2798.4 1360.1,2798.0 1360.8,2797.3 1361.5,2797.9 1362.2,2798.3 1362.9,2799.1 1363.6,2797.5 1364.3,2798.4 1365.0,2798.3 1365.7,2798.3 1366.4,2797.5 1367.1,2799.3 1367.8,2799.3 1368.5,2799.6 1369.2,2798.8 1369.9,2799.5 1370.6,2798.9 1371.3,2799.3 1372.0,2798.4 1372.7,2798.8 1373.4,2798.4 1374.1,2797.9 1374.8,2798.4 1375.5,2797.9 1376.2,2798.0 1376.9,2798.5 1377.6,2798.4 1378.3,2800.3 1379.0,2800.1 1379.7,2799.7 1380.4,2799.5 1381.2,2798.4 1381.9,2799.2 1382.6,2798.0 1383.3,2798.6 1384.0,2798.7 1384.7,2798.8 1385.4,2799.7 1386.1,2798.6 1386.8,2800.9 1387.5,2798.8 1388.2,2799.8 1388.9,2798.2 1389.6,2799.9 1390.3,2798.5 1391.0,2799.5 1391.7,2799.4 1392.4,2800.0 1393.1,2799.9 1393.8,2799.7 1394.5,2799.4 1395.2,2800.9 1395.9,2799.2 1396.6,2799.5 1397.3,2799.2 1398.0,2799.6 1398.7,2798.8 1399.4,2799.2 1400.1,2799.8 1400.8,2799.1 1401.5,2799.8 1402.2,2799.1 1402.9,2800.5 1403.6,2799.4 1404.3,2800.7 1405.0,2799.8 1405.7,2799.4 1406.4,2800.2 1407.1,2800.3 1407.8,2800.6 1408.5,2800.5 1409.2,2800.1 1409.9,2798.7 1410.6,2800.1 1411.3,2799.4 1412.1,2799.8 1412.8,2800.4 1413.5,2799.0 1414.2,2800.4 1414.9,2801.2 1415.6,2799.9 1416.3,2799.3 1417.0,2800.5 1417.7,2799.6 1418.3,2799.8 1419.0,2799.5 1419.7,2797.1 1420.4,2797.9 1421.1,2796.1 1421.8,2796.3 1422.4,2796.7 1423.1,2795.0 1423.8,2794.9 1424.5,2794.6 1425.2,2794.7 1425.8,2794.3 1426.5,2793.9 1427.2,2792.8 1427.9,2792.1 1428.6,2792.5 1429.3,2791.2 1430.0,2791.2 1430.7,2792.3 1431.4,2791.2 1432.1,2791.1 1432.8,2792.6 1433.5,2791.7 1434.2,2790.2 1434.9,2791.2 1435.6,2793.1 1436.3,2793.8 1437.0,2791.5 1437.7,2792.3 1438.4,2792.3 1439.1,2792.0 1439.8,2790.5 1440.5,2792.5 1441.2,2792.0 1441.9,2791.6 1442.6,2790.6 1443.3,2791.3 1444.0,2791.7 1444.7,2791.6 1445.4,2791.2 1446.1,2790.1 1446.7,2790.4 1447.4,2789.5 1448.1,2787.5 1448.8,2787.2 1449.5,2787.3 1450.2,2785.9 1450.8,2786.6 1451.5,2784.6 1452.2,2784.4 1452.9,2784.0 1453.6,2782.1 1454.2,2783.1 1454.9,2781.4 1455.6,2780.3 1456.3,2779.7 1457.0,2778.6 1457.7,2778.5 1458.4,2780.2 1459.1,2778.7 1459.8,2778.2 1460.5,2778.2 1461.2,2778.1 1461.9,2776.8 1462.6,2776.9 1463.3,2776.8 1464.0,2777.0 1464.7,2776.9 1465.4,2778.4 1466.1,2777.5 1466.7,2777.9 1467.4,2777.6 1468.1,2779.0 1468.8,2779.9 1469.5,2779.8 1470.2,2780.3 1470.8,2780.2 1471.5,2780.9 1472.2,2781.4 1472.9,2782.1 1473.6,2783.4 1474.2,2783.5 1474.9,2784.2 1475.6,2784.9 1476.3,2783.4 1477.0,2784.3 1477.6,2783.1 1478.3,2781.8 1479.0,2782.0 1479.7,2782.1 1480.4,2780.7 1481.1,2783.1 1481.7,2781.1 1482.4,2781.4 1483.1,2779.7 1483.8,2780.3 1484.5,2780.1 1485.1,2779.0 1485.8,2779.4 1486.5,2778.9 1487.2,2778.9 1487.9,2777.1 1488.6,2777.7 1489.3,2776.5 1490.0,2775.5 1490.7,2773.9 1491.4,2774.7 1492.1,2773.9 1492.8,2775.2 1493.5,2772.1 1494.2,2773.3 1494.9,2772.5 1495.6,2771.3 1496.3,2770.6 1497.0,2770.1 1497.7,2768.1 1498.4,2769.5 1499.1,2767.6 1499.8,2766.7 1500.5,2766.6 1501.2,2764.0 1501.9,2764.4 1502.6,2763.9 1503.3,2763.3 1504.0,2764.6 1504.7,2765.0 1505.4,2763.6 1506.2,2763.1 1506.9,2763.2 1507.6,2762.4 1508.3,2762.5 1509.0,2762.5 1509.7,2761.7 1510.4,2761.3 1511.1,2761.4 1511.8,2761.1 1512.5,2761.2 1513.2,2759.4 1513.9,2759.4 1514.6,2759.6 1515.3,2760.0 1516.0,2758.5 1516.7,2759.9 1517.4,2759.8 1518.1,2758.0 1518.8,2759.4 1519.5,2757.3 1520.1,2758.9 1520.8,2757.9 1521.5,2759.9 1522.2,2759.9 1522.9,2759.8 1523.5,2759.2 1524.2,2758.9 1524.9,2760.2 1525.6,2759.6 1526.3,2760.6 1526.9,2759.2 1527.6,2760.7 1528.3,2760.9 1529.0,2759.1 1529.7,2759.9 1530.4,2760.3 1531.1,2760.4 1531.8,2759.6 1532.5,2760.8 1533.3,2760.0 1534.0,2760.8 1534.7,2759.5 1535.4,2760.0 1536.1,2761.3 1536.8,2759.6 1537.6,2760.8 1538.3,2761.8 1539.0,2761.4 1539.7,2759.9 1540.4,2763.3 1541.1,2762.2 1541.9,2764.1 1542.6,2765.0 1543.3,2765.0 1544.0,2766.6 1544.7,2765.1 1545.4,2768.0 1546.1,2768.9 1546.8,2769.5 1547.6,2770.7 1548.3,2772.3 1549.0,2773.1 1549.7,2772.7 1550.4,2774.4 1551.1,2775.3 1551.8,2775.3 1552.5,2776.2 1553.2,2774.9 1553.9,2776.2 1554.6,2778.3 1555.3,2777.7 1556.0,2780.0 1556.7,2780.9 1557.4,2780.1 1558.1,2780.7 1558.8,2782.1 1559.5,2783.1 1560.2,2784.2 1560.9,2784.2 1561.6,2785.1 1562.3,2785.0 1563.0,2786.6 1563.7,2786.6 1564.4,2788.5 1565.1,2788.6 1565.8,2787.2 1566.5,2788.9 1567.2,2788.2 1567.9,2789.9 1568.7,2788.8 1569.4,2790.7 1570.1,2790.8 1570.8,2791.7 1571.5,2790.9 1572.2,2791.0 1572.9,2792.1 1573.6,2790.6 1574.3,2791.7 1575.0,2791.8 1575.7,2792.3 1576.4,2791.5 1577.1,2791.7 1577.8,2792.0 1578.5,2794.5 1579.2,2793.5 1579.9,2794.4 1580.6,2794.2 1581.3,2794.5 1582.0,2795.9 1582.7,2793.7 1583.4,2795.5 1584.1,2795.4 1584.8,2795.7 1585.5,2795.5 1586.2,2795.9 1586.9,2796.4 1587.6,2798.4 1588.3,2797.5 1589.0,2797.9 1589.7,2798.5 1590.4,2799.4 1591.1,2800.0 1591.8,2799.7 1592.5,2799.9 1593.2,2800.6 1593.9,2800.0 1594.6,2801.0 1595.3,2802.4 1596.0,2801.1 1596.7,2801.3 1597.4,2801.1 1598.1,2802.6 1598.8,2803.3 1599.5,2802.9 1600.3,2803.3 1601.0,2804.7 1601.7,2804.2 1602.4,2805.0 1603.1,2804.6 1603.8,2805.9 1604.5,2805.8 1605.2,2805.3 1605.9,2805.1 1606.6,2807.5 1607.3,2805.1 1608.0,2805.4 1608.7,2804.5 1609.4,2806.9 1610.1,2806.6 1610.8,2806.7 1611.5,2805.9 1612.2,2807.1 1612.9,2806.7 1613.6,2806.6 1614.3,2807.5 1615.0,2808.0 1615.7,2807.9 1616.4,2807.8 1617.1,2808.9 1617.8,2808.7 1618.5,2808.4 1619.2,2809.3 1619.9,2809.3 1620.6,2809.9 1621.3,2810.0 1622.0,2810.1 1622.7,2809.3 1623.4,2810.8 1624.1,2810.8 1624.8,2809.9 1625.5,2811.3 1626.2,2810.7 1626.9,2810.1 1627.6,2811.0 1628.3,2810.3 1629.0,2812.1 1629.7,2810.6 1630.4,2812.7 1631.2,2811.3 1631.9,2811.9 1632.6,2813.1 1633.3,2812.6 1634.0,2811.4 1634.7,2812.6 1635.4,2811.5 1636.1,2813.3 1636.8,2812.2 1637.5,2813.0 1638.2,2813.0 1638.9,2812.2 1639.6,2813.5 1640.3,2814.6 1641.0,2812.9 1641.7,2813.2 1642.4,2813.9 1643.1,2814.6 1643.8,2813.3 1644.5,2814.1 1645.2,2814.3 1645.9,2814.9 1646.6,2813.7 1647.3,2816.1 1648.0,2815.9 1648.7,2813.6 1649.4,2814.1 1650.1,2815.0 1650.8,2814.4 1651.5,2814.6 1652.2,2815.0 1652.9,2814.6 1653.6,2814.8 1654.3,2815.4 1655.0,2815.1 1655.7,2815.7 1656.4,2816.3 1657.1,2816.4 1657.8,2815.8 1658.5,2817.2 1659.2,2815.5 1660.0,2816.5 1660.7,2817.2 1661.4,2816.1 1662.1,2816.6 1662.8,2815.7 1663.5,2815.7 1664.2,2816.3 1664.9,2816.5 1665.6,2816.5 1666.3,2816.7 1667.0,2816.5 1667.7,2816.3 1668.4,2816.0 1669.1,2816.4 1669.8,2816.5 1670.5,2816.5 1671.2,2815.8 1671.9,2817.5 1672.6,2817.4 1673.3,2816.9 1674.0,2816.4 1674.7,2817.6 1675.4,2816.7 1676.1,2816.7 1676.9,2817.4 1677.6,2816.6 1678.3,2817.1 1679.0,2816.8 1679.7,2817.6 1680.4,2817.5 1681.1,2817.3" fill="none" stroke="#ff0000" stroke-width="4.5" stroke-linejoin="round" stroke-linecap="butt"/>
<polyline points="1276.3,2118.8 1277.0,2116.5 1277.7,2123.6 1278.4,2127.6 1279.1,2122.6 1279.9,2124.8 1280.6,2125.3 1281.3,2124.8 1282.0,2125.3 1282.7,2126.5 1283.4,2123.8 1284.1,2121.5 1284.8,2121.6 1285.5,2127.2 1286.3,2127.2 1287.0,2126.6 1287.7,2122.1 1288.4,2127.1 1289.1,2127.9 1289.8,2126.4 1290.5,2127.3 1291.2,2134.1 1291.9,2132.8 1292.7,2132.1 1293.4,2131.5 1294.1,2130.3 1294.8,2130.9 1295.5,2133.5 1296.2,2130.5 1296.9,2132.2 1297.6,2136.6 1298.3,2130.6 1299.0,2132.1 1299.7,2138.0 1300.4,2135.3 1301.1,2135.2 1301.8,2133.4 1302.5,2132.4 1303.2,2138.5 1303.9,2130.6 1304.6,2137.6 1305.3,2135.7 1306.0,2137.1 1306.7,2133.1 1307.4,2139.9 1308.1,2139.6 1308.8,2139.3 1309.5,2140.0 1310.2,2136.4 1310.9,2140.1 1311.6,2141.1 1312.3,2140.3 1313.0,2133.9 1313.7,2140.9 1314.4,2141.7 1315.1,2139.4 1315.8,2142.3 1316.5,2145.4 1317.2,2142.7 1317.9,2146.1 1318.7,2142.4 1319.4,2142.4 1320.1,2144.9 1320.8,2142.7 1321.5,2141.3 1322.2,2146.1 1322.9,2145.7 1323.6,2147.3 1324.3,2144.5 1325.0,2145.8 1325.7,2148.2 1326.4,2146.4 1327.1,2147.3 1327.8,2148.7 1328.5,2146.9 1329.2,2149.4 1329.9,2146.0 1330.6,2150.7 1331.3,2155.8 1332.0,2151.7 1332.7,2149.8 1333.4,2147.4 1334.1,2148.8 1334.8,2151.1 1335.5,2150.3 1336.2,2153.5 1336.9,2153.0 1337.6,2154.8 1338.3,2152.9 1339.0,2155.5 1339.7,2157.1 1340.4,2152.5 1341.1,2154.8 1341.8,2155.4 1342.5,2156.1 1343.2,2159.3 1343.9,2156.7 1344.6,2156.1 1345.3,2155.7 1346.0,2156.0 1346.7,2159.5 1347.4,2162.3 1348.1,2161.0 1348.8,2159.8 1349.6,2161.7 1350.3,2160.7 1351.0,2165.5 1351.7,2164.1 1352.4,2167.6 1353.1,2166.5 1353.8,2167.0 1354.5,2164.2 1355.2,2167.9 1355.9,2166.5 1356.6,2166.8 1357.3,2169.0 1358.0,2172.7 1358.7,2170.8 1359.4,2174.7 1360.1,2172.4 1360.8,2168.6 1361.5,2171.0 1362.2,2176.8 1362.9,2174.6 1363.6,2174.1 1364.3,2173.3 1365.0,2175.0 1365.7,2175.9 1366.4,2174.4 1367.1,2175.5 1367.8,2176.6 1368.5,2174.0 1369.2,2176.2 1369.9,2175.5 1370.6,2176.1 1371.3,2175.9 1372.0,2176.8 1372.7,2176.7 1373.4,2182.6 1374.1,2178.8 1374.8,2180.3 1375.5,2178.2 1376.2,2180.5 1376.9,2181.6 1377.6,2184.4 1378.3,2185.0 1379.0,2180.7 1379.7,2185.8 1380.4,2182.5 1381.2,2185.3 1381.9,2182.9 1382.6,2185.0 1383.3,2183.6 1384.0,2181.2 1384.7,2185.7 1385.4,2184.2 1386.1,2184.9 1386.8,2186.1 1387.5,2187.0 1388.2,2191.6 1388.9,2184.4 1389.6,2185.9 1390.3,2185.3 1391.0,2190.3 1391.7,2187.4 1392.4,2187.1 1393.1,2189.7 1393.8,2189.3 1394.5,2190.6 1395.2,2186.9 1395.9,2190.6 1396.6,2192.5 1397.3,2190.5 1398.0,2195.0 1398.7,2192.8 1399.4,2191.9 1400.1,2193.2 1400.8,2195.8 1401.5,2197.5 1402.2,2194.8 1402.9,2197.7 1403.6,2196.3 1404.3,2195.7 1405.0,2196.1 1405.7,2200.4 1406.4,2198.4 1407.1,2200.3 1407.8,2204.0 1408.5,2203.2 1409.2,2200.8 1409.9,2201.7 1410.6,2203.4 1411.3,2199.0 1412.1,2205.4 1412.8,2203.1 1413.5,2206.8 1414.2,2204.3 1414.9,2205.6 1415.6,2208.7 1416.3,2208.9 1417.0,2212.0 1417.7,2207.7 1418.4,2207.9 1419.1,2212.8 1419.8,2211.3 1420.5,2208.1 1421.2,2210.1 1421.9,2212.4 1422.6,2211.0 1423.3,2209.4 1424.0,2213.0 1424.7,2214.3 1425.4,2216.5 1426.1,2216.6 1426.8,2216.5 1427.5,2213.5 1428.2,2213.2 1428.9,2214.0 1429.6,2217.9 1430.3,2219.0 1431.0,2213.6 1431.7,2219.2 1432.4,2220.4 1433.1,2222.2 1433.8,2221.1 1434.5,2221.9 1435.2,2220.9 1435.9,2220.2 1436.6,2221.0 1437.3,2221.7 1438.0,2219.8 1438.7,2222.5 1439.4,2225.3 1440.1,2223.0 1440.8,2226.7 1441.5,2222.5 1442.2,2225.5 1442.9,2223.2 1443.7,2227.3 1444.4,2226.8 1445.1,2227.6 1445.8,2227.5 1446.5,2227.1 1447.2,2228.6 1447.9,2226.9 1448.6,2221.5 1449.3,2227.2 1450.0,2228.2 1450.7,2222.5 1451.4,2230.1 1452.1,2227.7 1452.8,2230.3 1453.5,2227.7 1454.2,2228.9 1454.9,2227.0 1455.6,2228.5 1456.3,2225.9 1457.0,2230.0 1457.7,2228.9 1458.4,2228.6 1459.1,2228.6 1459.8,2228.4 1460.5,2230.6 1461.2,2230.6 1461.9,2230.5 1462.6,2234.2 1463.3,2229.3 1464.0,2230.9 1464.7,2229.8 1465.4,2232.8 1466.1,2233.7 1466.8,2231.1 1467.5,2236.4 1468.2,2232.1 1468.9,2236.1 1469.6,2237.4 1470.3,2236.0 1471.0,2242.4 1471.7,2240.6 1472.4,2238.3 1473.1,2242.6 1473.8,2243.4 1474.5,2242.2 1475.3,2242.4 1476.0,2246.9 1476.7,2250.6 1477.4,2247.0 1478.1,2251.7 1478.8,2244.4 1479.5,2245.3 1480.2,2249.1 1480.9,2247.6 1481.6,2249.6 1482.3,2253.1 1483.0,2247.1 1483.7,2250.3 1484.4,2249.4 1485.1,2246.9 1485.8,2249.2 1486.5,2247.4 1487.2,2249.4 1487.9,2253.2 1488.6,2252.4 1489.3,2252.5 1490.0,2250.6 1490.7,2249.4 1491.4,2255.0 1492.1,2250.7 1492.8,2251.7 1493.5,2253.1 1494.2,2250.7 1494.9,2252.1 1495.6,2250.9 1496.3,2251.6 1497.0,2252.6 1497.6,2247.7 1498.3,2250.6 1499.0,2249.1 1499.7,2249.7 1500.4,2250.8 1501.0,2253.0 1501.7,2245.3 1502.4,2253.2 1503.1,2248.2 1503.8,2247.5 1504.5,2247.6 1505.1,2249.4 1505.8,2249.2 1506.5,2245.0 1507.2,2246.1 1507.9,2252.4 1508.5,2250.9 1509.2,2247.9 1509.9,2252.3 1510.6,2253.0 1511.3,2257.6 1512.0,2253.6 1512.6,2254.8 1513.3,2256.0 1514.0,2258.5 1514.7,2259.6 1515.4,2260.7 1516.0,2263.9 1516.7,2260.7 1517.4,2265.2 1518.1,2262.8 1518.8,2265.2 1519.5,2266.4 1520.2,2269.1 1520.9,2264.1 1521.6,2271.8 1522.3,2263.8 1523.0,2268.4 1523.7,2269.3 1524.4,2270.5 1525.1,2274.4 1525.8,2268.7 1526.5,2270.7 1527.2,2276.1 1527.9,2278.6 1528.6,2273.4 1529.3,2275.4 1530.0,2278.9 1530.7,2279.7 1531.4,2276.0 1532.1,2279.9 1532.8,2279.9 1533.5,2279.4 1534.2,2282.5 1534.9,2282.2 1535.6,2282.3 1536.3,2290.9 1537.0,2286.0 1537.8,2286.0 1538.5,2293.2 1539.2,2289.5 1539.9,2290.4 1540.6,2287.0 1541.3,2290.1 1542.0,2297.6 1542.7,2293.8 1543.4,2295.7 1544.1,2297.2 1544.8,2299.2 1545.5,2303.9 1546.2,2297.4 1546.9,2298.5 1547.6,2306.4 1548.3,2305.6 1549.0,2306.8 1549.7,2308.9 1550.4,2306.9 1551.1,2309.5 1551.8,2311.2 1552.5,2313.0 1553.2,2311.3 1553.9,2309.2 1554.6,2311.1 1555.3,2313.1 1556.0,2313.7 1556.7,2317.9 1557.4,2314.1 1558.1,2318.4 1558.8,2317.3 1559.5,2319.6 1560.2,2323.3 1560.9,2323.3 1561.6,2320.8 1562.3,2323.0 1563.0,2326.0 1563.7,2324.9 1564.4,2328.0 1565.1,2329.6 1565.8,2326.8 1566.5,2329.8 1567.2,2333.7 1567.9,2331.9 1568.7,2329.9 1569.4,2335.2 1570.1,2333.2 1570.8,2333.7 1571.5,2336.0 1572.2,2337.7 1572.9,2335.7 1573.6,2338.4 1574.3,2339.8 1575.0,2341.0 1575.7,2339.9 1576.4,2339.3 1577.1,2341.8 1577.8,2343.3 1578.5,2343.7 1579.2,2346.0 1579.9,2345.5 1580.6,2342.7 1581.3,2347.6 1582.0,2349.1 1582.7,2344.3 1583.4,2350.3 1584.1,2351.4 1584.8,2351.3 1585.5,2352.3 1586.2,2350.3 1586.9,2353.9 1587.6,2354.6 1588.3,2352.4 1589.0,2356.4 1589.7,2358.1 1590.4,2356.3 1591.1,2361.7 1591.8,2359.0 1592.5,2359.7 1593.2,2361.3 1593.9,2361.2 1594.6,2361.5 1595.3,2361.3 1596.0,2359.6 1596.7,2361.0 1597.4,2364.9 1598.1,2368.5 1598.8,2365.2 1599.5,2361.8 1600.3,2369.3 1601.0,2366.2 1601.7,2367.5 1602.4,2370.9 1603.1,2371.3 1603.8,2372.1 1604.5,2371.5 1605.2,2372.1 1605.9,2375.6 1606.6,2377.1 1607.3,2377.8 1608.0,2379.2 1608.7,2379.7 1609.4,2378.1 1610.1,2380.7 1610.8,2380.7 1611.5,2379.7 1612.2,2386.1 1612.9,2385.6 1613.6,2383.0 1614.3,2384.1 1615.0,2386.2 1615.7,2386.8 1616.4,2387.1 1617.1,2388.1 1617.8,2392.5 1618.5,2389.6 1619.2,2389.8 1619.9,2394.8 1620.6,2392.5 1621.3,2393.1 1622.0,2393.1 1622.7,2395.5 1623.4,2395.8 1624.1,2396.8 1624.8,2397.8 1625.5,2399.5 1626.2,2397.2 1626.9,2398.9 1627.6,2400.7 1628.3,2402.5 1629.0,2402.7 1629.7,2404.3 1630.4,2405.3 1631.2,2405.4 1631.9,2406.3 1632.6,2411.6 1633.3,2408.7 1634.0,2408.7 1634.7,2412.0 1635.4,2412.0 1636.1,2410.2 1636.8,2416.0 1637.5,2408.4 1638.2,2415.5 1638.9,2416.1 1639.6,2417.5 1640.3,2416.9 1641.0,2412.9 1641.7,2415.3 1642.4,2420.1 1643.1,2417.0 1643.8,2423.7 1644.5,2425.3 1645.2,2419.4 1645.9,2424.7 1646.6,2426.0 1647.3,2430.1 1648.0,2424.5 1648.7,2427.7 1649.4,2429.4 1650.1,2426.0 1650.8,2427.3 1651.5,2431.2 1652.2,2430.6 1652.9,2429.6 1653.6,2430.0 1654.3,2432.8 1655.0,2432.5 1655.7,2435.9 1656.4,2435.4 1657.1,2440.0 1657.8,2436.6 1658.5,2437.1 1659.2,2440.0 1660.0,2441.5 1660.7,2438.7 1661.4,2440.2 1662.1,2440.5 1662.8,2440.7 1663.5,2443.8 1664.2,2445.6 1664.9,2444.3 1665.6,2444.4 1666.3,2445.2 1667.0,2451.8 1667.7,2449.7 1668.4,2450.7 1669.1,2449.4 1669.8,2450.2 1670.5,2451.9 1671.2,2452.5 1671.9,2451.3 1672.6,2455.2 1673.3,2454.8 1674.0,2457.1 1674.7,2459.0 1675.4,2459.1 1676.1,2458.1 1676.9,2464.0 1677.6,2463.9 1678.3,2463.0 1679.0,2464.8 1679.7,2462.7 1680.4,2465.6 1681.1,2465.0" fill="none" stroke="#0000ff" stroke-width="3.7" stroke-linejoin="round" stroke-linecap="butt"/>
<polyline points="1722.8,2829.6 1723.5,2831.2 1724.2,2830.7 1724.9,2830.2 1725.6,2831.1 1726.3,2830.1 1727.0,2831.8 1727.7,2831.0 1728.4,2830.7 1729.1,2831.2 1729.8,2830.2 1730.5,2831.2 1731.2,2831.4 1731.9,2831.5 1732.6,2831.3 1733.3,2830.5 1734.0,2831.2 1734.7,2830.4 1735.4,2831.3 1736.1,2830.9 1736.8,2830.9 1737.5,2831.7 1738.2,2832.4 1738.9,2832.1 1739.6,2831.2 1740.3,2831.2 1741.0,2831.0 1741.7,2831.2 1742.4,2831.6 1743.1,2831.8 1743.8,2831.4 1744.5,2831.7 1745.2,2831.1 1745.9,2831.5 1746.6,2832.5 1747.3,2832.5 1748.0,2832.1 1748.7,2832.0 1749.4,2832.1 1750.1,2831.6 1750.8,2831.4 1751.5,2832.3 1752.2,2831.5 1752.9,2832.4 1753.6,2831.6 1754.3,2832.2 1755.0,2833.1 1755.7,2832.6 1756.4,2832.3 1757.1,2832.5 1757.8,2831.6 1758.5,2832.9 1759.2,2832.1 1759.9,2832.1 1760.6,2832.2 1761.3,2832.7 1762.0,2832.3 1762.7,2832.4 1763.4,2833.0 1764.1,2832.9 1764.8,2833.4 1765.5,2833.3 1766.2,2833.5 1766.9,2832.4 1767.6,2833.0 1768.3,2833.3 1769.0,2833.5 1769.7,2832.9 1770.4,2833.5 1771.1,2833.7 1771.8,2832.7 1772.5,2832.8 1773.2,2832.9 1773.9,2833.5 1774.6,2832.8 1775.3,2833.4 1776.0,2833.2 1776.7,2833.0 1777.4,2832.6 1778.1,2834.7 1778.8,2834.3 1779.5,2834.2 1780.2,2832.9 1780.9,2834.2 1781.6,2833.6 1782.3,2833.2 1783.0,2833.6 1783.7,2833.7 1784.4,2834.8 1785.1,2834.1 1785.8,2834.0 1786.5,2834.3 1787.2,2834.3 1787.9,2833.5 1788.6,2834.8 1789.3,2834.3 1790.0,2834.8 1790.7,2835.1 1791.4,2834.2 1792.1,2835.5 1792.8,2834.3 1793.5,2834.3 1794.2,2833.4 1794.9,2835.2 1795.6,2834.5 1796.3,2834.3 1797.0,2834.4 1797.7,2835.0 1798.4,2835.3 1799.1,2835.1 1799.8,2834.7 1800.5,2834.5 1801.2,2833.9 1801.9,2834.6 1802.6,2835.2 1803.3,2834.8 1804.0,2836.0 1804.7,2835.6 1805.4,2835.0 1806.1,2835.4 1806.8,2835.3 1807.5,2834.9 1808.2,2835.1 1808.9,2834.6 1809.6,2835.2 1810.3,2835.9 1811.0,2835.2 1811.7,2836.4 1812.4,2835.4 1813.1,2836.0 1813.8,2835.9 1814.5,2835.3 1815.2,2835.1 1816.0,2836.0 1816.7,2836.2 1817.4,2835.8 1818.1,2835.8 1818.8,2834.5 1819.5,2835.6 1820.2,2836.4 1820.9,2836.6 1821.6,2836.3 1822.3,2835.7 1823.0,2836.6 1823.7,2836.0 1824.4,2836.6 1825.1,2837.0 1825.8,2835.8 1826.5,2836.2 1827.2,2836.5 1827.9,2836.6 1828.6,2836.5 1829.3,2836.9 1830.0,2837.0 1830.7,2836.3 1831.4,2836.6 1832.1,2837.2 1832.8,2836.2 1833.5,2836.5 1834.2,2835.7 1834.9,2836.4 1835.6,2837.8 1836.3,2838.0 1837.0,2836.8 1837.7,2837.9 1838.4,2837.3 1839.1,2837.3 1839.8,2837.1 1840.5,2837.7 1841.2,2836.5 1841.9,2838.0 1842.6,2837.4 1843.3,2837.3 1844.0,2836.5 1844.7,2838.6 1845.4,2837.9 1846.1,2837.6 1846.8,2837.6 1847.5,2838.1 1848.2,2837.4 1848.9,2837.8 1849.6,2838.1 1850.3,2837.4 1851.0,2837.5 1851.7,2838.4 1852.4,2837.4 1853.1,2837.5 1853.8,2838.2 1854.5,2839.0 1855.2,2838.9 1855.9,2837.6 1856.6,2839.1 1857.3,2837.5 1858.0,2838.0 1858.7,2838.4 1859.4,2838.7 1860.1,2838.7 1860.8,2838.6 1861.5,2837.5 1862.2,2837.7 1862.9,2838.5 1863.6,2838.8 1864.3,2838.6 1865.0,2838.3 1865.7,2838.8 1866.4,2839.2 1867.1,2837.3 1867.8,2839.5 1868.5,2839.7 1869.2,2839.3 1869.9,2838.6 1870.6,2839.0 1871.3,2839.1 1872.0,2840.1 1872.7,2839.3 1873.4,2839.6 1874.1,2839.7 1874.8,2839.4 1875.5,2839.0 1876.2,2838.5 1876.9,2839.1 1877.5,2839.8 1878.2,2839.9 1878.9,2838.6 1879.6,2839.4 1880.3,2839.6 1881.0,2840.1 1881.7,2839.5 1882.4,2839.6 1883.1,2839.8 1883.8,2840.1 1884.5,2839.9 1885.2,2839.5 1885.9,2839.8 1886.6,2840.1 1887.3,2839.8 1888.0,2840.0 1888.7,2840.0 1889.4,2839.4 1890.1,2841.1 1890.8,2840.2 1891.5,2840.7 1892.2,2841.4 1892.9,2840.6 1893.6,2840.1 1894.3,2840.5 1895.0,2840.2 1895.7,2840.4 1896.4,2841.0 1897.1,2840.3 1897.8,2841.0 1898.5,2840.9 1899.2,2841.6 1899.9,2841.1 1900.6,2841.4 1901.3,2841.3 1902.0,2840.8 1902.7,2840.9 1903.4,2840.6 1904.1,2840.6 1904.8,2842.2 1905.5,2840.7 1906.2,2841.9 1906.9,2841.2 1907.6,2840.8 1908.3,2841.4 1909.0,2841.9 1909.7,2842.0 1910.4,2842.1 1911.1,2841.6 1911.8,2841.9 1912.5,2841.4 1913.2,2841.3 1913.9,2842.1 1914.6,2842.3 1915.3,2841.8 1916.0,2841.9 1916.7,2841.7 1917.4,2842.0 1918.1,2841.5 1918.8,2842.2 1919.5,2842.1 1920.2,2842.1 1920.9,2843.3 1921.6,2841.9 1922.3,2842.5 1923.0,2842.7 1923.7,2842.0 1924.4,2842.9 1925.1,2842.1 1925.8,2842.8 1926.5,2842.7 1927.2,2843.4 1927.9,2841.9 1928.6,2843.5 1929.3,2844.2 1930.0,2843.1 1930.7,2842.3 1931.4,2843.0 1932.1,2842.3 1932.8,2843.4 1933.5,2843.1 1934.2,2842.5 1934.9,2844.0 1935.6,2843.1 1936.3,2844.0 1937.0,2843.1 1937.7,2843.1 1938.4,2842.7 1939.1,2843.6 1939.8,2843.4 1940.5,2843.0 1941.2,2844.4 1941.9,2843.5 1942.6,2844.6 1943.3,2843.8 1944.0,2842.8 1944.7,2843.0 1945.4,2843.9 1946.1,2844.7 1946.8,2843.8 1947.5,2843.5 1948.2,2843.6 1948.9,2844.6 1949.6,2844.8 1950.3,2844.0 1951.0,2843.7 1951.7,2843.6 1952.3,2844.6 1953.0,2843.8 1953.7,2844.3 1954.4,2844.3 1955.1,2845.3 1955.8,2843.5 1956.5,2844.0 1957.2,2844.3 1957.9,2845.2 1958.6,2844.4 1959.3,2845.2 1960.0,2844.4 1960.7,2843.8 1961.4,2844.4 1962.1,2845.5 1962.8,2844.6 1963.5,2844.4 1964.2,2844.9 1964.9,2844.6 1965.6,2845.2 1966.3,2845.2 1967.0,2845.6 1967.7,2845.5 1968.4,2846.5 1969.1,2844.5 1969.8,2846.0 1970.5,2843.8 1971.2,2845.8 1971.9,2845.2 1972.6,2845.3 1973.3,2845.3 1974.0,2845.9 1974.7,2845.5 1975.4,2846.1 1976.1,2845.7 1976.8,2846.3 1977.5,2847.1 1978.2,2846.1 1978.9,2846.2 1979.6,2845.6 1980.3,2846.2 1981.0,2846.0 1981.7,2845.7 1982.4,2845.8 1983.1,2847.3 1983.8,2845.4 1984.5,2845.6 1985.2,2845.8 1985.9,2846.4 1986.6,2846.3 1987.3,2846.7 1988.0,2846.7 1988.7,2846.6 1989.4,2846.1 1990.1,2846.4 1990.8,2847.2 1991.5,2847.3 1992.2,2846.6 1992.9,2847.1 1993.6,2846.5 1994.3,2846.5 1995.0,2846.3 1995.7,2847.5 1996.4,2848.1 1997.1,2847.3 1997.8,2847.5 1998.5,2847.6 1999.2,2847.2 1999.9,2846.3 2000.6,2847.9 2001.3,2847.6 2002.0,2848.2 2002.7,2847.5 2003.4,2847.4 2004.1,2848.7 2004.8,2848.6 2005.5,2848.1 2006.2,2847.1 2006.9,2847.4 2007.6,2847.4 2008.3,2848.0 2009.0,2847.9 2009.7,2847.9 2010.4,2848.4 2011.1,2847.3 2011.8,2847.2 2012.5,2848.2 2013.2,2848.5 2013.9,2848.3 2014.6,2849.3 2015.3,2848.2 2016.0,2848.2 2016.7,2848.3 2017.4,2848.0 2018.1,2849.0 2018.8,2848.7 2019.5,2849.4 2020.2,2847.7 2020.9,2848.1 2021.6,2849.3 2022.3,2849.0 2023.0,2848.8 2023.7,2849.1 2024.4,2849.4 2025.1,2848.7 2025.8,2849.7 2026.5,2849.4 2027.2,2849.1 2027.9,2849.1 2028.6,2849.8 2029.3,2849.3 2030.0,2849.1 2030.7,2848.7 2031.4,2849.2 2032.1,2849.5 2032.8,2849.1 2033.5,2849.3 2034.2,2850.2 2034.9,2849.3 2035.6,2850.1 2036.3,2850.0 2037.0,2848.5 2037.7,2850.2 2038.4,2849.9 2039.1,2849.3 2039.8,2849.8 2040.5,2849.7 2041.2,2850.0 2041.9,2849.9 2042.6,2850.6 2043.3,2850.4 2044.0,2850.8 2044.7,2850.9 2045.4,2850.0 2046.1,2850.6 2046.8,2850.8 2047.5,2849.9 2048.2,2851.2 2048.9,2850.8 2049.6,2850.7 2050.3,2850.9 2051.0,2850.3 2051.7,2851.0 2052.4,2851.4 2053.1,2851.6 2053.8,2851.1 2054.5,2851.1 2055.2,2850.9 2055.9,2849.9 2056.6,2850.9 2057.3,2851.0 2058.0,2851.6 2058.7,2851.3 2059.4,2851.3 2060.1,2852.0 2060.8,2851.6 2061.5,2851.7 2062.2,2850.9 2062.9,2851.3 2063.6,2851.1 2064.3,2852.0 2065.0,2851.6 2065.7,2851.4 2066.4,2851.6 2067.1,2851.6 2067.8,2852.5 2068.5,2852.7 2069.2,2852.3 2069.9,2852.0 2070.6,2852.9 2071.3,2852.6 2072.0,2852.7 2072.7,2851.8 2073.4,2852.2 2074.1,2852.5 2074.8,2851.6 2075.5,2851.8 2076.2,2852.8 2076.9,2851.7 2077.6,2852.9 2078.3,2852.7 2079.0,2852.6 2079.7,2852.5 2080.4,2852.6 2081.1,2853.5 2081.8,2852.1 2082.5,2852.9 2083.2,2853.2 2083.9,2853.1 2084.6,2852.8 2085.3,2852.8 2086.0,2853.1 2086.7,2853.6 2087.4,2853.1 2088.1,2853.0 2088.8,2852.9 2089.5,2853.9 2090.2,2852.8 2090.9,2853.6 2091.6,2853.5 2092.3,2853.3 2093.0,2854.0 2093.7,2854.3 2094.4,2853.7 2095.1,2854.3 2095.8,2853.8 2096.5,2853.8 2097.2,2853.4 2097.9,2853.5 2098.6,2854.8 2099.3,2854.1 2100.0,2853.2 2100.7,2854.4 2101.4,2854.3 2102.1,2853.8 2102.8,2854.6 2103.5,2854.3 2104.2,2853.2 2104.9,2854.2 2105.6,2854.3 2106.3,2854.9 2107.0,2854.6 2107.7,2854.7 2108.4,2854.5 2109.1,2854.7 2109.8,2854.6 2110.5,2855.3 2111.2,2854.8 2111.9,2855.2 2112.6,2855.0 2113.3,2856.2 2114.0,2854.8 2114.7,2855.2 2115.4,2854.3 2116.1,2854.8 2116.8,2855.1" fill="none" stroke="#ff0000" stroke-width="4.5" stroke-linejoin="round" stroke-linecap="butt"/>
<polyline points="1722.8,2383.9 1723.5,2383.2 1724.2,2385.9 1724.9,2388.4 1725.6,2389.7 1726.2,2388.3 1726.9,2387.8 1727.6,2387.8 1728.3,2388.0 1729.0,2387.5 1729.7,2387.0 1730.4,2387.2 1731.1,2393.6 1731.8,2392.0 1732.4,2394.8 1733.1,2390.5 1733.8,2394.5 1734.5,2394.6 1735.2,2396.7 1735.9,2395.4 1736.6,2398.5 1737.3,2399.2 1738.0,2400.5 1738.7,2394.3 1739.3,2396.7 1740.0,2402.6 1740.7,2405.6 1741.4,2402.1 1742.1,2401.0 1742.8,2404.7 1743.5,2403.3 1744.2,2403.9 1744.9,2406.7 1745.6,2404.7 1746.3,2401.8 1747.0,2404.4 1747.7,2407.6 1748.4,2405.3 1749.1,2408.3 1749.8,2407.0 1750.5,2409.8 1751.2,2408.3 1751.9,2411.7 1752.6,2409.7 1753.3,2408.9 1754.0,2412.7 1754.7,2413.0 1755.4,2413.1 1756.2,2410.3 1756.9,2413.1 1757.6,2416.5 1758.3,2415.7 1759.0,2413.3 1759.7,2418.9 1760.4,2417.8 1761.1,2417.4 1761.8,2417.2 1762.5,2418.4 1763.2,2420.2 1763.9,2415.2 1764.6,2419.7 1765.3,2418.5 1766.0,2422.5 1766.7,2422.4 1767.4,2422.8 1768.1,2424.2 1768.8,2427.3 1769.5,2428.3 1770.2,2422.6 1770.9,2429.2 1771.6,2426.5 1772.3,2423.4 1773.0,2430.1 1773.7,2426.4 1774.4,2427.3 1775.1,2431.0 1775.8,2429.4 1776.5,2430.7 1777.2,2433.4 1777.9,2432.2 1778.6,2426.8 1779.3,2431.9 1780.0,2430.6 1780.7,2431.3 1781.4,2431.8 1782.1,2435.4 1782.8,2435.8 1783.5,2435.7 1784.2,2438.9 1784.9,2437.6 1785.6,2437.4 1786.3,2440.6 1787.0,2440.3 1787.8,2440.2 1788.5,2442.5 1789.2,2442.7 1789.9,2442.3 1790.6,2442.8 1791.3,2442.7 1792.0,2442.5 1792.7,2449.9 1793.4,2446.7 1794.1,2442.2 1794.8,2448.0 1795.5,2447.0 1796.2,2447.3 1796.9,2449.4 1797.6,2451.5 1798.3,2453.9 1799.0,2452.1 1799.7,2453.0 1800.4,2455.3 1801.1,2450.3 1801.8,2452.6 1802.5,2453.7 1803.2,2459.6 1803.9,2457.6 1804.6,2456.9 1805.3,2458.1 1806.0,2458.1 1806.7,2462.2 1807.4,2462.2 1808.1,2464.2 1808.8,2465.2 1809.5,2466.4 1810.2,2466.4 1810.9,2465.2 1811.6,2467.9 1812.3,2467.8 1813.0,2468.7 1813.7,2472.2 1814.4,2468.5 1815.1,2472.0 1815.8,2472.4 1816.5,2472.3 1817.2,2471.9 1817.9,2473.6 1818.6,2473.8 1819.4,2472.9 1820.1,2473.7 1820.8,2473.0 1821.5,2476.3 1822.2,2483.3 1822.9,2476.4 1823.6,2481.5 1824.3,2480.7 1825.0,2483.1 1825.7,2483.6 1826.4,2482.4 1827.1,2484.0 1827.8,2483.8 1828.5,2484.3 1829.2,2484.8 1829.9,2486.9 1830.6,2482.6 1831.3,2486.5 1832.0,2487.4 1832.7,2486.7 1833.4,2489.0 1834.1,2493.3 1834.8,2490.1 1835.5,2494.4 1836.2,2495.2 1836.9,2493.2 1837.6,2494.1 1838.3,2495.9 1839.0,2496.5 1839.7,2502.8 1840.4,2499.6 1841.1,2500.2 1841.8,2499.7 1842.5,2501.1 1843.2,2502.0 1843.9,2503.4 1844.6,2505.6 1845.3,2507.8 1846.0,2506.7 1846.7,2505.4 1847.4,2512.6 1848.1,2511.1 1848.8,2511.8 1849.5,2510.4 1850.3,2514.0 1851.0,2514.9 1851.7,2516.7 1852.4,2516.7 1853.1,2518.6 1853.8,2519.0 1854.5,2526.2 1855.2,2517.0 1855.9,2522.4 1856.6,2518.5 1857.3,2524.5 1858.0,2524.6 1858.7,2524.0 1859.4,2528.9 1860.1,2526.5 1860.8,2525.4 1861.5,2529.0 1862.2,2529.3 1862.9,2527.2 1863.6,2534.8 1864.3,2531.9 1865.0,2532.4 1865.7,2530.0 1866.4,2537.6 1867.1,2535.9 1867.8,2537.7 1868.5,2538.7 1869.2,2535.7 1869.9,2537.7 1870.6,2541.7 1871.3,2540.5 1872.0,2544.7 1872.7,2541.7 1873.4,2545.7 1874.1,2546.7 1874.8,2543.6 1875.5,2545.1 1876.2,2547.5 1876.9,2546.8 1877.6,2548.2 1878.3,2549.4 1879.0,2547.6 1879.7,2549.1 1880.4,2552.0 1881.1,2551.7 1881.9,2551.3 1882.6,2553.2 1883.3,2556.0 1884.0,2557.2 1884.7,2558.0 1885.4,2559.0 1886.1,2563.0 1886.8,2560.1 1887.5,2560.7 1888.2,2564.4 1888.9,2564.2 1889.6,2564.3 1890.3,2564.6 1891.0,2566.1 1891.7,2568.4 1892.4,2569.8 1893.1,2567.7 1893.8,2565.7 1894.5,2574.5 1895.2,2571.8 1895.9,2574.4 1896.6,2573.5 1897.3,2572.1 1898.0,2574.4 1898.7,2575.5 1899.4,2578.1 1900.1,2580.2 1900.8,2581.3 1901.5,2582.3 1902.2,2586.3 1902.9,2584.8 1903.6,2587.7 1904.3,2587.4 1905.0,2585.1 1905.7,2586.0 1906.4,2591.2 1907.1,2589.4 1907.8,2593.0 1908.5,2590.5 1909.2,2589.2 1909.9,2591.8 1910.6,2593.9 1911.3,2592.7 1912.0,2597.9 1912.8,2597.1 1913.5,2597.7 1914.2,2596.5 1914.9,2603.3 1915.6,2600.9 1916.3,2598.9 1917.0,2604.3 1917.7,2601.5 1918.4,2605.0 1919.1,2602.3 1919.8,2603.8 1920.5,2608.3 1921.2,2605.5 1921.9,2606.0 1922.6,2610.4 1923.3,2609.3 1924.0,2606.7 1924.7,2613.3 1925.4,2611.9 1926.1,2614.2 1926.8,2611.9 1927.5,2614.7 1928.2,2616.1 1928.9,2612.7 1929.6,2616.5 1930.3,2618.5 1931.0,2617.4 1931.7,2622.1 1932.4,2622.1 1933.1,2620.6 1933.8,2622.3 1934.5,2623.6 1935.2,2626.5 1935.9,2625.6 1936.6,2628.2 1937.3,2628.1 1938.0,2629.1 1938.7,2633.7 1939.4,2635.8 1940.1,2634.9 1940.8,2634.4 1941.5,2634.2 1942.2,2636.3 1942.9,2634.6 1943.6,2641.5 1944.4,2639.6 1945.1,2638.7 1945.8,2640.3 1946.5,2643.6 1947.2,2644.5 1947.9,2643.2 1948.6,2645.9 1949.3,2641.6 1950.0,2647.2 1950.7,2651.6 1951.4,2650.7 1952.1,2648.4 1952.8,2653.0 1953.5,2651.7 1954.2,2651.5 1954.9,2654.5 1955.6,2653.9 1956.3,2660.8 1957.0,2658.6 1957.7,2658.5 1958.4,2660.2 1959.1,2659.4 1959.8,2658.5 1960.5,2657.8 1961.2,2662.3 1961.9,2664.5 1962.6,2663.7 1963.3,2664.2 1964.0,2662.5 1964.7,2664.0 1965.4,2671.2 1966.1,2666.0 1966.8,2665.7 1967.5,2670.6 1968.2,2674.1 1968.9,2671.2 1969.6,2672.8 1970.3,2677.2 1971.0,2672.6 1971.7,2675.4 1972.4,2678.4 1973.1,2680.5 1973.8,2678.0 1974.5,2678.6 1975.3,2680.1 1976.0,2681.4 1976.7,2678.6 1977.4,2681.7 1978.1,2682.7 1978.8,2685.4 1979.5,2683.0 1980.2,2687.8 1980.9,2687.7 1981.6,2688.0 1982.3,2686.3 1983.0,2685.8 1983.7,2689.6 1984.4,2690.9 1985.1,2690.5 1985.8,2692.8 1986.5,2692.3 1987.2,2694.3 1987.9,2695.3 1988.6,2701.5 1989.3,2695.9 1990.0,2699.8 1990.7,2701.2 1991.4,2699.8 1992.1,2699.9 1992.8,2703.0 1993.5,2704.6 1994.2,2706.5 1994.9,2706.7 1995.6,2704.1 1996.3,2705.3 1997.0,2706.1 1997.7,2709.5 1998.4,2709.5 1999.1,2712.5 1999.8,2711.7 2000.5,2710.5 2001.2,2708.7 2001.9,2711.6 2002.6,2715.9 2003.3,2717.2 2004.0,2716.9 2004.7,2718.3 2005.4,2717.3 2006.1,2716.8 2006.9,2718.7 2007.6,2721.0 2008.3,2723.4 2009.0,2725.8 2009.7,2725.9 2010.4,2727.3 2011.1,2722.8 2011.8,2726.8 2012.5,2727.2 2013.2,2729.7 2013.9,2730.3 2014.6,2732.0 2015.3,2733.6 2016.0,2730.6 2016.7,2731.9 2017.4,2734.3 2018.1,2734.9 2018.8,2736.1 2019.5,2738.0 2020.2,2739.3 2020.9,2739.1 2021.6,2736.7 2022.3,2735.2 2023.0,2739.6 2023.7,2741.4 2024.4,2740.1 2025.1,2743.1 2025.8,2745.5 2026.5,2747.8 2027.2,2748.1 2027.9,2744.6 2028.6,2749.5 2029.3,2750.0 2030.0,2752.3 2030.7,2749.3 2031.4,2749.9 2032.1,2752.9 2032.8,2752.8 2033.5,2751.7 2034.2,2759.0 2034.9,2754.0 2035.6,2754.8 2036.3,2756.0 2037.0,2755.5 2037.8,2756.6 2038.5,2759.7 2039.2,2759.9 2039.9,2758.5 2040.6,2761.9 2041.3,2764.7 2042.0,2765.6 2042.7,2762.9 2043.4,2763.5 2044.1,2766.1 2044.8,2764.0 2045.5,2765.7 2046.2,2770.7 2046.9,2769.9 2047.6,2770.8 2048.3,2770.3 2049.0,2770.1 2049.7,2771.8 2050.4,2775.7 2051.1,2774.4 2051.8,2775.1 2052.5,2776.2 2053.2,2777.0 2053.9,2780.2 2054.6,2779.0 2055.3,2778.6 2056.0,2779.8 2056.7,2783.5 2057.4,2784.0 2058.1,2789.3 2058.8,2782.9 2059.5,2788.7 2060.2,2784.0 2060.9,2789.7 2061.6,2788.3 2062.3,2790.4 2063.0,2792.2 2063.7,2791.3 2064.4,2793.7 2065.1,2791.3 2065.8,2796.8 2066.5,2794.9 2067.2,2796.4 2067.9,2798.2 2068.6,2796.8 2069.4,2799.5 2070.1,2799.2 2070.8,2802.2 2071.5,2801.5 2072.2,2799.3 2072.9,2799.5 2073.6,2800.4 2074.3,2803.7 2075.0,2807.2 2075.7,2806.8 2076.4,2805.8 2077.1,2808.4 2077.8,2809.3 2078.5,2809.8 2079.2,2810.9 2079.9,2812.4 2080.6,2811.8 2081.3,2813.2 2082.0,2810.5 2082.7,2812.4 2083.4,2814.6 2084.1,2814.7 2084.8,2813.1 2085.5,2818.0 2086.2,2817.7 2086.9,2821.9 2087.6,2818.9 2088.3,2822.2 2089.0,2818.7 2089.7,2824.8 2090.4,2823.7 2091.1,2823.3 2091.8,2823.6 2092.5,2822.4 2093.2,2825.6 2093.9,2826.5 2094.6,2829.5 2095.3,2827.6 2096.0,2826.6 2096.6,2830.6 2097.3,2831.0 2098.0,2832.4 2098.7,2835.2 2099.4,2832.5 2100.1,2834.3 2100.8,2835.0 2101.5,2835.4 2102.2,2835.6 2102.9,2839.1 2103.6,2837.4 2104.3,2838.0 2105.0,2836.4 2105.7,2841.9 2106.4,2840.0 2107.0,2843.2 2107.7,2840.8 2108.4,2841.7 2109.1,2845.7 2109.8,2844.4 2110.5,2846.9 2111.2,2844.7 2111.9,2843.0 2112.6,2849.2 2113.3,2850.1 2114.0,2847.9 2114.7,2847.4 2115.4,2850.2 2116.1,2848.1 2116.8,2852.0" fill="none" stroke="#0000ff" stroke-width="3.7" stroke-linejoin="round" stroke-linecap="butt"/>
<text transform="translate(36.0 1601.6)" font-size="74" text-anchor="start" fill="#111">(b)</text>
<text transform="translate(84.0 2174.5) rotate(-90) scale(1 1.03)" font-size="67.3" text-anchor="middle" fill="#111">Raman shift (arb. unit)</text>
<text transform="translate(1218.7 3015.0) scale(1 1.03)" font-size="67.6" text-anchor="middle" fill="#111">Raman shift (cm<tspan font-size="44.6" dy="-28.4">−</tspan><tspan font-size="44.6">1</tspan><tspan dy="28.4">)</tspan></text>
<rect x="800.4" y="1586.0" width="819.9" height="169.0" fill="#fefefe" stroke="#333" stroke-width="2.5"/>
<line x1="807.7" y1="1625.3" x2="931.6" y2="1625.3" stroke="#0000ff" stroke-width="3"/>
<text transform="translate(947.6 1642.0) scale(1 1.03)" font-size="55" text-anchor="start" fill="#111">acrylic paint/0.5TiO<tspan font-size="36" dy="11">2</tspan></text>
<line x1="807.7" y1="1706.2" x2="931.6" y2="1706.2" stroke="#ff0000" stroke-width="4.5"/>
<text transform="translate(947.6 1722.2) scale(1 1.03)" font-size="55" text-anchor="start" fill="#111">acrylic paint/0.5TiO<tspan font-size="36" dy="11">2</tspan><tspan dy="-11"> - plasma</tspan></text>
<text transform="translate(449.0 1618.0) scale(1 1.03)" font-size="56" text-anchor="start" fill="#111">R</text>
<text transform="translate(603.0 1620.5) scale(1 1.03)" font-size="56" text-anchor="start" fill="#111">R</text>
<text transform="translate(371.5 2028.5) scale(1 1.03)" font-size="56" text-anchor="start" fill="#111">R</text>
<text transform="translate(409.0 2085.5) scale(1 1.03)" font-size="56" text-anchor="start" fill="#111">c</text>
<text transform="translate(312.0 2112.0) scale(1 1.03)" font-size="56" text-anchor="start" fill="#111">A</text>
<text transform="translate(648.0 2114.5) scale(1 1.03)" font-size="56" text-anchor="start" fill="#111">c</text>
<text transform="translate(313.0 2179.0) scale(1 1.03)" font-size="56" text-anchor="start" fill="#111">R</text>
<text transform="translate(689.0 2152.0) scale(1 1.03)" font-size="56" text-anchor="start" fill="#111">R</text>
<text transform="translate(836.5 2076.0) scale(1 1.03)" font-size="56" text-anchor="start" fill="#111">c</text>
<text transform="translate(368.0 2403.5) scale(1 1.03)" font-size="56" text-anchor="start" fill="#111">R</text>
<text transform="translate(316.5 2460.5) scale(1 1.03)" font-size="56" text-anchor="start" fill="#111">A</text>
<text transform="translate(409.0 2474.5) scale(1 1.03)" font-size="56" text-anchor="start" fill="#111">c</text>
<text transform="translate(523.0 2524.5) scale(1 1.03)" font-size="56" text-anchor="start" fill="#111">A</text>
<text transform="translate(635.5 2598.5) scale(1 1.03)" font-size="56" text-anchor="start" fill="#111">c</text>
<text transform="translate(695.5 2698.0) scale(1 1.03)" font-size="56" text-anchor="start" fill="#111">R</text>
<text transform="translate(837.0 2646.5) scale(1 1.03)" font-size="56" text-anchor="start" fill="#111">c</text>
<text transform="translate(1000.5 2081.5) scale(1 1.03)" font-size="56" text-anchor="start" fill="#111">C-H</text>
<text transform="translate(998.0 2734.5) scale(1 1.03)" font-size="56" text-anchor="start" fill="#111">C-H</text>
<text transform="translate(1479.0 2224.5) scale(1 1.03)" font-size="56" text-anchor="start" fill="#111">C-H</text>
<text transform="translate(1476.0 2734.5) scale(1 1.03)" font-size="56" text-anchor="start" fill="#111">C-H</text>
<text transform="translate(1220.5 2052.0) rotate(-90) scale(1 1.03)" font-size="56" text-anchor="middle" fill="#111">C=O</text>
<text transform="translate(1211.5 2709.5) rotate(-90) scale(1 1.03)" font-size="56" text-anchor="middle" fill="#111">C=O</text>
<polyline points="299.0,4285.8 299.7,4284.5 300.3,4282.2 301.0,4283.9 301.7,4282.3 302.4,4281.5 303.0,4280.5 303.7,4281.4 304.4,4279.8 305.0,4279.3 305.7,4275.8 306.4,4274.0 307.1,4271.7 307.7,4271.1 308.4,4266.4 309.1,4270.3 309.8,4266.8 310.5,4265.2 311.2,4264.6 311.8,4261.4 312.5,4260.6 313.2,4260.6 313.9,4256.9 314.6,4260.4 315.3,4257.7 315.9,4257.6 316.6,4254.8 317.3,4254.7 318.0,4257.0 318.7,4253.4 319.4,4252.9 320.0,4252.7 320.7,4249.0 321.4,4245.2 322.0,4241.5 322.7,4237.7 323.4,4234.0 324.0,4230.2 324.7,4216.2 325.4,4202.2 326.1,4188.2 326.8,4174.2 327.5,4160.2 328.2,4135.1 328.8,4110.1 329.4,4085.1 330.0,4060.1 330.8,4030.2 331.5,4000.3 332.5,3957.8 333.5,4000.3 334.2,4015.3 334.8,4030.2 335.4,4045.1 336.0,4060.1 336.8,4087.6 337.5,4115.1 338.3,4142.6 339.0,4170.2 339.7,4179.2 340.4,4188.2 341.1,4197.2 341.9,4206.2 342.6,4215.8 343.2,4219.3 343.8,4216.6 344.4,4223.9 345.1,4224.6 345.7,4223.9 346.4,4219.9 347.1,4220.1 347.7,4220.3 348.4,4216.6 349.1,4215.2 349.8,4209.2 350.5,4203.2 351.2,4197.2 351.9,4191.2 352.6,4185.2 353.3,4175.2 354.0,4165.2 354.7,4155.2 355.4,4145.1 356.1,4135.1 356.8,4123.9 357.6,4112.6 358.3,4101.4 359.1,4090.1 359.7,4084.3 360.4,4078.4 361.1,4072.6 361.7,4080.1 362.4,4087.6 363.1,4095.1 363.7,4091.8 364.4,4088.4 365.1,4085.1 365.8,4078.7 366.5,4072.2 367.2,4065.8 367.9,4059.4 368.6,4052.9 369.4,4046.5 370.1,4040.1 370.7,4035.1 371.4,4030.1 372.1,4025.1 372.7,4020.0 373.4,4015.0 374.1,4010.0 374.7,4005.0 375.4,4000.0 376.1,3995.0 376.8,3991.8 377.5,3988.6 378.2,3985.4 378.9,3982.2 379.7,3978.9 380.4,3975.7 381.1,3971.7 381.7,3971.6 382.4,3971.0 383.1,3972.3 383.8,3971.1 384.4,3969.8 385.1,3971.0 385.8,3970.3 386.4,3971.5 387.1,3978.2 387.8,3975.9 388.4,3980.5 389.1,3980.0 389.8,3985.0 390.5,3990.0 391.2,3995.0 391.9,4000.0 392.7,4005.0 393.4,4010.0 394.1,4015.0 394.8,4018.6 395.5,4022.2 396.2,4025.8 397.0,4029.3 397.7,4032.9 398.4,4036.5 399.1,4040.0 399.8,4041.2 400.5,4043.6 401.2,4043.3 402.0,4044.7 402.7,4047.0 403.4,4048.2 404.1,4051.0 404.8,4052.5 405.5,4048.3 406.2,4048.5 407.0,4050.5 407.7,4050.0 408.4,4050.7 409.1,4048.1 409.7,4051.4 410.4,4052.0 411.0,4051.5 411.6,4055.1 412.3,4063.1 413.0,4071.1 413.7,4079.1 414.4,4087.1 415.1,4095.1 415.8,4099.7 416.4,4104.3 417.1,4108.9 417.8,4113.5 418.4,4118.0 419.1,4123.2 419.7,4121.9 420.4,4125.9 421.0,4125.8 421.6,4127.4 422.4,4128.3 423.1,4125.5 423.9,4122.0 424.6,4119.8 425.4,4116.2 426.1,4116.8 426.8,4114.3 427.6,4110.7 428.3,4108.0 429.0,4108.5 429.7,4106.6 430.5,4106.3 431.2,4102.2 431.9,4100.7 432.6,4100.7 433.3,4099.1 434.0,4099.1 434.7,4098.2 435.4,4094.4 436.0,4091.4 436.7,4093.4 437.4,4091.2 438.1,4091.4 438.8,4086.4 439.4,4088.6 440.1,4087.7 440.8,4085.0 441.5,4084.4 442.1,4081.9 442.8,4080.1 443.5,4079.6 444.1,4077.6 444.8,4075.6 445.5,4072.5 446.1,4070.3 446.9,4068.5 447.6,4065.9 448.3,4062.2 449.0,4061.3 449.7,4059.6 450.5,4055.6 451.2,4052.4 451.9,4052.2 452.6,4048.1 453.4,4047.0 454.1,4048.5 454.8,4046.7 455.5,4048.9 456.3,4047.6 457.0,4048.2 457.7,4049.4 458.4,4049.2 459.1,4047.5 459.8,4043.3 460.5,4044.2 461.1,4041.9 461.8,4043.2 462.5,4042.7 463.1,4040.2 463.8,4038.7 464.5,4037.2 465.1,4035.1 465.8,4032.3 466.5,4029.5 467.2,4026.7 467.8,4023.9 468.5,4021.2 469.2,4018.4 469.8,4015.6 470.5,4012.8 471.2,4010.0 471.9,4005.6 472.6,4001.1 473.3,3996.7 474.0,3992.2 474.8,3987.8 475.5,3983.4 476.2,3978.9 476.9,3974.5 477.7,3970.0 478.4,3960.0 479.1,3950.1 479.8,3940.1 480.5,3930.1 481.2,3920.2 481.9,3910.2 482.7,3900.2 483.4,3882.4 484.1,3864.5 484.8,3846.6 485.5,3828.8 486.2,3810.9 487.0,3793.0 487.7,3775.1 488.4,3757.3 489.1,3739.4 489.8,3721.5 490.5,3703.7 491.2,3685.8 492.0,3667.9 492.7,3650.0 493.3,3617.6 493.9,3585.2 494.5,3552.8 495.2,3520.4 495.9,3489.1 496.7,3457.9 497.4,3426.6 498.2,3395.3 498.8,3363.6 499.5,3331.9 500.2,3300.2 500.9,3287.0 501.7,3273.7 502.4,3287.0 503.2,3300.2 503.8,3331.9 504.5,3363.6 505.2,3395.3 505.8,3437.0 506.5,3478.7 507.2,3520.4 507.9,3567.0 508.5,3613.7 509.2,3660.3 509.9,3706.9 510.5,3753.5 511.2,3800.2 511.9,3825.2 512.5,3850.2 513.2,3875.2 513.9,3900.2 514.5,3925.3 515.2,3950.3 515.9,3964.6 516.6,3978.9 517.3,3993.2 518.0,4007.5 518.8,4021.8 519.5,4036.1 520.2,4050.4 520.9,4056.1 521.6,4061.8 522.3,4067.5 523.1,4073.2 523.8,4079.0 524.5,4084.7 525.2,4091.3 525.9,4092.2 526.6,4096.2 527.3,4096.9 528.1,4098.1 528.8,4101.9 529.5,4106.2 530.2,4106.2 530.9,4103.3 531.6,4106.3 532.3,4104.2 533.1,4103.7 533.8,4101.6 534.5,4101.9 535.2,4102.5 535.9,4099.0 536.5,4100.2 537.2,4099.1 537.9,4097.0 538.5,4097.8 539.2,4097.7 539.9,4097.1 540.6,4100.9 541.4,4099.2 542.1,4103.3 542.8,4103.8 543.5,4104.6 544.2,4104.4 544.9,4105.0 545.6,4103.7 546.4,4107.1 547.1,4107.6 547.8,4109.0 548.5,4110.2 549.2,4109.7 549.9,4108.1 550.6,4108.9 551.4,4106.6 552.1,4105.7 552.8,4103.3 553.5,4105.2 554.2,4102.9 554.9,4099.7 555.7,4096.5 556.4,4093.3 557.1,4090.0 557.8,4086.8 558.5,4083.6 559.2,4080.4 559.9,4074.7 560.7,4069.0 561.4,4063.2 562.1,4057.5 562.8,4051.8 563.5,4046.1 564.2,4040.4 564.9,4028.9 565.7,4017.5 566.4,4006.0 567.1,3994.6 567.8,3983.2 568.5,3971.7 569.2,3960.3 569.9,3945.3 570.6,3930.3 571.2,3915.3 571.9,3900.2 572.6,3885.2 573.2,3870.2 573.9,3855.2 574.6,3840.2 575.2,3825.2 576.0,3807.3 576.7,3789.4 577.4,3771.6 578.1,3753.7 578.8,3735.8 579.5,3718.0 580.2,3700.1 581.0,3678.0 581.7,3655.9 582.4,3633.8 583.1,3611.7 583.8,3589.6 584.5,3567.5 585.2,3545.4 586.0,3514.1 586.7,3482.9 587.5,3451.6 588.2,3420.3 589.0,3395.9 589.8,3371.5 590.5,3347.1 591.3,3322.7 592.0,3347.1 592.8,3371.5 593.5,3395.9 594.3,3420.3 595.0,3451.6 595.8,3482.9 596.5,3514.1 597.3,3545.4 597.9,3577.3 598.6,3609.1 599.3,3641.0 600.0,3672.8 600.7,3704.6 601.4,3736.5 602.1,3768.3 602.8,3800.2 603.5,3821.6 604.2,3843.1 604.9,3864.5 605.6,3885.9 606.3,3907.4 607.1,3928.8 607.8,3950.3 608.5,3964.6 609.2,3978.9 609.9,3993.2 610.6,4007.5 611.3,4021.8 612.1,4036.1 612.8,4050.4 613.5,4057.5 614.2,4064.7 614.9,4071.8 615.6,4079.0 616.3,4086.1 617.1,4093.3 617.8,4100.4 618.5,4103.3 619.2,4106.1 619.9,4109.0 620.6,4111.8 621.3,4114.7 622.1,4117.6 622.8,4119.6 623.5,4123.7 624.2,4120.8 624.9,4122.0 625.6,4123.4 626.4,4123.1 627.1,4122.9 627.8,4125.4 628.5,4130.4 629.2,4135.4 629.9,4140.4 630.6,4145.4 631.3,4149.0 632.0,4152.2 632.7,4155.7 633.5,4160.1 634.2,4162.5 634.9,4164.8 635.6,4168.2 636.3,4167.2 637.1,4171.9 637.8,4174.8 638.5,4176.3 639.2,4180.4 639.9,4181.1 640.6,4182.7 641.4,4187.4 642.1,4187.5 642.8,4190.2 643.5,4189.3 644.2,4193.1 644.9,4192.7 645.7,4195.2 646.4,4196.9 647.1,4195.7 647.8,4195.5 648.5,4199.9 649.2,4204.4 649.9,4208.8 650.6,4213.3 651.3,4217.3 652.0,4219.5 652.7,4225.4 653.5,4225.8 654.2,4229.7 654.9,4232.0 655.6,4230.1 656.4,4237.4 657.1,4240.2 657.8,4243.0 658.5,4244.2 659.2,4246.2 659.9,4246.3 660.5,4249.9 661.2,4250.1 661.9,4252.5 662.6,4256.0 663.3,4255.8 663.9,4255.8 664.6,4259.2 665.3,4258.4 666.0,4261.4 666.7,4263.9 667.5,4261.6 668.2,4263.7 668.9,4263.6 669.6,4265.9 670.3,4267.0 671.0,4267.7 671.7,4268.0 672.5,4266.8 673.2,4269.0 673.9,4270.4 674.6,4272.9 675.3,4270.2 676.0,4274.5 676.7,4272.5 677.5,4271.7 678.2,4276.1 678.9,4275.0 679.6,4273.7 680.3,4275.6 681.0,4276.4 681.8,4274.2 682.5,4278.0 683.2,4275.6 683.9,4278.1 684.6,4276.7 685.3,4275.8 686.0,4277.0 686.7,4277.1 687.4,4277.9 688.1,4275.7 688.7,4276.5 689.4,4278.2 690.1,4277.3 690.8,4277.1 691.5,4278.3 692.2,4276.1 692.8,4280.3 693.5,4276.3 694.2,4277.1 694.9,4275.8 695.6,4276.7 696.2,4274.3 696.9,4273.2 697.6,4274.0 698.3,4273.8 699.0,4272.3 699.7,4274.4 700.3,4272.2 701.0,4273.6 701.7,4274.0 702.3,4274.2 703.0,4273.3 703.7,4276.1 704.3,4274.1 705.0,4275.3 705.7,4277.5 706.3,4277.5 707.1,4275.0 707.8,4276.1 708.5,4275.4 709.2,4278.1 709.9,4276.3 710.7,4276.9 711.4,4276.1 712.1,4276.4 712.8,4278.0 713.5,4276.0 714.3,4277.4 715.0,4276.8 715.7,4277.0 716.4,4276.0 717.1,4279.1 717.9,4275.7 718.6,4277.3 719.3,4279.4 720.0,4281.1 720.7,4281.1 721.4,4281.1 722.1,4283.6 722.9,4284.0 723.5,4285.0 724.2,4288.4 724.9,4284.3 725.6,4287.4 726.3,4288.5 727.0,4288.0 727.6,4288.6 728.3,4291.0 729.0,4289.9 729.7,4288.6 730.4,4290.8 731.1,4291.9 731.8,4291.2 732.5,4291.1 733.2,4292.2 733.9,4291.6 734.7,4292.6 735.4,4293.4 736.1,4292.0 736.8,4291.0 737.5,4294.8 738.2,4293.8 738.9,4292.6 739.7,4292.0 740.4,4293.9 741.1,4294.4 741.8,4294.9 742.5,4295.0 743.2,4294.1 743.9,4294.4 744.7,4293.2 745.4,4294.3 746.1,4294.8 746.8,4296.8 747.4,4293.9 748.1,4297.9 748.8,4296.8 749.5,4295.1 750.2,4295.1 750.9,4296.2 751.6,4296.5 752.3,4297.0 753.0,4294.1 753.7,4295.9 754.3,4297.0 755.0,4297.6 755.7,4297.1 756.4,4296.5 757.1,4297.1 757.8,4296.2 758.5,4299.0 759.2,4298.1 759.9,4297.6 760.6,4296.5 761.3,4297.2 761.9,4297.8 762.6,4297.5 763.3,4299.5 764.0,4300.2 764.7,4298.9 765.4,4296.3 766.1,4298.6 766.8,4297.1 767.5,4297.7 768.2,4300.1 768.8,4295.5 769.5,4295.9 770.2,4296.7 770.9,4298.5 771.6,4297.0 772.3,4295.0 773.0,4297.9 773.7,4298.2 774.4,4298.9 775.1,4297.4 775.7,4298.6 776.4,4296.5 777.1,4298.3 777.8,4298.6 778.5,4296.8 779.2,4296.6 779.9,4298.6 780.6,4296.1 781.3,4295.9 782.0,4297.0 782.6,4297.6 783.3,4298.0 784.0,4296.3 784.7,4297.5 785.4,4295.7 786.1,4295.5 786.8,4300.1 787.6,4296.4 788.3,4295.6 789.0,4298.0 789.7,4296.9 790.4,4298.8 791.1,4295.0 791.8,4296.9 792.6,4299.7 793.3,4299.0 794.0,4297.7 794.7,4300.8 795.4,4300.4 796.1,4298.9 796.8,4300.9 797.6,4300.4 798.3,4298.2 799.0,4299.0 799.7,4300.3 800.4,4299.0 801.1,4298.5 801.9,4300.0 802.6,4301.7 803.3,4301.1 804.0,4299.8 804.7,4298.2 805.4,4302.4 806.1,4301.3 806.9,4302.7 807.6,4301.8 808.3,4301.4 809.0,4302.5 809.7,4301.5 810.4,4301.9 811.1,4301.6 811.9,4300.2 812.6,4304.3 813.3,4304.5 814.0,4302.7 814.7,4303.0 815.4,4306.5 816.1,4304.4 816.8,4303.2 817.5,4302.2 818.2,4305.9 818.9,4305.4 819.6,4302.8 820.3,4304.7 821.0,4302.7 821.6,4303.5 822.3,4305.2 823.0,4303.6 823.7,4303.1 824.4,4302.1 825.1,4304.7 825.8,4303.7 826.5,4302.5 827.2,4306.6 827.9,4303.2 828.5,4303.4 829.2,4304.6 829.9,4303.7 830.6,4304.1 831.3,4304.6 832.0,4303.5 832.7,4303.0 833.4,4303.8 834.1,4305.5 834.8,4304.2 835.4,4306.2 836.1,4304.5 836.8,4303.3 837.5,4304.9 838.2,4304.5 838.9,4304.2 839.6,4304.7 840.3,4306.2 841.0,4306.2 841.7,4305.7 842.4,4305.6 843.1,4306.3 843.8,4306.5 844.5,4306.2 845.2,4305.0 845.9,4307.4 846.6,4307.5 847.3,4307.8 848.0,4306.3 848.7,4294.8 849.5,4283.3 850.2,4271.8 851.0,4260.2 851.7,4237.1 852.5,4214.0 853.2,4190.8 854.0,4167.7 854.7,4190.8 855.5,4214.0 856.2,4237.1 857.0,4260.2 857.6,4273.4 858.2,4286.5 858.8,4299.6 859.5,4309.1 860.2,4313.6 860.9,4313.3 861.6,4309.8 862.3,4314.8 863.0,4311.0 863.7,4312.9 864.4,4313.9 865.1,4315.1 865.8,4313.6 866.6,4313.2 867.3,4311.9 868.0,4314.0 868.7,4315.1 869.4,4312.7 870.1,4316.3 870.8,4311.0 871.5,4313.8 872.1,4314.1 872.8,4314.7 873.5,4315.1 874.2,4316.2 874.9,4314.1 875.6,4313.0 876.3,4313.5 877.0,4314.6 877.7,4313.9 878.4,4314.7 879.1,4314.9 879.8,4315.2 880.5,4316.4 881.2,4315.8 881.9,4313.7 882.5,4314.5 883.2,4314.8 883.9,4314.9 884.6,4316.7 885.3,4316.9 885.9,4316.2 886.6,4317.8 887.3,4314.8 888.0,4316.1 888.7,4317.6 889.4,4316.2 890.0,4315.5 890.7,4315.4 891.4,4317.8 892.1,4317.7 892.8,4319.3 893.5,4319.4 894.2,4317.4 894.9,4316.7 895.6,4316.3 896.3,4317.0 897.0,4320.0 897.7,4317.6 898.4,4317.2 899.1,4317.9 899.8,4318.7 900.5,4317.5 901.2,4317.6 901.9,4317.9 902.6,4320.5 903.2,4318.9 903.9,4319.7 904.6,4319.9 905.3,4316.9 906.0,4320.0 906.7,4318.2 907.4,4319.3 908.1,4317.6 908.8,4321.0 909.5,4320.4 910.2,4319.1 910.9,4322.0 911.6,4319.5 912.3,4322.5 913.0,4320.7 913.7,4323.9 914.4,4319.7 915.1,4321.9 915.8,4319.9 916.5,4319.9 917.1,4320.9 917.8,4321.4 918.5,4320.4 919.2,4322.5 919.9,4324.1 920.6,4323.2 921.3,4321.3 922.0,4324.9 922.7,4320.5 923.4,4324.8 924.1,4322.5 924.8,4321.7 925.5,4323.0 926.2,4323.0 926.9,4324.6 927.6,4324.1 928.3,4323.0 929.0,4324.7 929.7,4323.2 930.4,4322.4 931.0,4322.3 931.7,4322.7 932.4,4324.4 933.1,4323.7 933.8,4325.2 934.5,4322.7 935.2,4324.6 935.9,4325.1 936.6,4324.9 937.3,4325.3 938.0,4321.4 938.7,4323.4 939.4,4324.2 940.1,4325.4 940.8,4326.8 941.5,4328.1 942.2,4324.4 942.9,4324.9 943.6,4326.2 944.3,4324.5 944.9,4326.5 945.6,4324.9 946.3,4325.0 947.0,4325.8 947.7,4327.2 948.4,4325.2 949.1,4324.0 949.8,4326.6 950.5,4325.5 951.2,4323.8 951.9,4322.9 952.6,4324.7 953.3,4324.1 954.0,4323.8 954.7,4325.0 955.4,4325.6 956.1,4326.3 956.8,4324.9 957.5,4323.3 958.2,4323.0 958.8,4322.7 959.5,4325.2 960.2,4322.3 960.9,4323.6 961.6,4322.7 962.3,4323.8 963.0,4323.7 963.7,4323.9 964.4,4326.3 965.1,4325.3 965.8,4323.5 966.5,4322.4 967.1,4324.1 967.8,4322.8 968.5,4322.8 969.2,4321.2 969.9,4322.9 970.6,4322.5 971.2,4322.6 971.9,4321.7 972.6,4321.5 973.3,4320.4 974.0,4323.5 974.7,4323.1 975.3,4325.2 976.0,4323.2 976.7,4323.6 977.4,4325.8 978.1,4324.3 978.7,4326.0 979.4,4325.7 980.1,4326.1 980.8,4323.5 981.5,4326.6 982.2,4326.2 982.9,4324.3 983.6,4327.4 984.3,4323.3 984.9,4325.4 985.6,4328.6 986.3,4326.8 987.0,4324.7 987.7,4326.5 988.4,4326.6 989.1,4321.4 989.8,4325.4 990.5,4325.3 991.2,4327.1 991.8,4325.2 992.5,4323.4 993.2,4324.4 993.9,4327.5 994.6,4324.8 995.3,4327.1 996.0,4325.8 996.7,4323.7 997.4,4325.5 998.1,4324.8 998.7,4325.1 999.4,4324.7 1000.1,4323.3 1000.8,4325.4 1001.5,4324.2 1002.2,4323.6 1002.9,4323.9 1003.6,4323.2 1004.3,4323.6 1005.0,4323.4 1005.7,4321.8 1006.3,4325.5 1007.0,4323.5 1007.7,4322.9 1008.4,4321.0 1009.1,4324.7 1009.8,4323.4 1010.5,4323.9 1011.2,4322.6 1011.9,4323.5 1012.6,4321.8 1013.2,4322.4 1013.9,4324.1 1014.6,4324.8 1015.3,4322.1 1016.0,4320.3 1016.7,4322.2 1017.4,4322.2 1018.1,4320.4 1018.8,4320.4 1019.5,4324.5 1020.1,4321.5 1020.8,4320.5 1021.5,4321.8 1022.2,4319.3 1022.9,4319.0 1023.6,4320.1 1024.3,4322.0 1025.0,4322.0 1025.8,4321.1 1026.5,4322.9 1027.2,4318.8 1027.9,4319.0 1028.6,4322.3 1029.3,4321.3 1030.0,4320.1 1030.7,4320.7 1031.4,4319.2 1032.1,4322.4 1032.8,4319.3 1033.5,4321.0 1034.2,4319.5 1034.9,4318.9 1035.6,4317.8 1036.3,4319.1 1037.0,4319.2 1037.7,4318.2 1038.4,4316.5 1039.1,4315.8 1039.8,4314.5 1040.5,4317.2 1041.2,4314.3 1041.9,4312.8 1042.7,4313.9 1043.4,4311.7 1044.1,4310.8 1044.8,4309.9 1045.6,4307.1 1046.3,4303.4 1047.0,4305.0 1047.7,4303.2 1048.4,4301.3 1049.2,4299.0 1049.8,4300.3 1050.5,4299.0 1051.2,4300.1 1051.8,4295.7 1052.5,4295.1 1053.2,4296.5 1053.8,4295.8 1054.5,4294.0 1055.2,4295.1 1055.9,4294.5 1056.5,4296.8 1057.2,4296.0 1057.9,4297.4 1058.6,4298.6 1059.3,4297.4 1060.0,4300.7 1060.6,4299.5 1061.3,4302.2 1062.0,4300.7 1062.7,4299.9 1063.4,4303.5 1064.0,4302.0 1064.7,4307.4 1065.4,4303.0 1066.1,4304.6 1066.8,4308.1 1067.5,4308.4 1068.1,4307.4 1068.8,4310.9 1069.5,4311.6 1070.2,4309.0 1070.9,4310.1 1071.6,4310.9 1072.3,4311.6 1073.0,4310.9 1073.8,4311.9 1074.5,4309.9 1075.2,4311.3 1075.9,4309.8 1076.6,4312.0 1077.3,4313.3 1078.0,4310.9 1078.8,4313.7 1079.5,4311.0 1080.2,4309.5 1080.9,4311.6 1081.6,4312.3 1082.3,4313.4 1083.1,4313.2 1083.8,4310.7 1084.5,4311.0 1085.2,4312.7 1085.9,4312.0 1086.6,4310.3 1087.3,4310.0 1088.1,4312.1 1088.8,4311.1 1089.5,4311.1 1090.2,4309.8 1090.9,4309.5 1091.6,4309.9 1092.3,4309.4 1093.1,4311.5 1093.8,4310.8 1094.5,4310.3 1095.2,4305.6 1095.9,4308.6 1096.6,4310.7 1097.3,4309.2 1098.0,4310.3 1098.7,4307.0 1099.3,4308.2 1100.0,4310.1 1100.7,4308.0 1101.4,4313.0 1102.1,4309.6 1102.8,4310.5 1103.5,4311.9 1104.2,4308.3 1104.9,4309.1 1105.6,4307.2 1106.2,4310.3 1106.9,4307.0 1107.6,4306.8 1108.3,4308.2 1109.0,4307.0 1109.7,4308.3 1110.4,4306.1 1111.1,4306.6 1111.8,4307.0 1112.5,4306.8 1113.2,4305.7 1113.8,4305.8 1114.5,4310.4 1115.2,4306.2 1115.9,4305.8 1116.6,4304.3 1117.3,4304.8 1118.0,4307.4 1118.7,4306.2 1119.4,4308.3 1120.1,4305.3 1120.8,4305.7 1121.5,4306.3 1122.2,4307.2 1122.9,4305.0 1123.6,4307.4 1124.3,4305.6 1125.0,4306.0 1125.6,4305.3 1126.3,4307.0 1127.0,4308.5 1127.7,4305.6 1128.4,4303.4 1129.1,4303.7 1129.8,4306.2 1130.5,4306.3 1131.2,4306.2 1131.9,4306.4 1132.6,4305.3 1133.3,4307.0 1134.0,4306.4 1134.7,4304.8 1135.4,4304.9 1136.1,4306.7 1136.8,4306.8 1137.5,4304.9 1138.2,4306.4 1138.9,4305.2 1139.5,4303.7 1140.2,4304.7 1140.9,4304.9 1141.6,4303.2 1142.3,4306.1 1143.0,4306.2 1143.7,4307.3 1144.4,4307.1 1145.1,4304.5 1145.8,4306.0 1146.5,4308.2 1147.1,4306.6 1147.8,4306.4 1148.5,4306.3 1149.2,4307.8 1149.9,4306.4 1150.6,4306.8 1151.3,4306.9 1152.0,4306.1 1152.7,4304.8 1153.4,4304.9 1154.0,4308.3 1154.7,4309.5 1155.4,4307.2 1156.1,4307.7 1156.8,4308.0 1157.5,4306.9 1158.2,4308.4 1158.9,4308.8 1159.6,4306.8 1160.3,4305.8 1160.9,4308.9 1161.6,4307.2 1162.3,4308.7 1163.0,4307.6 1163.7,4309.9 1164.4,4311.1 1165.1,4307.5 1165.8,4310.3 1166.5,4309.5 1167.2,4309.1 1167.9,4308.4 1168.5,4309.6 1169.2,4307.2 1169.9,4312.0 1170.6,4310.9 1171.3,4310.6 1172.0,4312.5 1172.7,4311.1 1173.4,4311.7 1174.1,4312.2 1174.8,4310.0 1175.4,4310.8 1176.1,4310.8 1176.8,4311.9 1177.5,4312.5 1178.2,4314.3 1178.9,4311.8 1179.6,4312.6 1180.3,4312.3 1181.0,4314.2 1181.7,4313.1 1182.4,4314.4 1183.1,4314.2 1183.8,4312.5 1184.5,4315.3 1185.2,4314.2 1185.9,4314.8 1186.6,4312.9 1187.3,4314.2 1188.0,4313.5 1188.7,4314.7 1189.4,4313.7 1190.1,4315.4 1190.8,4312.9 1191.5,4315.5 1192.2,4315.5 1192.9,4313.6 1193.6,4315.1 1194.3,4316.1 1195.0,4316.2 1195.7,4316.9 1196.4,4316.1 1197.1,4315.3 1197.8,4316.7 1198.5,4314.0 1199.2,4314.0 1200.0,4313.9 1200.7,4314.0 1201.4,4314.6 1202.1,4313.6 1202.8,4312.3 1203.6,4311.9 1204.3,4312.0 1205.0,4310.4 1205.6,4309.9 1206.3,4310.1 1207.0,4311.5 1207.6,4309.7 1208.3,4308.1 1209.0,4309.1 1209.6,4306.2 1210.3,4308.5 1211.0,4307.8 1211.6,4308.1 1212.3,4310.1 1213.0,4310.5 1213.6,4311.4 1214.3,4309.9 1215.0,4311.8 1215.6,4314.8 1216.3,4313.3 1217.0,4312.4 1217.7,4316.4 1218.4,4317.2 1219.1,4318.8 1219.8,4318.5 1220.5,4317.4 1221.2,4318.0 1221.8,4316.9 1222.5,4318.6 1223.2,4318.0 1223.9,4319.6 1224.6,4319.1 1225.3,4320.5 1226.0,4321.6 1226.7,4321.2 1227.5,4322.9 1228.2,4321.9 1228.9,4321.8 1229.6,4322.1 1230.3,4321.5 1231.0,4324.1 1231.7,4322.6 1232.5,4323.4 1233.2,4323.0 1233.9,4325.3 1234.6,4325.9 1235.3,4324.7 1236.0,4323.6 1236.7,4322.6 1237.5,4325.5 1238.2,4326.2 1238.9,4325.6 1239.6,4323.7 1240.3,4322.0 1241.0,4326.9 1241.8,4324.9 1242.5,4326.7 1243.2,4326.6 1243.9,4325.7 1244.6,4326.0 1245.3,4325.3" fill="none" stroke="#ff0000" stroke-width="3.6" stroke-linejoin="round" stroke-linecap="butt"/>
<polyline points="299.0,4066.0 299.7,4065.1 300.4,4063.4 301.1,4065.5 301.9,4061.3 302.6,4062.3 303.3,4062.6 304.0,4061.7 304.7,4061.0 305.4,4058.7 306.1,4061.1 306.8,4057.8 307.5,4057.8 308.2,4057.0 308.9,4056.1 309.6,4054.6 310.3,4055.8 310.9,4053.4 311.6,4053.5 312.3,4049.9 313.0,4051.2 313.7,4049.5 314.3,4049.2 315.0,4048.1 315.7,4046.8 316.4,4044.6 317.1,4043.2 317.8,4041.7 318.4,4040.2 319.1,4038.4 319.8,4036.4 320.5,4035.6 321.2,4032.7 321.9,4034.1 322.5,4030.3 323.2,4024.3 323.9,4018.3 324.6,4012.3 325.3,4006.3 326.0,4000.3 326.7,3981.6 327.3,3962.8 327.9,3944.0 328.5,3925.3 329.2,3891.9 329.9,3858.5 330.5,3825.2 331.2,3809.8 331.9,3794.5 332.5,3779.1 333.2,3794.5 333.9,3809.8 334.5,3825.2 335.2,3858.5 335.9,3891.9 336.5,3925.3 337.2,3936.3 337.9,3947.3 338.6,3958.3 339.3,3969.3 340.0,3980.3 340.7,3985.7 341.4,3991.1 342.1,3996.6 342.7,4002.0 343.4,4007.4 344.1,4013.7 344.8,4012.9 345.5,4009.7 346.2,4007.0 346.9,4005.3 347.6,4005.3 348.3,3999.6 349.0,3993.9 349.7,3988.2 350.4,3982.5 351.1,3976.7 351.8,3971.0 352.6,3965.3 353.2,3958.0 353.9,3950.7 354.6,3943.5 355.3,3936.2 356.0,3928.9 356.7,3921.6 357.3,3914.3 358.0,3907.1 358.7,3899.8 359.4,3892.5 360.1,3885.2 360.7,3878.4 361.4,3871.6 362.1,3864.8 362.8,3857.9 363.5,3851.1 364.2,3844.3 364.8,3837.5 365.5,3830.6 366.2,3823.8 366.9,3817.0 367.6,3810.2 368.3,3804.7 368.9,3799.3 369.6,3793.8 370.3,3788.3 371.0,3782.9 371.7,3777.4 372.3,3772.0 373.0,3766.5 373.7,3761.0 374.4,3755.6 375.1,3750.1 375.8,3746.9 376.5,3743.7 377.2,3740.5 377.9,3737.3 378.7,3734.0 379.4,3730.8 380.1,3726.8 380.7,3726.2 381.4,3725.6 382.1,3724.7 382.7,3724.9 383.4,3721.0 384.1,3724.3 384.8,3724.3 385.5,3726.8 386.2,3726.8 386.9,3730.9 387.6,3732.6 388.3,3738.7 389.0,3744.8 389.7,3750.8 390.4,3756.9 391.2,3763.0 391.9,3769.1 392.6,3775.1 393.3,3780.1 394.0,3785.1 394.7,3790.2 395.5,3795.2 396.2,3800.2 396.9,3805.2 397.6,3808.7 398.3,3813.2 399.0,3815.5 399.7,3817.9 400.4,3820.0 401.1,3822.4 401.8,3824.2 402.6,3827.4 403.3,3828.4 404.1,3830.2 404.8,3825.8 405.4,3821.5 406.1,3817.2 406.8,3812.8 407.4,3808.5 408.1,3804.2 408.9,3808.2 409.6,3812.2 410.4,3816.2 411.1,3820.2 411.9,3833.9 412.6,3847.7 413.4,3861.5 414.1,3875.2 414.8,3884.2 415.5,3893.2 416.2,3902.2 416.9,3911.3 417.6,3920.5 418.3,3925.2 418.9,3925.4 419.6,3926.8 420.3,3928.0 420.9,3930.3 421.6,3935.4 422.3,3935.1 422.9,3932.0 423.6,3930.8 424.3,3930.6 425.0,3929.9 425.6,3929.6 426.3,3927.4 427.0,3925.7 427.6,3926.0 428.3,3922.9 429.0,3921.1 429.7,3920.0 430.3,3919.5 431.0,3918.0 431.7,3917.1 432.4,3915.8 433.1,3916.8 433.8,3913.4 434.4,3909.4 435.1,3908.8 435.8,3909.6 436.5,3907.7 437.1,3910.0 437.8,3906.5 438.5,3905.7 439.1,3905.4 439.8,3904.2 440.5,3904.1 441.1,3902.5 441.8,3900.6 442.6,3897.1 443.3,3892.5 444.0,3893.2 444.7,3891.9 445.4,3886.7 446.1,3884.6 446.9,3884.9 447.6,3882.5 448.3,3882.0 449.0,3880.5 449.7,3880.3 450.5,3878.4 451.2,3879.5 451.9,3876.4 452.6,3875.0 453.4,3873.2 454.1,3874.2 454.8,3872.6 455.5,3873.7 456.3,3873.0 457.0,3874.6 457.7,3870.5 458.4,3870.9 459.1,3871.3 459.8,3866.8 460.5,3868.1 461.1,3867.9 461.8,3864.7 462.5,3863.2 463.1,3863.1 463.8,3860.8 464.5,3859.4 465.1,3858.6 465.9,3854.4 466.6,3854.7 467.3,3849.9 468.0,3847.7 468.7,3844.8 469.4,3840.1 470.2,3840.2 470.9,3834.5 471.6,3828.8 472.3,3823.0 473.0,3817.3 473.7,3811.6 474.4,3805.9 475.2,3800.2 475.9,3789.4 476.6,3778.7 477.3,3768.0 478.0,3757.3 478.7,3746.5 479.4,3735.8 480.2,3725.1 480.9,3710.8 481.6,3696.5 482.3,3682.2 483.0,3667.9 483.7,3653.6 484.5,3639.3 485.2,3625.0 485.9,3597.7 486.7,3570.4 487.4,3545.4 488.2,3520.4 488.9,3495.4 489.7,3470.4 490.4,3445.3 491.2,3420.3 491.9,3395.3 492.7,3370.3 493.4,3340.3 494.1,3310.2 494.8,3280.2 495.5,3250.2 496.2,3220.2 496.8,3195.1 497.4,3170.1 498.1,3145.1 498.7,3120.1 499.3,3103.9 500.0,3087.7 500.7,3071.5 501.3,3087.7 502.0,3103.9 502.7,3120.1 503.3,3153.4 504.0,3186.8 504.7,3220.2 505.3,3270.2 506.0,3320.2 506.7,3370.3 507.3,3395.3 507.9,3420.3 508.6,3445.3 509.2,3470.4 509.8,3501.6 510.4,3532.9 511.1,3564.2 511.7,3595.5 512.4,3626.4 513.1,3657.3 513.8,3688.3 514.5,3719.2 515.2,3750.1 515.9,3768.0 516.6,3785.9 517.3,3803.7 518.0,3821.6 518.8,3839.5 519.5,3857.4 520.2,3875.2 520.9,3884.5 521.6,3893.8 522.3,3903.1 523.1,3912.4 523.8,3921.7 524.5,3931.0 525.2,3940.3 525.9,3944.0 526.6,3947.7 527.3,3951.4 528.1,3955.1 528.8,3958.9 529.5,3962.6 530.2,3964.6 530.9,3964.7 531.6,3963.9 532.3,3963.8 533.1,3964.2 533.8,3961.0 534.5,3958.9 535.2,3957.1 535.9,3959.4 536.6,3957.6 537.4,3958.4 538.1,3960.0 538.8,3958.7 539.5,3958.9 540.2,3959.4 540.9,3958.3 541.5,3960.5 542.2,3961.5 542.9,3962.3 543.5,3962.3 544.2,3961.1 544.9,3963.2 545.5,3965.4 546.2,3964.5 546.9,3963.7 547.7,3964.5 548.4,3963.9 549.1,3962.8 549.8,3962.6 550.6,3962.1 551.3,3961.1 552.0,3960.3 552.7,3961.2 553.4,3955.5 554.2,3956.2 554.9,3951.4 555.6,3947.7 556.3,3946.4 557.0,3944.1 557.7,3940.3 558.4,3934.6 559.2,3928.8 559.9,3923.1 560.6,3917.4 561.3,3911.7 562.0,3906.0 562.7,3900.2 563.4,3889.5 564.2,3878.8 564.9,3868.1 565.6,3857.4 566.3,3846.6 567.0,3835.9 567.7,3825.2 568.4,3810.9 569.2,3796.6 569.9,3782.3 570.6,3768.0 571.3,3753.7 572.0,3739.4 572.7,3725.1 573.5,3710.8 574.2,3696.5 574.9,3682.2 575.6,3667.9 576.3,3653.6 577.0,3639.3 577.7,3625.0 578.5,3597.7 579.2,3570.4 580.0,3539.2 580.7,3507.9 581.5,3476.6 582.2,3445.3 583.0,3414.1 583.7,3382.8 584.5,3351.5 585.2,3320.2 585.9,3295.2 586.5,3270.2 587.1,3245.2 587.7,3220.2 588.4,3205.8 589.0,3191.4 589.6,3177.0 590.3,3162.6 590.9,3177.0 591.5,3191.4 592.1,3205.8 592.8,3220.2 593.4,3245.2 594.0,3270.2 594.6,3295.2 595.3,3320.2 596.0,3350.3 596.7,3380.3 597.4,3410.3 598.1,3440.3 598.8,3470.4 599.4,3501.6 600.0,3532.9 600.6,3564.2 601.3,3595.5 601.9,3621.2 602.6,3647.0 603.3,3672.8 603.9,3698.6 604.6,3724.3 605.3,3750.1 606.0,3768.0 606.7,3785.9 607.4,3803.7 608.1,3821.6 608.8,3839.5 609.6,3857.4 610.3,3875.2 611.0,3885.9 611.7,3896.7 612.4,3907.4 613.1,3918.1 613.8,3928.8 614.6,3939.6 615.3,3950.3 616.0,3953.9 616.6,3957.6 617.3,3961.2 618.0,3964.8 618.7,3968.5 619.4,3972.1 620.0,3975.8 620.7,3979.4 621.4,3983.0 622.1,3986.7 622.8,3990.3 623.5,3993.0 624.1,3995.8 624.8,3998.5 625.5,4001.2 626.2,4004.0 626.9,4006.7 627.6,4009.4 628.2,4012.2 628.9,4014.9 629.6,4017.6 630.3,4019.1 631.0,4022.4 631.6,4024.9 632.3,4026.7 633.0,4027.7 633.7,4028.4 634.4,4031.2 635.1,4035.3 635.7,4034.0 636.4,4039.9 637.1,4038.5 637.8,4040.3 638.5,4041.6 639.2,4044.1 639.9,4046.0 640.6,4046.5 641.4,4051.4 642.1,4052.3 642.8,4053.3 643.5,4051.1 644.1,4051.7 644.8,4051.5 645.5,4052.0 646.1,4050.7 646.8,4050.4 647.4,4056.6 648.0,4062.9 648.7,4069.1 649.3,4075.4 650.0,4079.3 650.6,4083.2 651.3,4087.1 652.0,4091.0 652.6,4094.8 653.3,4098.7 654.0,4102.6 654.6,4106.5 655.3,4109.3 656.0,4113.0 656.7,4115.7 657.4,4118.6 658.0,4122.2 658.7,4123.3 659.4,4125.2 660.1,4130.8 660.8,4133.3 661.4,4133.8 662.1,4138.5 662.8,4139.9 663.5,4143.0 664.2,4144.6 664.9,4144.5 665.5,4146.7 666.2,4149.4 666.9,4150.0 667.6,4152.0 668.3,4154.1 669.0,4156.7 669.6,4158.6 670.3,4159.7 671.0,4161.6 671.7,4164.4 672.4,4165.2 673.0,4166.4 673.7,4166.6 674.4,4168.0 675.1,4168.8 675.8,4170.5 676.5,4170.9 677.1,4174.0 677.8,4175.1 678.5,4175.6 679.2,4176.5 679.9,4176.6 680.6,4179.5 681.2,4180.2 681.9,4181.6 682.6,4181.6 683.3,4181.9 684.0,4183.8 684.6,4182.4 685.3,4183.1 686.0,4185.6 686.8,4185.3 687.5,4185.2 688.2,4186.4 688.9,4185.2 689.6,4185.6 690.3,4185.9 691.0,4184.4 691.8,4186.2 692.5,4186.5 693.2,4186.0 693.9,4185.5 694.6,4185.5 695.3,4184.2 696.0,4185.1 696.7,4186.8 697.3,4186.1 698.0,4184.2 698.7,4182.9 699.3,4184.3 700.0,4183.7 700.7,4182.6 701.3,4180.7 702.1,4183.2 702.8,4184.2 703.5,4183.7 704.2,4184.2 705.0,4185.5 705.7,4187.1 706.4,4188.1 707.1,4189.1 707.8,4189.5 708.6,4189.4 709.3,4190.7 710.0,4191.8 710.7,4191.4 711.4,4192.3 712.1,4192.0 712.9,4191.8 713.6,4192.5 714.3,4193.2 715.0,4192.2 715.7,4194.0 716.4,4194.0 717.1,4195.3 717.9,4196.3 718.5,4196.8 719.2,4197.4 719.9,4199.1 720.6,4199.0 721.3,4201.7 721.9,4203.7 722.6,4204.0 723.3,4206.1 724.0,4205.3 724.7,4205.1 725.4,4208.6 726.0,4211.0 726.7,4208.5 727.4,4211.7 728.1,4210.2 728.8,4213.0 729.5,4211.5 730.1,4212.5 730.8,4213.9 731.5,4212.6 732.2,4214.9 732.9,4215.4 733.6,4216.8 734.3,4216.6 735.0,4216.8 735.6,4217.0 736.3,4219.4 737.0,4218.4 737.7,4218.5 738.4,4216.6 739.1,4220.7 739.8,4219.6 740.5,4220.2 741.2,4221.2 741.9,4221.0 742.6,4222.6 743.3,4221.6 744.0,4222.5 744.7,4222.6 745.4,4223.4 746.1,4223.4 746.8,4223.8 747.5,4224.0 748.2,4224.2 749.0,4224.9 749.7,4223.9 750.4,4224.2 751.1,4225.2 751.8,4225.7 752.5,4227.1 753.2,4224.7 754.0,4227.9 754.7,4226.2 755.4,4226.2 756.1,4227.7 756.8,4228.0 757.5,4229.0 758.2,4226.2 759.0,4229.8 759.7,4229.4 760.4,4230.7 761.1,4229.2 761.8,4228.0 762.5,4229.4 763.1,4229.5 763.8,4230.6 764.5,4230.9 765.2,4228.0 765.9,4228.6 766.6,4230.5 767.3,4229.7 768.0,4231.6 768.7,4232.0 769.4,4233.0 770.1,4231.1 770.7,4232.2 771.4,4231.9 772.1,4231.5 772.8,4231.0 773.5,4232.6 774.2,4232.5 774.9,4231.7 775.6,4231.7 776.3,4230.3 777.0,4232.5 777.6,4232.4 778.3,4231.4 779.0,4233.9 779.7,4232.7 780.4,4231.7 781.1,4232.7 781.8,4232.0 782.5,4232.6 783.2,4232.2 783.9,4233.8 784.6,4232.3 785.3,4233.4 786.0,4234.3 786.7,4234.3 787.4,4234.8 788.0,4234.1 788.7,4234.4 789.4,4235.6 790.1,4235.1 790.8,4236.6 791.5,4235.4 792.2,4236.2 792.9,4235.9 793.6,4237.2 794.3,4235.1 795.0,4236.8 795.6,4237.0 796.3,4236.3 797.0,4237.0 797.7,4234.7 798.4,4233.8 799.1,4234.8 799.7,4234.9 800.4,4235.7 801.1,4235.3 801.9,4236.0 802.6,4236.9 803.3,4239.5 804.0,4237.8 804.7,4239.0 805.4,4240.1 806.1,4242.0 806.9,4239.8 807.6,4239.9 808.3,4242.2 809.0,4242.1 809.7,4243.0 810.4,4242.3 811.1,4246.1 811.9,4243.2 812.6,4245.3 813.3,4245.7 814.0,4246.2 814.7,4247.1 815.4,4245.3 816.1,4244.7 816.9,4246.5 817.6,4247.3 818.3,4246.5 819.0,4246.6 819.7,4248.2 820.4,4246.2 821.2,4249.4 821.9,4246.2 822.6,4247.0 823.3,4248.0 824.0,4247.5 824.7,4249.3 825.4,4248.1 826.2,4248.3 826.9,4248.6 827.6,4250.1 828.3,4249.0 829.0,4248.9 829.7,4250.3 830.4,4248.4 831.2,4248.0 831.9,4249.4 832.6,4249.9 833.3,4248.6 834.0,4249.4 834.7,4250.1 835.4,4249.6 836.2,4250.1 836.9,4249.8 837.6,4251.4 838.3,4248.6 839.0,4251.8 839.7,4248.3 840.5,4250.6 841.1,4250.9 841.8,4252.7 842.5,4251.3 843.2,4248.1 843.9,4250.2 844.5,4248.6 845.2,4250.7 845.9,4251.1 846.6,4250.5 847.3,4249.0 848.0,4249.2 848.7,4227.0 849.5,4204.7 850.2,4182.4 851.0,4160.2 851.7,4138.6 852.4,4117.1 853.1,4095.6 853.8,4074.1 854.5,4052.6 855.2,4079.5 856.0,4106.4 856.7,4133.3 857.5,4160.2 858.2,4183.9 859.0,4207.7 859.7,4231.5 860.5,4255.4 861.2,4253.9 861.9,4255.6 862.6,4253.2 863.2,4255.1 863.9,4255.1 864.6,4254.4 865.3,4256.1 866.0,4255.9 866.7,4257.3 867.4,4255.6 868.1,4256.2 868.8,4254.9 869.5,4257.2 870.2,4255.4 870.9,4255.4 871.6,4254.8 872.3,4256.9 873.0,4256.5 873.7,4256.1 874.4,4257.0 875.1,4257.9 875.8,4257.3 876.5,4258.0 877.1,4257.4 877.8,4258.3 878.5,4259.0 879.2,4258.5 879.9,4257.2 880.6,4259.2 881.3,4261.1 882.0,4258.1 882.7,4258.6 883.4,4259.7 884.1,4259.0 884.8,4259.3 885.5,4258.3 886.1,4259.1 886.8,4260.7 887.4,4257.7 888.1,4261.5 888.7,4259.4 889.4,4262.7 890.0,4261.2 890.7,4261.3 891.4,4259.9 892.1,4262.7 892.8,4261.3 893.5,4260.6 894.2,4262.6 894.9,4262.5 895.6,4263.6 896.3,4261.1 897.0,4261.9 897.7,4261.5 898.4,4260.8 899.1,4261.7 899.8,4261.9 900.5,4262.3 901.2,4262.6 901.9,4262.5 902.6,4262.9 903.2,4262.5 903.9,4262.7 904.6,4263.2 905.3,4264.8 906.0,4263.0 906.7,4262.6 907.4,4265.8 908.1,4263.9 908.8,4263.2 909.5,4263.7 910.2,4261.8 910.9,4263.5 911.6,4263.1 912.3,4263.5 913.0,4263.0 913.7,4264.0 914.4,4265.8 915.1,4263.6 915.8,4264.6 916.5,4265.6 917.1,4264.5 917.8,4263.6 918.5,4265.1 919.2,4265.3 919.9,4263.6 920.6,4263.4 921.3,4262.9 922.0,4263.9 922.7,4264.1 923.4,4263.8 924.1,4263.9 924.8,4264.7 925.5,4264.6 926.2,4266.4 926.9,4262.9 927.6,4262.9 928.3,4263.7 929.0,4264.6 929.7,4265.7 930.4,4265.1 931.0,4265.3 931.7,4263.0 932.4,4264.6 933.1,4265.9 933.8,4264.9 934.5,4263.7 935.2,4261.4 935.9,4264.3 936.6,4264.7 937.3,4265.6 938.0,4264.5 938.7,4263.0 939.4,4265.3 940.1,4263.7 940.8,4264.7 941.5,4265.1 942.2,4263.8 942.9,4265.3 943.6,4262.9 944.3,4265.6 944.9,4263.0 945.6,4263.0 946.3,4263.9 947.0,4264.0 947.7,4264.5 948.4,4264.7 949.1,4264.0 949.8,4263.3 950.5,4265.2 951.2,4262.4 951.9,4265.1 952.6,4263.1 953.3,4264.3 954.0,4264.7 954.7,4262.5 955.4,4264.3 956.1,4264.5 956.8,4264.0 957.5,4265.2 958.2,4264.6 958.8,4263.6 959.5,4263.7 960.2,4263.6 960.9,4262.7 961.6,4265.4 962.3,4262.2 963.0,4265.4 963.7,4266.4 964.4,4265.5 965.1,4264.8 965.8,4263.9 966.4,4262.9 967.1,4262.8 967.8,4264.0 968.4,4261.6 969.1,4261.8 969.8,4262.4 970.4,4261.1 971.1,4260.6 971.8,4260.5 972.4,4259.8 973.1,4261.0 973.8,4260.4 974.4,4259.8 975.1,4259.1 975.8,4260.8 976.5,4260.8 977.2,4260.4 977.8,4262.8 978.5,4260.9 979.2,4264.6 979.9,4264.4 980.6,4265.2 981.3,4265.7 981.9,4268.4 982.6,4268.1 983.3,4267.2 984.0,4267.8 984.7,4267.5 985.4,4269.5 986.1,4267.7 986.8,4267.8 987.5,4268.3 988.2,4268.1 988.9,4267.2 989.6,4269.1 990.3,4268.4 991.0,4269.1 991.7,4266.4 992.4,4268.3 993.1,4268.9 993.8,4269.1 994.5,4267.9 995.2,4271.3 995.9,4270.2 996.6,4269.3 997.3,4267.6 998.0,4267.1 998.7,4270.2 999.4,4270.4 1000.1,4267.3 1000.8,4270.2 1001.5,4270.5 1002.2,4268.6 1002.9,4268.8 1003.6,4268.8 1004.3,4268.3 1005.0,4271.2 1005.7,4268.6 1006.3,4268.5 1007.0,4269.7 1007.7,4270.8 1008.4,4269.4 1009.1,4267.6 1009.8,4269.3 1010.5,4268.4 1011.2,4267.0 1011.9,4269.1 1012.6,4268.8 1013.2,4267.9 1013.9,4267.4 1014.6,4270.2 1015.3,4268.6 1016.0,4268.3 1016.7,4268.4 1017.4,4269.5 1018.1,4268.1 1018.8,4269.7 1019.5,4268.9 1020.1,4268.8 1020.8,4268.7 1021.5,4267.7 1022.2,4269.9 1022.9,4268.9 1023.6,4268.3 1024.3,4268.2 1025.0,4269.5 1025.8,4270.9 1026.5,4269.3 1027.2,4267.8 1027.9,4268.3 1028.6,4267.7 1029.3,4268.2 1030.0,4268.6 1030.7,4268.5 1031.4,4269.6 1032.1,4268.8 1032.8,4269.4 1033.5,4269.4 1034.2,4268.3 1034.9,4269.8 1035.6,4269.3 1036.3,4269.7 1037.0,4268.0 1037.7,4269.4 1038.4,4268.3 1039.1,4265.7 1039.8,4266.2 1040.5,4263.7 1041.2,4262.5 1041.9,4261.8 1042.7,4258.4 1043.4,4256.1 1044.1,4256.5 1044.8,4255.6 1045.6,4254.8 1046.3,4253.1 1047.0,4252.9 1047.7,4249.8 1048.4,4247.3 1049.2,4246.1 1049.9,4244.7 1050.6,4245.3 1051.3,4243.6 1052.0,4242.8 1052.7,4242.3 1053.4,4241.0 1054.1,4240.9 1054.8,4240.9 1055.5,4240.4 1056.2,4239.7 1056.9,4241.7 1057.6,4240.8 1058.3,4242.6 1059.1,4242.7 1059.8,4244.4 1060.5,4245.6 1061.2,4245.0 1062.0,4245.8 1062.7,4247.9 1063.4,4247.9 1064.0,4250.0 1064.7,4250.9 1065.4,4252.3 1066.1,4252.7 1066.8,4254.5 1067.5,4255.3 1068.1,4257.1 1068.8,4258.8 1069.5,4259.6 1070.2,4260.2 1070.9,4260.9 1071.6,4262.2 1072.2,4262.0 1072.9,4262.7 1073.6,4264.4 1074.3,4266.2 1075.0,4264.4 1075.6,4267.3 1076.3,4266.0 1077.0,4267.1 1077.7,4267.3 1078.4,4267.4 1079.1,4270.0 1079.8,4267.4 1080.5,4268.2 1081.2,4267.1 1081.9,4268.8 1082.6,4267.5 1083.3,4266.9 1083.9,4267.5 1084.6,4268.3 1085.3,4267.1 1086.0,4267.7 1086.7,4266.1 1087.4,4270.9 1088.1,4268.2 1088.8,4268.8 1089.5,4267.8 1090.2,4269.6 1090.9,4267.7 1091.6,4270.0 1092.3,4268.2 1093.0,4267.4 1093.7,4268.0 1094.3,4266.5 1095.0,4268.7 1095.7,4271.4 1096.4,4270.5 1097.1,4268.0 1097.8,4267.9 1098.5,4265.9 1099.2,4269.5 1099.9,4267.6 1100.6,4267.6 1101.2,4268.1 1101.9,4268.2 1102.6,4266.4 1103.3,4268.6 1104.0,4266.7 1104.7,4268.0 1105.4,4265.9 1106.1,4268.2 1106.8,4266.3 1107.5,4266.0 1108.1,4267.1 1108.8,4265.7 1109.5,4266.1 1110.2,4268.6 1110.9,4266.1 1111.6,4267.5 1112.3,4265.1 1113.0,4266.9 1113.7,4264.8 1114.4,4266.3 1115.1,4265.7 1115.7,4266.0 1116.4,4266.7 1117.1,4265.8 1117.8,4265.7 1118.5,4264.5 1119.2,4263.9 1119.9,4266.8 1120.6,4264.6 1121.3,4265.8 1122.0,4264.6 1122.6,4265.0 1123.3,4266.1 1124.0,4265.3 1124.7,4264.8 1125.4,4264.1 1126.1,4265.8 1126.8,4265.4 1127.5,4263.8 1128.2,4263.9 1128.9,4264.0 1129.5,4265.8 1130.2,4263.5 1130.9,4264.2 1131.6,4264.6 1132.3,4264.6 1133.0,4263.7 1133.7,4265.0 1134.4,4264.3 1135.1,4266.1 1135.8,4264.3 1136.4,4264.3 1137.1,4265.4 1137.8,4265.3 1138.5,4266.6 1139.2,4265.2 1139.9,4267.0 1140.6,4266.5 1141.3,4266.5 1142.0,4266.5 1142.7,4265.9 1143.3,4268.8 1144.0,4266.7 1144.7,4266.9 1145.4,4268.6 1146.1,4266.0 1146.8,4269.5 1147.5,4267.8 1148.2,4267.9 1148.9,4267.2 1149.6,4267.1 1150.3,4267.1 1151.0,4268.8 1151.7,4268.8 1152.4,4267.1 1153.1,4267.9 1153.8,4269.1 1154.5,4271.7 1155.3,4270.7 1156.0,4269.4 1156.7,4270.3 1157.4,4269.7 1158.1,4270.6 1158.8,4270.1 1159.5,4271.3 1160.3,4270.2 1161.0,4270.5 1161.7,4273.9 1162.4,4271.2 1163.1,4271.5 1163.8,4273.5 1164.5,4274.5 1165.3,4275.0 1166.0,4273.7 1166.6,4272.4 1167.3,4273.5 1168.0,4273.1 1168.7,4274.3 1169.4,4274.3 1170.1,4274.1 1170.8,4275.9 1171.5,4275.1 1172.2,4276.1 1172.9,4275.4 1173.5,4275.2 1174.2,4275.8 1174.9,4277.2 1175.6,4279.0 1176.3,4277.3 1177.0,4277.0 1177.7,4277.2 1178.4,4278.4 1179.1,4278.1 1179.8,4278.7 1180.4,4279.0 1181.1,4278.7 1181.8,4277.0 1182.5,4279.2 1183.2,4279.3 1183.9,4279.4 1184.6,4278.5 1185.3,4279.7 1186.0,4279.9 1186.7,4279.8 1187.4,4279.9 1188.1,4278.4 1188.8,4280.0 1189.5,4280.2 1190.2,4278.4 1190.9,4281.0 1191.6,4279.9 1192.3,4280.4 1193.0,4281.2 1193.7,4280.0 1194.4,4279.5 1195.1,4281.3 1195.8,4281.2 1196.5,4280.3 1197.2,4280.0 1197.9,4279.4 1198.6,4279.9 1199.3,4279.2 1200.0,4280.5 1200.7,4278.9 1201.4,4276.8 1202.2,4277.1 1202.9,4276.6 1203.6,4275.7 1204.3,4274.1 1205.0,4272.8 1205.8,4273.0 1206.5,4273.0 1207.3,4271.3 1208.0,4272.1 1208.8,4268.4 1209.5,4272.9 1210.2,4273.6 1211.0,4275.0 1211.7,4273.1 1212.4,4275.9 1213.1,4274.5 1213.9,4275.5 1214.6,4276.9 1215.3,4277.3 1216.0,4278.2 1216.7,4277.8 1217.4,4278.8 1218.2,4281.9 1218.9,4279.2 1219.6,4280.1 1220.3,4281.9 1221.0,4282.7 1221.7,4281.8 1222.5,4282.6 1223.2,4283.3 1223.9,4284.9 1224.6,4283.5 1225.3,4285.2 1226.0,4285.5 1226.7,4284.3 1227.5,4287.2 1228.2,4287.3 1228.9,4283.9 1229.6,4286.6 1230.3,4288.1 1231.0,4287.8 1231.7,4289.1 1232.5,4287.5 1233.2,4288.2 1233.9,4287.6 1234.6,4288.5 1235.3,4289.5 1236.0,4287.3 1236.7,4290.0 1237.5,4289.2 1238.2,4287.9 1238.9,4288.6 1239.6,4289.8 1240.3,4289.4 1241.0,4291.5 1241.8,4290.6 1242.5,4289.4 1243.2,4289.4 1243.9,4288.8 1244.6,4290.4 1245.3,4289.3" fill="none" stroke="#0000ff" stroke-width="3.6" stroke-linejoin="round" stroke-linecap="butt"/>
<polyline points="1284.8,4344.4 1285.5,4345.3 1286.2,4346.6 1286.9,4345.1 1287.6,4344.3 1288.3,4343.6 1289.0,4346.7 1289.7,4345.4 1290.4,4344.7 1291.2,4344.2 1291.9,4342.1 1292.6,4345.6 1293.3,4344.1 1294.0,4345.3 1294.7,4347.4 1295.4,4344.8 1296.1,4345.0 1296.8,4346.5 1297.5,4344.9 1298.2,4345.3 1298.9,4343.4 1299.6,4343.7 1300.3,4342.7 1301.0,4346.3 1301.7,4346.6 1302.4,4344.2 1303.1,4344.6 1303.8,4344.2 1304.6,4348.5 1305.3,4346.1 1306.0,4344.5 1306.7,4345.6 1307.4,4346.5 1308.1,4343.2 1308.8,4345.4 1309.5,4345.3 1310.2,4344.5 1310.9,4345.5 1311.6,4346.0 1312.3,4344.3 1313.0,4343.8 1313.7,4345.5 1314.4,4344.4 1315.1,4344.7 1315.8,4346.8 1316.5,4344.6 1317.2,4343.9 1317.9,4342.1 1318.7,4344.4 1319.4,4344.4 1320.1,4344.7 1320.8,4344.6 1321.5,4344.8 1322.2,4344.1 1322.9,4344.0 1323.6,4344.5 1324.3,4342.8 1325.0,4342.3 1325.7,4342.3 1326.4,4343.8 1327.1,4341.1 1327.8,4342.9 1328.5,4343.3 1329.2,4343.9 1329.9,4342.1 1330.6,4343.5 1331.3,4343.5 1332.0,4342.7 1332.7,4343.5 1333.4,4343.1 1334.1,4341.8 1334.8,4342.8 1335.5,4342.0 1336.2,4345.9 1336.9,4342.9 1337.6,4342.3 1338.3,4341.1 1339.0,4343.1 1339.7,4343.6 1340.4,4343.1 1341.1,4341.1 1341.8,4341.6 1342.5,4341.5 1343.2,4343.2 1343.9,4341.8 1344.6,4342.8 1345.3,4345.3 1346.0,4340.3 1346.7,4342.5 1347.4,4342.7 1348.1,4340.7 1348.8,4344.2 1349.6,4342.3 1350.3,4343.2 1351.0,4343.4 1351.7,4344.6 1352.4,4341.7 1353.1,4341.7 1353.8,4340.8 1354.5,4340.8 1355.2,4345.0 1355.9,4341.8 1356.6,4340.0 1357.3,4343.4 1358.0,4344.9 1358.7,4341.1 1359.4,4342.4 1360.1,4340.5 1360.8,4339.7 1361.5,4342.2 1362.2,4340.8 1362.9,4340.8 1363.6,4342.5 1364.3,4343.0 1365.0,4342.1 1365.7,4344.2 1366.4,4341.5 1367.1,4342.0 1367.8,4343.7 1368.5,4345.5 1369.2,4345.3 1369.9,4343.8 1370.6,4342.6 1371.3,4340.6 1372.0,4344.5 1372.7,4342.3 1373.4,4345.7 1374.1,4342.5 1374.8,4339.7 1375.5,4344.0 1376.2,4342.7 1376.9,4341.7 1377.6,4342.7 1378.3,4342.4 1379.0,4342.8 1379.7,4339.9 1380.4,4342.5 1381.2,4343.1 1381.9,4340.7 1382.6,4344.2 1383.3,4342.2 1384.0,4339.6 1384.7,4344.7 1385.4,4341.9 1386.1,4342.5 1386.8,4342.2 1387.5,4345.2 1388.2,4342.5 1388.9,4341.5 1389.6,4341.5 1390.3,4343.2 1391.0,4343.3 1391.7,4341.5 1392.4,4343.8 1393.1,4341.5 1393.8,4342.7 1394.5,4343.2 1395.2,4342.7 1395.9,4342.6 1396.6,4342.5 1397.3,4341.3 1398.0,4342.2 1398.7,4342.2 1399.4,4339.9 1400.1,4339.5 1400.8,4341.8 1401.5,4341.2 1402.2,4341.4 1402.9,4342.1 1403.6,4341.5 1404.3,4340.0 1405.0,4341.4 1405.7,4339.6 1406.4,4342.9 1407.1,4341.8 1407.8,4340.2 1408.5,4339.2 1409.2,4340.7 1409.9,4339.6 1410.6,4338.7 1411.3,4340.4 1412.1,4339.7 1412.8,4340.6 1413.5,4339.0 1414.2,4341.9 1414.9,4341.5 1415.6,4336.7 1416.3,4336.0 1417.0,4337.4 1417.7,4340.7 1418.4,4339.1 1419.1,4337.9 1419.8,4337.7 1420.5,4335.2 1421.2,4336.7 1421.9,4334.6 1422.6,4336.0 1423.3,4334.7 1424.0,4334.1 1424.7,4333.7 1425.4,4334.8 1426.1,4336.2 1426.8,4330.7 1427.5,4333.7 1428.2,4331.7 1428.9,4334.0 1429.6,4333.0 1430.3,4329.8 1431.0,4330.7 1431.7,4332.2 1432.4,4332.1 1433.1,4328.5 1433.8,4327.5 1434.5,4328.8 1435.2,4329.8 1435.9,4328.8 1436.6,4327.5 1437.3,4327.3 1438.0,4326.9 1438.7,4325.8 1439.4,4323.9 1440.1,4325.7 1440.8,4324.9 1441.5,4325.1 1442.2,4323.3 1442.9,4322.2 1443.7,4323.5 1444.4,4323.2 1445.1,4324.1 1445.8,4319.2 1446.5,4320.0 1447.2,4319.9 1447.9,4322.7 1448.6,4316.1 1449.3,4319.5 1450.0,4316.0 1450.7,4314.5 1451.4,4316.0 1452.2,4314.8 1452.9,4308.2 1453.6,4309.8 1454.3,4310.4 1455.0,4308.6 1455.7,4309.8 1456.5,4306.0 1457.2,4305.6 1457.9,4301.8 1458.6,4304.6 1459.3,4303.5 1460.0,4304.0 1460.7,4301.7 1461.4,4304.8 1462.1,4301.0 1462.8,4303.9 1463.5,4303.6 1464.2,4299.4 1464.9,4300.6 1465.6,4299.0 1466.3,4298.0 1467.0,4301.8 1467.7,4301.6 1468.4,4304.0 1469.1,4304.9 1469.9,4300.8 1470.6,4303.3 1471.3,4304.9 1472.0,4306.1 1472.7,4305.6 1473.5,4304.9 1474.2,4306.2 1474.9,4308.0 1475.6,4305.8 1476.3,4305.3 1477.0,4304.9 1477.6,4305.3 1478.3,4307.6 1479.0,4304.7 1479.7,4305.8 1480.4,4306.3 1481.1,4305.6 1481.7,4303.8 1482.4,4302.9 1483.1,4302.5 1483.8,4301.7 1484.5,4300.6 1485.1,4301.9 1485.8,4302.0 1486.5,4299.5 1487.2,4298.6 1487.9,4298.9 1488.6,4298.1 1489.3,4298.3 1490.0,4296.6 1490.7,4295.6 1491.4,4292.4 1492.1,4293.0 1492.8,4292.3 1493.5,4291.0 1494.2,4291.7 1494.9,4290.2 1495.6,4288.2 1496.3,4289.0 1497.0,4289.1 1497.7,4289.9 1498.4,4285.7 1499.1,4284.2 1499.8,4285.2 1500.5,4285.5 1501.2,4281.5 1501.9,4282.3 1502.6,4280.2 1503.3,4281.1 1504.0,4278.3 1504.7,4278.0 1505.4,4277.6 1506.2,4277.1 1506.9,4275.0 1507.6,4275.7 1508.3,4274.3 1509.0,4277.4 1509.7,4276.1 1510.4,4272.7 1511.1,4272.3 1511.8,4272.8 1512.5,4270.9 1513.2,4270.3 1513.9,4271.3 1514.6,4271.3 1515.3,4269.8 1516.0,4270.5 1516.7,4267.9 1517.4,4267.1 1518.1,4266.1 1518.8,4265.9 1519.5,4265.4 1520.2,4268.4 1520.9,4267.6 1521.6,4266.1 1522.3,4266.3 1523.0,4264.9 1523.7,4266.9 1524.4,4265.7 1525.1,4265.7 1525.8,4265.4 1526.5,4263.7 1527.2,4264.9 1527.9,4267.7 1528.6,4264.4 1529.3,4264.2 1530.0,4265.0 1530.7,4264.0 1531.4,4263.9 1532.1,4263.6 1532.8,4263.8 1533.5,4265.0 1534.3,4261.8 1535.0,4263.0 1535.7,4263.2 1536.4,4265.0 1537.1,4263.8 1537.8,4265.6 1538.6,4263.9 1539.3,4266.5 1540.0,4262.6 1540.7,4267.6 1541.4,4263.3 1542.1,4264.5 1542.9,4263.6 1543.6,4264.6 1544.3,4268.6 1545.0,4269.1 1545.7,4268.8 1546.4,4271.6 1547.1,4274.8 1547.9,4274.8 1548.6,4275.0 1549.3,4277.4 1550.0,4279.0 1550.7,4277.5 1551.4,4280.6 1552.1,4283.0 1552.9,4286.9 1553.5,4286.3 1554.2,4286.5 1554.9,4284.9 1555.6,4287.4 1556.3,4286.8 1556.9,4290.0 1557.6,4289.9 1558.3,4292.8 1559.0,4292.5 1559.7,4293.5 1560.3,4294.8 1561.0,4296.6 1561.7,4295.7 1562.4,4296.4 1563.1,4298.2 1563.8,4303.2 1564.4,4299.0 1565.1,4299.2 1565.8,4301.4 1566.5,4299.3 1567.2,4302.7 1567.9,4300.9 1568.7,4302.6 1569.4,4303.2 1570.1,4302.8 1570.8,4305.2 1571.5,4305.1 1572.2,4307.0 1572.9,4307.0 1573.6,4306.1 1574.3,4308.2 1575.0,4308.6 1575.7,4308.5 1576.4,4309.1 1577.1,4310.9 1577.8,4309.0 1578.5,4312.1 1579.2,4311.2 1579.9,4312.2 1580.6,4313.3 1581.3,4315.8 1582.0,4311.2 1582.7,4310.9 1583.4,4314.7 1584.1,4313.0 1584.8,4314.0 1585.5,4312.2 1586.2,4316.1 1586.9,4315.4 1587.6,4313.1 1588.3,4317.1 1589.0,4315.9 1589.7,4315.6 1590.4,4314.3 1591.1,4319.6 1591.8,4316.1 1592.5,4318.7 1593.2,4317.2 1593.9,4317.1 1594.6,4320.2 1595.3,4320.1 1596.0,4320.4 1596.7,4319.2 1597.4,4320.9 1598.1,4321.4 1598.8,4322.8 1599.5,4321.1 1600.3,4322.1 1601.0,4323.0 1601.7,4319.1 1602.4,4323.1 1603.1,4325.2 1603.8,4324.2 1604.5,4324.0 1605.2,4324.8 1605.9,4325.7 1606.6,4321.8 1607.3,4323.5 1608.0,4323.4 1608.7,4323.0 1609.4,4326.5 1610.1,4324.1 1610.8,4325.8 1611.5,4326.7 1612.2,4327.7 1612.9,4324.3 1613.6,4324.5 1614.3,4324.1 1615.0,4327.6 1615.7,4325.9 1616.4,4328.1 1617.1,4329.1 1617.8,4330.5 1618.5,4326.8 1619.2,4328.6 1619.9,4328.7 1620.6,4326.0 1621.3,4330.2 1622.0,4331.3 1622.7,4327.8 1623.4,4330.7 1624.1,4330.5 1624.8,4330.5 1625.5,4329.1 1626.2,4329.3 1626.9,4334.1 1627.6,4332.6 1628.3,4331.3 1629.0,4332.9 1629.7,4329.9 1630.4,4332.4 1631.2,4330.9 1631.9,4328.2 1632.6,4330.4 1633.3,4333.0 1634.0,4333.2 1634.7,4333.1 1635.4,4332.3 1636.1,4332.9 1636.8,4330.3 1637.5,4332.5 1638.2,4337.1 1638.9,4333.1 1639.6,4332.4 1640.3,4336.1 1641.0,4333.2 1641.7,4333.2 1642.4,4333.7 1643.1,4334.1 1643.8,4332.0 1644.5,4334.0 1645.2,4333.5 1645.9,4331.7 1646.6,4334.7 1647.3,4334.4 1648.0,4333.7 1648.7,4334.0 1649.4,4336.2 1650.1,4330.9 1650.8,4336.2 1651.5,4335.3 1652.2,4335.3 1652.9,4334.9 1653.6,4335.1 1654.3,4336.8 1655.0,4334.5 1655.7,4338.4 1656.4,4334.2 1657.1,4337.0 1657.8,4335.9 1658.5,4338.4 1659.2,4337.2 1659.9,4333.9 1660.6,4336.8 1661.3,4335.0 1662.0,4336.8 1662.7,4336.2 1663.4,4335.0 1664.1,4335.0 1664.8,4336.4 1665.5,4336.2 1666.2,4336.0 1666.9,4334.7 1667.6,4336.9 1668.3,4335.3 1669.0,4333.7 1669.7,4334.1 1670.4,4339.1 1671.1,4336.2 1671.8,4335.3 1672.5,4335.4 1673.2,4336.1 1673.9,4336.5 1674.6,4336.4 1675.3,4337.7 1676.0,4335.9 1676.7,4337.3 1677.3,4336.8 1678.0,4336.2 1678.7,4337.7 1679.4,4337.5 1680.1,4335.7 1680.8,4337.8 1681.5,4336.3 1682.2,4334.9 1682.9,4339.7 1683.6,4339.0 1684.3,4334.4 1685.0,4337.3 1685.7,4337.0" fill="none" stroke="#ff0000" stroke-width="3.6" stroke-linejoin="round" stroke-linecap="butt"/>
<polyline points="1284.8,4276.8 1285.5,4278.0 1286.2,4279.5 1286.9,4276.2 1287.6,4278.9 1288.3,4277.4 1289.0,4279.2 1289.7,4277.7 1290.4,4277.8 1291.2,4278.4 1291.9,4277.3 1292.6,4277.8 1293.3,4277.6 1294.0,4279.3 1294.7,4278.1 1295.4,4275.9 1296.1,4278.1 1296.8,4277.9 1297.5,4277.6 1298.2,4279.0 1298.9,4278.6 1299.6,4275.9 1300.3,4278.9 1301.0,4276.9 1301.7,4276.9 1302.4,4276.7 1303.1,4277.1 1303.8,4278.0 1304.6,4275.8 1305.3,4277.0 1306.0,4276.3 1306.7,4276.7 1307.4,4276.4 1308.1,4277.5 1308.8,4277.7 1309.5,4275.8 1310.2,4277.0 1310.9,4275.0 1311.6,4276.9 1312.3,4277.5 1313.0,4276.4 1313.7,4279.2 1314.4,4277.1 1315.1,4275.7 1315.8,4276.9 1316.5,4275.8 1317.2,4277.0 1317.9,4276.4 1318.7,4276.7 1319.4,4273.8 1320.1,4275.9 1320.8,4277.7 1321.5,4277.7 1322.2,4277.9 1322.9,4277.4 1323.6,4278.3 1324.3,4278.3 1325.0,4277.9 1325.7,4278.6 1326.4,4278.4 1327.1,4277.0 1327.8,4278.2 1328.5,4278.7 1329.2,4277.6 1329.9,4275.7 1330.6,4277.6 1331.3,4278.3 1332.0,4275.3 1332.7,4276.5 1333.4,4276.9 1334.1,4280.0 1334.8,4279.2 1335.5,4278.0 1336.2,4279.4 1336.9,4278.9 1337.6,4277.0 1338.3,4278.2 1339.0,4279.8 1339.7,4278.5 1340.4,4281.6 1341.1,4278.5 1341.8,4278.6 1342.5,4278.9 1343.2,4279.2 1343.9,4279.2 1344.6,4280.7 1345.3,4281.7 1346.0,4279.2 1346.7,4277.9 1347.4,4279.2 1348.1,4279.8 1348.8,4281.6 1349.6,4280.6 1350.3,4280.0 1351.0,4283.0 1351.7,4278.8 1352.4,4278.9 1353.1,4281.8 1353.8,4281.0 1354.5,4280.4 1355.2,4279.1 1355.9,4280.9 1356.6,4280.9 1357.3,4279.9 1358.0,4280.8 1358.7,4279.1 1359.4,4282.0 1360.1,4279.6 1360.8,4282.0 1361.5,4280.0 1362.2,4280.0 1362.9,4280.9 1363.6,4280.3 1364.3,4282.1 1365.0,4280.4 1365.7,4281.6 1366.4,4282.3 1367.1,4282.6 1367.8,4282.7 1368.5,4281.5 1369.2,4284.0 1369.9,4281.8 1370.6,4281.3 1371.3,4282.3 1372.0,4284.2 1372.7,4280.4 1373.4,4281.7 1374.1,4283.9 1374.8,4282.5 1375.5,4281.0 1376.2,4283.2 1376.9,4283.2 1377.6,4282.5 1378.3,4281.3 1379.0,4282.5 1379.7,4282.2 1380.4,4284.4 1381.2,4281.8 1381.9,4281.0 1382.6,4283.4 1383.3,4282.9 1384.0,4284.7 1384.7,4280.6 1385.4,4283.2 1386.1,4284.5 1386.8,4283.3 1387.5,4283.9 1388.2,4282.9 1388.9,4285.6 1389.6,4282.4 1390.3,4283.9 1391.0,4283.8 1391.7,4283.9 1392.4,4284.9 1393.1,4284.0 1393.8,4284.4 1394.5,4284.9 1395.2,4284.6 1395.9,4285.3 1396.6,4283.2 1397.3,4286.0 1398.0,4282.2 1398.7,4282.2 1399.4,4283.2 1400.1,4282.7 1400.8,4284.6 1401.5,4284.6 1402.2,4285.0 1402.9,4284.9 1403.6,4284.5 1404.3,4287.1 1405.0,4282.9 1405.7,4283.7 1406.4,4283.3 1407.1,4284.9 1407.8,4283.5 1408.5,4283.0 1409.2,4282.5 1409.9,4283.6 1410.6,4282.4 1411.3,4284.3 1412.1,4284.0 1412.8,4283.5 1413.5,4283.9 1414.2,4283.7 1414.9,4284.7 1415.6,4282.7 1416.3,4282.3 1417.0,4282.8 1417.7,4282.7 1418.4,4283.4 1419.1,4282.1 1419.8,4281.0 1420.5,4281.7 1421.2,4282.2 1421.9,4280.3 1422.6,4282.0 1423.3,4282.5 1424.0,4279.6 1424.7,4279.7 1425.4,4279.3 1426.1,4277.2 1426.8,4279.2 1427.5,4277.0 1428.2,4278.2 1428.9,4279.0 1429.6,4280.3 1430.3,4278.6 1431.0,4277.7 1431.7,4278.3 1432.4,4277.2 1433.1,4276.2 1433.8,4277.7 1434.5,4275.5 1435.2,4276.8 1435.9,4277.3 1436.6,4275.1 1437.3,4274.7 1438.0,4273.0 1438.7,4274.6 1439.4,4274.0 1440.1,4274.9 1440.8,4274.0 1441.5,4272.9 1442.2,4273.1 1442.9,4273.3 1443.7,4271.3 1444.4,4272.3 1445.1,4271.9 1445.8,4272.1 1446.5,4272.7 1447.2,4272.4 1447.9,4269.1 1448.6,4269.6 1449.2,4271.8 1449.9,4270.7 1450.6,4267.7 1451.3,4266.1 1452.0,4266.9 1452.7,4265.5 1453.3,4264.4 1454.0,4263.8 1454.7,4265.4 1455.4,4263.2 1456.1,4263.8 1456.7,4261.6 1457.4,4260.1 1458.1,4261.8 1458.8,4260.1 1459.5,4258.6 1460.2,4258.7 1460.9,4256.5 1461.6,4255.0 1462.3,4254.3 1463.0,4253.6 1463.7,4253.2 1464.4,4253.0 1465.1,4253.3 1465.9,4252.2 1466.6,4250.2 1467.3,4249.4 1468.0,4247.1 1468.7,4250.8 1469.4,4247.2 1470.1,4250.1 1470.9,4248.5 1471.6,4249.6 1472.3,4250.7 1473.0,4252.3 1473.7,4252.5 1474.4,4251.5 1475.2,4253.6 1475.9,4255.5 1476.6,4254.9 1477.3,4254.7 1478.0,4256.9 1478.7,4258.4 1479.5,4258.4 1480.1,4257.5 1480.8,4254.8 1481.5,4256.2 1482.2,4255.7 1482.9,4256.6 1483.6,4254.3 1484.2,4255.3 1484.9,4253.4 1485.6,4253.5 1486.3,4252.3 1487.0,4253.9 1487.6,4252.8 1488.3,4251.0 1489.0,4250.1 1489.7,4249.1 1490.4,4249.8 1491.1,4249.7 1491.8,4248.9 1492.5,4247.1 1493.2,4247.2 1493.9,4246.8 1494.6,4245.1 1495.3,4243.6 1496.0,4243.4 1496.7,4242.0 1497.4,4242.1 1498.1,4241.2 1498.8,4241.8 1499.5,4239.1 1500.2,4236.6 1500.9,4240.2 1501.6,4236.4 1502.3,4233.4 1503.0,4234.4 1503.7,4233.0 1504.4,4231.3 1505.1,4232.1 1505.8,4233.8 1506.5,4230.2 1507.2,4229.4 1507.9,4230.6 1508.6,4229.1 1509.3,4228.1 1510.0,4227.4 1510.7,4226.5 1511.4,4228.7 1512.1,4227.0 1512.8,4226.9 1513.5,4225.2 1514.2,4226.2 1514.9,4225.0 1515.6,4224.5 1516.3,4226.3 1517.0,4221.5 1517.7,4223.6 1518.4,4221.9 1519.1,4222.9 1519.8,4222.7 1520.5,4220.8 1521.2,4219.2 1522.0,4220.4 1522.7,4223.0 1523.4,4223.0 1524.1,4220.5 1524.8,4219.2 1525.5,4220.7 1526.2,4220.3 1526.9,4222.0 1527.6,4221.3 1528.3,4222.7 1529.0,4220.7 1529.7,4222.8 1530.4,4220.6 1531.1,4219.9 1531.8,4222.0 1532.5,4221.5 1533.2,4219.7 1533.9,4221.7 1534.6,4221.1 1535.3,4219.8 1536.0,4221.3 1536.7,4221.5 1537.4,4219.9 1538.1,4219.2 1538.8,4222.0 1539.4,4221.2 1540.1,4219.5 1540.8,4219.7 1541.5,4221.5 1542.2,4222.9 1542.9,4221.0 1543.5,4223.7 1544.2,4222.1 1544.9,4224.7 1545.6,4221.6 1546.3,4222.8 1546.9,4225.3 1547.6,4225.1 1548.3,4222.8 1549.0,4224.4 1549.7,4223.5 1550.4,4228.3 1551.1,4229.7 1551.8,4228.5 1552.5,4231.5 1553.2,4231.6 1553.9,4234.9 1554.6,4234.1 1555.3,4235.9 1556.0,4234.6 1556.7,4238.2 1557.4,4239.5 1558.1,4242.0 1558.8,4243.5 1559.4,4242.6 1560.1,4243.8 1560.8,4243.8 1561.5,4244.4 1562.2,4247.3 1562.8,4249.6 1563.5,4249.4 1564.2,4251.9 1564.9,4251.4 1565.6,4253.8 1566.3,4252.8 1566.9,4253.8 1567.6,4257.1 1568.3,4257.4 1569.0,4259.1 1569.7,4258.6 1570.3,4258.4 1571.0,4260.6 1571.7,4260.3 1572.4,4262.7 1573.1,4263.2 1573.8,4260.7 1574.4,4264.6 1575.1,4264.0 1575.8,4264.6 1576.5,4266.2 1577.2,4265.4 1577.8,4266.4 1578.5,4268.5 1579.2,4268.7 1579.9,4269.5 1580.6,4267.8 1581.3,4269.2 1582.0,4269.8 1582.7,4271.5 1583.4,4270.3 1584.1,4271.4 1584.8,4273.1 1585.5,4271.8 1586.2,4273.9 1586.9,4273.1 1587.6,4275.2 1588.3,4273.6 1589.0,4275.4 1589.7,4275.8 1590.4,4276.8 1591.1,4273.4 1591.8,4278.3 1592.5,4280.3 1593.2,4278.1 1593.9,4278.2 1594.6,4278.8 1595.3,4278.5 1596.0,4280.1 1596.7,4282.3 1597.4,4280.7 1598.1,4280.1 1598.8,4278.7 1599.5,4280.3 1600.3,4284.7 1601.0,4284.4 1601.7,4282.9 1602.4,4283.2 1603.1,4284.1 1603.8,4284.5 1604.5,4284.0 1605.2,4285.5 1605.9,4285.4 1606.6,4287.2 1607.3,4287.0 1608.0,4287.9 1608.7,4289.2 1609.4,4287.0 1610.1,4289.5 1610.8,4289.9 1611.5,4289.1 1612.2,4288.1 1612.9,4290.4 1613.6,4292.8 1614.3,4292.0 1615.0,4290.6 1615.7,4291.4 1616.4,4293.9 1617.1,4292.2 1617.8,4292.5 1618.5,4291.4 1619.2,4293.7 1619.9,4294.8 1620.6,4294.1 1621.3,4293.9 1622.0,4296.2 1622.7,4296.7 1623.4,4296.7 1624.1,4296.8 1624.8,4298.5 1625.5,4299.3 1626.2,4300.1 1626.9,4298.1 1627.6,4297.3 1628.3,4297.5 1629.0,4298.8 1629.7,4299.9 1630.4,4300.1 1631.2,4299.0 1631.9,4299.2 1632.6,4299.3 1633.3,4299.7 1634.0,4300.6 1634.7,4301.0 1635.4,4302.2 1636.1,4301.5 1636.8,4301.4 1637.5,4301.0 1638.2,4302.0 1638.9,4302.1 1639.6,4304.4 1640.3,4302.0 1641.0,4303.2 1641.7,4301.2 1642.4,4303.7 1643.1,4302.6 1643.8,4302.3 1644.5,4302.3 1645.2,4302.1 1645.9,4304.2 1646.6,4303.9 1647.3,4303.5 1648.0,4303.9 1648.7,4305.0 1649.4,4304.3 1650.1,4303.4 1650.8,4307.1 1651.5,4303.6 1652.2,4306.2 1652.9,4306.5 1653.6,4305.8 1654.3,4305.7 1655.0,4306.9 1655.7,4307.9 1656.4,4307.1 1657.1,4309.7 1657.8,4308.2 1658.5,4307.1 1659.2,4308.7 1659.9,4306.8 1660.6,4306.8 1661.3,4310.5 1662.0,4309.5 1662.7,4306.3 1663.4,4309.1 1664.1,4310.2 1664.8,4309.8 1665.5,4309.6 1666.2,4310.3 1666.9,4311.2 1667.6,4309.2 1668.3,4308.2 1669.0,4309.3 1669.7,4310.3 1670.4,4309.9 1671.1,4308.0 1671.8,4309.5 1672.5,4311.6 1673.2,4308.8 1673.9,4308.6 1674.6,4312.8 1675.3,4308.7 1676.0,4309.5 1676.7,4312.1 1677.3,4308.6 1678.0,4309.2 1678.7,4308.4 1679.4,4309.6 1680.1,4310.0 1680.8,4310.8 1681.5,4312.5 1682.2,4312.4 1682.9,4310.2 1683.6,4311.7 1684.3,4311.4 1685.0,4309.6 1685.7,4311.5" fill="none" stroke="#0000ff" stroke-width="3.6" stroke-linejoin="round" stroke-linecap="butt"/>
<polyline points="1725.1,4355.6 1725.8,4357.1 1726.5,4357.8 1727.2,4355.0 1727.9,4357.0 1728.6,4361.3 1729.3,4355.7 1730.0,4356.8 1730.7,4357.9 1731.4,4354.5 1732.1,4357.5 1732.8,4359.1 1733.5,4357.3 1734.2,4355.9 1734.9,4357.7 1735.6,4356.4 1736.3,4357.9 1737.0,4357.6 1737.7,4357.4 1738.4,4356.3 1739.1,4359.7 1739.8,4358.0 1740.5,4358.6 1741.2,4358.0 1741.9,4357.3 1742.6,4358.3 1743.3,4357.9 1744.0,4358.1 1744.7,4357.9 1745.4,4357.1 1746.1,4357.9 1746.8,4358.0 1747.5,4359.0 1748.2,4356.6 1748.9,4359.2 1749.6,4354.2 1750.3,4356.1 1751.0,4357.6 1751.7,4356.7 1752.4,4358.2 1753.1,4354.5 1753.8,4355.4 1754.5,4355.1 1755.2,4357.4 1755.9,4359.5 1756.6,4355.8 1757.3,4356.6 1758.0,4355.9 1758.7,4358.5 1759.4,4358.2 1760.1,4358.3 1760.8,4356.2 1761.5,4356.9 1762.2,4356.4 1762.9,4356.5 1763.6,4356.9 1764.3,4357.9 1765.0,4354.9 1765.7,4359.4 1766.4,4357.6 1767.1,4360.2 1767.8,4359.2 1768.5,4357.6 1769.2,4358.0 1769.9,4358.8 1770.6,4356.1 1771.3,4358.8 1772.0,4357.4 1772.7,4357.7 1773.4,4356.5 1774.1,4357.3 1774.8,4356.1 1775.5,4355.9 1776.2,4357.7 1776.9,4358.5 1777.6,4357.7 1778.3,4355.3 1779.0,4356.9 1779.7,4356.4 1780.4,4357.0 1781.1,4356.3 1781.8,4356.4 1782.5,4357.7 1783.2,4356.8 1783.9,4357.2 1784.6,4356.5 1785.2,4355.9 1785.9,4356.6 1786.6,4355.0 1787.3,4357.6 1788.0,4357.1 1788.7,4357.0 1789.4,4358.6 1790.1,4355.7 1790.8,4358.8 1791.5,4358.4 1792.2,4357.5 1792.9,4355.8 1793.6,4357.6 1794.3,4356.4 1795.0,4356.0 1795.7,4357.3 1796.4,4357.5 1797.1,4355.9 1797.8,4357.0 1798.5,4362.1 1799.2,4355.6 1799.9,4357.8 1800.6,4356.7 1801.3,4356.1 1802.0,4357.7 1802.7,4354.9 1803.4,4354.4 1804.1,4357.0 1804.8,4357.4 1805.5,4356.4 1806.2,4358.5 1806.9,4356.5 1807.6,4357.3 1808.3,4354.8 1809.0,4359.2 1809.7,4356.3 1810.4,4356.9 1811.1,4357.6 1811.8,4355.9 1812.5,4357.4 1813.2,4357.0 1813.9,4358.5 1814.6,4355.4 1815.3,4356.8 1816.0,4356.8 1816.7,4356.0 1817.4,4355.3 1818.1,4357.3 1818.8,4354.6 1819.5,4354.9 1820.2,4356.7 1820.9,4356.7 1821.6,4355.6 1822.3,4356.0 1823.0,4355.1 1823.7,4357.6 1824.4,4357.1 1825.1,4359.1 1825.8,4355.7 1826.5,4357.6 1827.2,4356.2 1827.9,4356.5 1828.6,4354.7 1829.3,4360.5 1830.0,4357.6 1830.7,4357.6 1831.4,4356.8 1832.1,4355.0 1832.8,4354.6 1833.5,4354.7 1834.2,4357.4 1834.9,4355.3 1835.6,4356.4 1836.3,4356.7 1837.0,4356.5 1837.7,4355.7 1838.4,4355.8 1839.1,4356.7 1839.8,4356.5 1840.5,4354.9 1841.2,4357.9 1841.9,4357.7 1842.6,4357.6 1843.3,4357.1 1844.0,4355.9 1844.7,4358.7 1845.4,4355.6 1846.1,4355.8 1846.8,4355.6 1847.5,4357.7 1848.2,4357.0 1848.9,4355.3 1849.6,4356.4 1850.3,4355.8 1851.0,4358.1 1851.7,4358.0 1852.4,4356.1 1853.1,4356.7 1853.8,4356.8 1854.5,4357.7 1855.2,4357.5 1855.9,4357.0 1856.6,4356.8 1857.3,4356.3 1858.0,4355.5 1858.7,4357.2 1859.4,4358.2 1860.1,4359.0 1860.8,4356.1 1861.5,4357.2 1862.2,4355.7 1862.9,4356.4 1863.6,4355.4 1864.3,4356.4 1865.0,4355.4 1865.7,4356.3 1866.4,4357.3 1867.0,4355.0 1867.7,4355.6 1868.4,4355.4 1869.1,4357.2 1869.8,4356.5 1870.5,4356.1 1871.2,4356.2 1871.9,4357.5 1872.6,4359.1 1873.3,4355.9 1874.0,4357.0 1874.7,4356.6 1875.4,4355.1 1876.1,4354.6 1876.8,4355.6 1877.5,4355.7 1878.2,4356.2 1878.9,4355.6 1879.6,4355.0 1880.3,4358.5 1881.0,4353.3 1881.7,4354.2 1882.4,4358.1 1883.1,4356.9 1883.8,4355.8 1884.5,4355.3 1885.2,4359.0 1885.9,4356.8 1886.6,4355.4 1887.3,4356.8 1888.0,4358.8 1888.7,4356.9 1889.4,4356.5 1890.1,4356.6 1890.8,4357.1 1891.5,4355.3 1892.2,4356.3 1892.9,4357.2 1893.6,4359.9 1894.3,4354.5 1895.0,4356.3 1895.7,4354.8 1896.4,4360.5 1897.1,4354.8 1897.8,4355.0 1898.5,4357.5 1899.2,4357.7 1899.9,4354.4 1900.6,4358.6 1901.3,4357.2 1902.0,4357.3 1902.6,4356.2 1903.3,4354.0 1904.0,4360.0 1904.7,4354.9 1905.4,4355.8 1906.1,4355.4 1906.8,4357.4 1907.5,4355.2 1908.2,4355.1 1908.9,4356.8 1909.6,4356.9 1910.3,4356.0 1911.0,4356.3 1911.7,4356.9 1912.4,4356.1 1913.1,4355.2 1913.8,4355.9 1914.5,4357.8 1915.2,4357.6 1915.9,4357.7 1916.6,4357.4 1917.3,4355.9 1918.0,4356.1 1918.7,4356.3 1919.4,4354.9 1920.1,4354.4 1920.8,4354.6 1921.5,4355.9 1922.2,4355.4 1922.9,4356.3 1923.6,4357.4 1924.3,4356.1 1925.0,4355.4 1925.7,4354.8 1926.4,4354.2 1927.1,4355.7 1927.8,4355.0 1928.5,4356.4 1929.2,4354.6 1929.9,4355.3 1930.6,4353.5 1931.3,4356.7 1932.0,4353.8 1932.7,4354.3 1933.4,4356.1 1934.1,4353.9 1934.8,4356.8 1935.5,4358.4 1936.2,4353.2 1936.9,4355.6 1937.5,4357.5 1938.2,4356.7 1938.9,4353.4 1939.6,4354.3 1940.3,4355.4 1941.0,4353.2 1941.7,4352.6 1942.4,4354.7 1943.1,4355.5 1943.8,4354.9 1944.5,4356.8 1945.2,4355.5 1945.9,4355.9 1946.6,4356.9 1947.3,4356.4 1948.0,4353.9 1948.7,4354.7 1949.4,4355.3 1950.1,4353.0 1950.8,4355.1 1951.5,4354.9 1952.2,4354.3 1952.9,4355.8 1953.6,4354.5 1954.3,4357.5 1955.0,4357.0 1955.7,4355.9 1956.4,4355.7 1957.1,4356.3 1957.8,4354.1 1958.5,4356.8 1959.2,4355.9 1959.9,4356.5 1960.6,4357.0 1961.3,4353.1 1962.0,4356.8 1962.7,4357.4 1963.4,4355.8 1964.1,4355.3 1964.8,4354.8 1965.5,4356.9 1966.2,4352.6 1966.9,4353.8 1967.6,4354.2 1968.3,4358.8 1969.0,4351.4 1969.7,4354.6 1970.4,4356.2 1971.1,4356.4 1971.8,4356.6 1972.5,4355.0 1973.1,4351.9 1973.8,4353.8 1974.5,4354.6 1975.2,4355.3 1975.9,4355.2 1976.6,4355.7 1977.3,4355.6 1978.0,4356.6 1978.7,4353.1 1979.4,4356.5 1980.1,4358.1 1980.8,4356.2 1981.5,4356.7 1982.2,4351.6 1982.9,4356.2 1983.6,4355.2 1984.3,4355.5 1985.0,4358.3 1985.7,4355.0 1986.4,4359.4 1987.1,4353.8 1987.8,4356.2 1988.5,4355.7 1989.2,4356.2 1989.9,4357.0 1990.6,4355.6 1991.3,4356.2 1992.0,4353.0 1992.7,4353.6 1993.4,4354.6 1994.1,4356.0 1994.8,4356.9 1995.5,4353.8 1996.2,4351.8 1997.0,4349.1 1997.8,4346.2 1998.4,4342.6 1999.1,4339.0 1999.7,4335.4 2000.4,4339.0 2001.0,4342.6 2001.7,4346.2 2002.4,4350.1 2003.2,4354.0 2004.0,4357.7 2004.7,4357.5 2005.4,4356.1 2006.1,4355.9 2006.8,4358.8 2007.5,4355.9 2008.2,4360.2 2008.9,4358.1 2009.6,4357.7 2010.3,4358.5 2011.0,4356.8 2011.7,4356.6 2012.4,4358.1 2013.1,4355.7 2013.8,4359.8 2014.5,4358.1 2015.2,4358.7 2015.9,4359.2 2016.6,4359.0 2017.3,4358.5 2018.0,4356.4 2018.7,4358.6 2019.4,4358.9 2020.1,4358.0 2020.9,4357.3 2021.6,4358.2 2022.3,4357.9 2023.0,4356.3 2023.7,4357.1 2024.4,4356.3 2025.1,4356.2 2025.8,4357.5 2026.5,4357.0 2027.2,4358.0 2027.9,4356.9 2028.6,4359.3 2029.3,4357.4 2030.0,4358.5 2030.7,4357.4 2031.4,4358.6 2032.1,4356.5 2032.8,4359.7 2033.5,4359.5 2034.2,4359.3 2034.9,4358.6 2035.6,4358.2 2036.3,4357.9 2037.0,4356.1 2037.7,4359.1 2038.4,4358.7 2039.1,4360.7 2039.8,4358.3 2040.5,4356.6 2041.2,4358.8 2042.0,4360.9 2042.7,4360.1 2043.4,4356.8 2044.1,4357.9 2044.8,4359.6 2045.5,4357.9 2046.2,4358.8 2046.9,4358.1 2047.6,4359.6 2048.3,4357.7 2049.0,4361.0 2049.7,4358.8 2050.4,4356.9 2051.1,4359.2 2051.8,4357.9 2052.5,4358.6 2053.2,4360.4 2053.9,4358.1 2054.6,4358.7 2055.3,4358.6 2056.0,4359.0 2056.7,4356.7 2057.4,4358.0 2058.1,4358.2 2058.8,4358.2 2059.5,4357.1 2060.2,4358.7 2060.9,4359.8 2061.6,4360.2 2062.3,4359.5 2063.0,4361.7 2063.7,4358.1 2064.4,4358.3 2065.1,4357.7 2065.8,4358.2 2066.5,4360.9 2067.2,4358.7 2067.9,4361.2 2068.6,4359.5 2069.3,4359.8 2070.0,4358.3 2070.7,4359.1 2071.4,4358.5 2072.1,4360.5 2072.8,4357.7 2073.5,4359.2 2074.2,4358.9 2074.9,4358.9 2075.6,4356.3 2076.3,4361.6 2077.0,4357.2 2077.7,4361.4 2078.4,4357.7 2079.0,4359.4 2079.7,4359.1 2080.4,4359.5 2081.1,4360.0 2081.8,4360.2 2082.5,4362.0 2083.2,4358.0 2083.9,4360.7 2084.6,4360.9 2085.3,4356.1 2086.0,4358.2 2086.7,4356.7 2087.4,4358.8 2088.1,4357.8 2088.8,4360.2 2089.5,4357.3 2090.2,4361.1 2090.9,4360.0 2091.6,4361.2 2092.3,4355.9 2093.0,4357.6 2093.7,4358.4 2094.4,4358.5 2095.1,4360.2 2095.8,4356.6 2096.5,4359.9 2097.2,4359.2 2097.9,4360.0 2098.6,4358.2 2099.3,4358.9 2100.0,4359.0 2100.7,4360.6 2101.4,4358.2 2102.1,4356.5 2102.8,4359.1 2103.5,4362.3 2104.2,4360.5 2104.9,4360.7 2105.6,4359.3 2106.3,4360.2 2107.0,4359.1 2107.7,4357.7 2108.4,4359.3 2109.1,4357.9 2109.8,4360.1 2110.5,4356.2 2111.2,4358.3 2111.9,4360.4 2112.6,4359.4 2113.3,4358.7 2114.0,4362.0 2114.7,4360.1 2115.4,4359.7 2116.1,4361.7 2116.8,4359.0 2117.5,4359.8 2118.2,4356.3 2118.9,4358.9 2119.6,4359.8 2120.3,4357.9 2121.0,4360.7 2121.7,4360.9 2122.4,4359.6 2123.1,4358.5 2123.8,4357.9 2124.5,4359.4" fill="none" stroke="#ff0000" stroke-width="3.6" stroke-linejoin="round" stroke-linecap="butt"/>
<polyline points="1725.1,4297.1 1725.8,4300.7 1726.5,4300.4 1727.2,4298.0 1727.9,4299.1 1728.6,4296.9 1729.3,4300.0 1730.0,4298.8 1730.7,4298.9 1731.4,4300.4 1732.1,4298.0 1732.8,4299.6 1733.5,4298.0 1734.2,4298.9 1734.9,4300.5 1735.6,4297.1 1736.3,4298.5 1737.0,4300.9 1737.7,4300.3 1738.4,4299.1 1739.1,4300.5 1739.8,4300.5 1740.5,4300.0 1741.2,4298.8 1741.9,4300.6 1742.6,4301.4 1743.3,4299.3 1744.0,4301.9 1744.7,4300.9 1745.4,4301.4 1746.1,4298.5 1746.8,4302.2 1747.5,4301.7 1748.2,4302.0 1748.9,4299.9 1749.6,4301.2 1750.3,4301.1 1751.0,4301.9 1751.7,4304.1 1752.4,4299.6 1753.1,4302.3 1753.8,4300.7 1754.5,4301.3 1755.2,4302.4 1755.9,4300.9 1756.6,4300.8 1757.3,4301.9 1758.0,4301.6 1758.7,4301.7 1759.4,4302.3 1760.1,4302.0 1760.8,4302.2 1761.5,4302.0 1762.2,4302.9 1762.9,4303.1 1763.6,4301.7 1764.3,4301.6 1765.0,4301.7 1765.7,4302.9 1766.4,4303.4 1767.1,4302.4 1767.8,4302.2 1768.5,4302.3 1769.2,4302.2 1769.9,4302.5 1770.6,4302.1 1771.3,4303.2 1772.0,4303.4 1772.7,4303.3 1773.4,4302.0 1774.1,4304.9 1774.8,4304.2 1775.5,4303.2 1776.2,4304.1 1776.9,4304.2 1777.6,4303.5 1778.3,4301.8 1779.0,4303.0 1779.7,4303.4 1780.4,4304.8 1781.1,4305.1 1781.8,4304.6 1782.5,4303.7 1783.2,4304.9 1783.9,4303.9 1784.6,4305.9 1785.2,4304.8 1785.9,4304.3 1786.6,4304.0 1787.3,4304.6 1788.0,4304.6 1788.7,4302.7 1789.4,4305.7 1790.1,4305.7 1790.8,4304.5 1791.5,4305.8 1792.2,4304.2 1792.9,4304.7 1793.6,4304.6 1794.3,4304.5 1795.0,4304.4 1795.7,4305.3 1796.4,4304.9 1797.1,4305.7 1797.8,4305.3 1798.5,4305.9 1799.2,4305.0 1799.9,4305.1 1800.6,4304.1 1801.3,4306.8 1802.0,4306.6 1802.7,4306.9 1803.4,4305.1 1804.1,4305.3 1804.8,4306.3 1805.5,4305.4 1806.2,4307.5 1806.9,4305.8 1807.6,4307.6 1808.3,4307.1 1809.0,4304.5 1809.7,4306.5 1810.4,4306.6 1811.1,4305.5 1811.8,4306.3 1812.5,4305.7 1813.2,4306.1 1813.9,4307.5 1814.6,4307.0 1815.3,4307.2 1816.0,4306.4 1816.7,4307.3 1817.4,4306.4 1818.1,4308.0 1818.8,4307.1 1819.5,4306.9 1820.2,4307.2 1820.9,4307.5 1821.6,4309.2 1822.3,4307.7 1823.0,4307.6 1823.7,4306.7 1824.4,4308.7 1825.1,4308.3 1825.8,4307.6 1826.5,4309.0 1827.2,4307.6 1827.9,4309.2 1828.6,4307.5 1829.3,4307.6 1830.0,4308.4 1830.7,4307.9 1831.4,4309.8 1832.1,4307.6 1832.8,4309.1 1833.5,4309.0 1834.2,4308.6 1834.9,4308.9 1835.6,4310.7 1836.3,4307.7 1837.0,4309.0 1837.7,4308.8 1838.4,4310.3 1839.1,4308.8 1839.8,4309.5 1840.5,4309.2 1841.2,4311.2 1841.9,4311.0 1842.6,4310.5 1843.3,4309.3 1844.0,4310.7 1844.7,4310.5 1845.4,4310.8 1846.1,4310.0 1846.8,4310.4 1847.5,4309.7 1848.2,4311.3 1848.9,4310.3 1849.6,4311.7 1850.3,4310.4 1851.0,4311.7 1851.7,4310.9 1852.4,4310.5 1853.1,4311.2 1853.8,4312.0 1854.5,4311.7 1855.2,4311.0 1855.9,4309.8 1856.6,4311.1 1857.3,4311.9 1858.0,4310.1 1858.7,4311.9 1859.4,4312.1 1860.1,4313.5 1860.8,4312.6 1861.5,4311.7 1862.2,4312.6 1862.9,4312.9 1863.6,4313.1 1864.3,4313.7 1865.0,4311.4 1865.7,4311.7 1866.4,4313.3 1867.1,4311.2 1867.8,4312.4 1868.5,4312.1 1869.2,4312.0 1869.9,4313.2 1870.6,4313.2 1871.3,4312.3 1872.0,4313.6 1872.7,4313.6 1873.4,4312.6 1874.1,4314.3 1874.8,4312.8 1875.5,4313.6 1876.2,4312.3 1876.9,4311.5 1877.5,4313.0 1878.2,4312.4 1878.9,4314.1 1879.6,4313.9 1880.3,4312.6 1881.0,4311.9 1881.7,4311.5 1882.4,4314.3 1883.1,4314.6 1883.8,4314.5 1884.5,4313.8 1885.2,4315.5 1885.9,4313.4 1886.6,4315.3 1887.3,4315.7 1888.0,4314.9 1888.7,4314.4 1889.4,4314.1 1890.1,4315.2 1890.8,4315.6 1891.5,4313.8 1892.2,4315.1 1892.9,4315.4 1893.6,4314.9 1894.3,4314.4 1895.0,4314.4 1895.7,4314.7 1896.4,4314.8 1897.1,4315.5 1897.8,4313.8 1898.5,4316.4 1899.2,4315.7 1899.9,4316.9 1900.6,4315.8 1901.3,4315.8 1902.0,4315.0 1902.7,4317.5 1903.4,4315.7 1904.1,4315.9 1904.8,4315.8 1905.5,4315.7 1906.2,4317.9 1906.9,4315.7 1907.6,4316.5 1908.3,4318.0 1909.0,4316.6 1909.7,4316.6 1910.4,4317.1 1911.1,4315.4 1911.8,4316.9 1912.5,4316.8 1913.2,4316.9 1913.9,4317.9 1914.6,4316.7 1915.3,4316.6 1916.0,4316.8 1916.7,4317.1 1917.4,4317.8 1918.1,4317.6 1918.8,4317.0 1919.5,4316.3 1920.2,4316.9 1920.9,4318.0 1921.6,4317.8 1922.3,4317.7 1923.0,4317.2 1923.7,4319.2 1924.4,4318.2 1925.1,4317.4 1925.8,4318.8 1926.5,4318.5 1927.2,4318.8 1927.9,4319.2 1928.6,4319.3 1929.3,4320.5 1930.0,4319.0 1930.7,4317.7 1931.4,4317.0 1932.1,4318.6 1932.8,4317.3 1933.5,4320.1 1934.2,4318.0 1934.9,4319.1 1935.6,4318.3 1936.3,4320.3 1937.0,4317.9 1937.7,4318.5 1938.4,4317.6 1939.1,4319.8 1939.8,4319.1 1940.5,4320.4 1941.2,4319.7 1941.9,4320.4 1942.6,4321.2 1943.3,4321.4 1944.0,4319.9 1944.7,4320.5 1945.4,4320.9 1946.1,4319.3 1946.8,4321.5 1947.5,4321.5 1948.2,4321.5 1948.9,4320.6 1949.6,4320.8 1950.3,4322.2 1951.0,4320.1 1951.7,4321.2 1952.3,4319.2 1953.0,4319.1 1953.7,4320.8 1954.4,4320.4 1955.1,4320.5 1955.8,4321.3 1956.5,4319.8 1957.2,4320.9 1957.9,4320.8 1958.6,4321.0 1959.3,4321.5 1960.0,4320.5 1960.7,4322.5 1961.4,4321.8 1962.1,4320.8 1962.8,4320.2 1963.5,4322.2 1964.2,4321.0 1964.9,4321.8 1965.6,4323.3 1966.3,4323.4 1967.0,4324.1 1967.7,4320.4 1968.4,4322.5 1969.1,4322.3 1969.8,4322.2 1970.5,4323.1 1971.2,4322.5 1971.9,4322.4 1972.6,4320.8 1973.3,4322.4 1974.0,4322.9 1974.7,4322.3 1975.4,4323.6 1976.1,4322.4 1976.8,4323.4 1977.5,4322.8 1978.2,4324.3 1978.9,4323.0 1979.6,4324.3 1980.3,4323.9 1981.0,4323.2 1981.7,4324.1 1982.4,4323.4 1983.1,4323.5 1983.8,4322.5 1984.5,4324.1 1985.2,4323.5 1985.9,4324.2 1986.6,4324.0 1987.3,4323.2 1988.0,4323.8 1988.7,4323.9 1989.4,4323.1 1990.1,4325.5 1990.8,4324.1 1991.5,4325.5 1992.2,4326.5 1992.9,4324.8 1993.6,4326.2 1994.3,4326.3 1995.0,4323.8 1995.7,4325.4 1996.4,4324.5 1997.1,4325.3 1997.8,4325.1 1998.5,4326.5 1999.2,4326.1 1999.9,4325.4 2000.6,4326.5 2001.3,4327.3 2002.0,4325.0 2002.7,4326.1 2003.4,4325.2 2004.1,4325.6 2004.8,4327.2 2005.5,4326.7 2006.2,4325.0 2006.9,4327.0 2007.6,4326.5 2008.3,4327.0 2009.0,4324.8 2009.7,4324.5 2010.4,4326.2 2011.1,4325.6 2011.8,4327.1 2012.5,4326.7 2013.2,4328.6 2013.9,4325.7 2014.6,4327.2 2015.3,4327.6 2016.0,4328.5 2016.7,4325.8 2017.4,4326.7 2018.1,4327.1 2018.8,4329.1 2019.5,4326.9 2020.2,4328.2 2020.9,4328.1 2021.6,4328.1 2022.3,4327.2 2023.0,4329.0 2023.7,4327.8 2024.4,4328.4 2025.1,4327.9 2025.8,4329.2 2026.5,4328.6 2027.2,4329.4 2027.9,4327.5 2028.6,4330.5 2029.3,4329.3 2030.0,4329.2 2030.7,4328.6 2031.4,4327.8 2032.1,4326.9 2032.8,4329.1 2033.5,4330.5 2034.2,4329.0 2034.9,4329.4 2035.6,4329.8 2036.3,4330.6 2037.0,4330.0 2037.7,4330.9 2038.4,4329.3 2039.1,4330.0 2039.8,4329.0 2040.5,4328.8 2041.2,4328.4 2041.9,4333.0 2042.6,4329.8 2043.3,4329.4 2044.0,4329.1 2044.7,4330.9 2045.4,4330.6 2046.1,4332.9 2046.8,4329.7 2047.5,4330.1 2048.2,4331.3 2048.9,4330.4 2049.6,4331.1 2050.3,4329.5 2051.0,4330.2 2051.7,4331.4 2052.4,4331.7 2053.1,4329.7 2053.8,4329.8 2054.5,4330.6 2055.2,4331.5 2055.9,4330.0 2056.6,4331.5 2057.3,4332.0 2058.0,4331.5 2058.7,4329.9 2059.4,4331.5 2060.1,4331.0 2060.8,4332.4 2061.5,4332.3 2062.2,4331.9 2062.9,4332.0 2063.6,4332.7 2064.3,4332.0 2065.0,4332.3 2065.7,4331.3 2066.4,4332.6 2067.1,4333.0 2067.8,4332.4 2068.5,4332.5 2069.2,4332.3 2069.9,4332.1 2070.6,4331.1 2071.3,4334.5 2072.0,4332.1 2072.7,4331.8 2073.4,4333.8 2074.1,4332.9 2074.8,4333.4 2075.5,4332.3 2076.2,4332.1 2076.9,4333.5 2077.6,4332.4 2078.3,4332.9 2079.0,4333.7 2079.7,4333.4 2080.4,4334.8 2081.1,4333.5 2081.8,4333.7 2082.5,4335.3 2083.2,4333.6 2083.9,4334.1 2084.6,4334.0 2085.3,4335.6 2086.0,4335.0 2086.7,4333.6 2087.4,4334.6 2088.1,4333.9 2088.8,4336.2 2089.5,4331.6 2090.2,4334.2 2090.9,4334.5 2091.6,4334.6 2092.3,4334.1 2093.0,4337.7 2093.7,4334.9 2094.4,4335.9 2095.1,4335.8 2095.8,4336.3 2096.5,4336.3 2097.2,4336.0 2097.9,4335.5 2098.6,4335.1 2099.3,4336.0 2100.0,4336.8 2100.7,4336.0 2101.4,4337.3 2102.1,4334.9 2102.8,4336.6 2103.5,4337.5 2104.2,4337.1 2104.9,4336.0 2105.6,4335.4 2106.3,4335.5 2107.0,4336.4 2107.7,4337.4 2108.4,4338.1 2109.1,4336.1 2109.8,4336.7 2110.5,4336.3 2111.2,4336.8 2111.9,4338.1 2112.6,4337.0 2113.3,4338.1 2114.0,4338.5 2114.7,4336.9 2115.4,4339.1 2116.1,4337.5 2116.8,4337.7 2117.5,4338.0 2118.2,4337.1 2118.9,4337.3 2119.6,4336.1 2120.3,4338.6 2121.0,4339.9 2121.7,4339.7 2122.4,4337.7 2123.1,4338.9 2123.8,4336.6 2124.5,4338.5" fill="none" stroke="#0000ff" stroke-width="3.6" stroke-linejoin="round" stroke-linecap="butt"/>
<text transform="translate(33.0 3101.0)" font-size="73.5" text-anchor="start" fill="#111">(c)</text>
<text transform="translate(84.0 3670.4) rotate(-90) scale(1 1.03)" font-size="68.2" text-anchor="middle" fill="#111">Raman instenisty (arb. unit)</text>
<text transform="translate(1250.0 4540.0) scale(1 1.03)" font-size="67.6" text-anchor="middle" fill="#111">Raman shift (cm<tspan font-size="44.6" dy="-28.4">−</tspan><tspan font-size="44.6">1</tspan><tspan dy="28.4">)</tspan></text>
<rect x="911.0" y="3077.0" width="734.0" height="150.7" fill="#fefefe" stroke="#6a6a6a" stroke-width="3.2"/>
<line x1="916.8" y1="3111.0" x2="1031.3" y2="3111.0" stroke="#ff0000" stroke-width="3"/>
<text transform="translate(1042.2 3129.3) scale(1 1.03)" font-size="49.5" text-anchor="start" fill="#111">acrylic paint/2.0TiO<tspan font-size="32" dy="10">2</tspan></text>
<line x1="916.8" y1="3184.0" x2="1031.3" y2="3184.0" stroke="#0000ff" stroke-width="3"/>
<text transform="translate(1042.2 3200.0) scale(1 1.03)" font-size="49.5" text-anchor="start" fill="#111">acrylic paint/2.0TiO<tspan font-size="32" dy="10">2</tspan><tspan dy="-10"> - plasma</tspan></text>
<text transform="translate(437.0 3106.5) scale(1 1.03)" font-size="56" text-anchor="start" fill="#111">R</text>
<text transform="translate(574.0 3137.0) scale(1 1.03)" font-size="56" text-anchor="start" fill="#111">R</text>
<text transform="translate(365.5 3698.0) scale(1 1.03)" font-size="56" text-anchor="start" fill="#111">R</text>
<text transform="translate(310.5 3758.5) scale(1 1.03)" font-size="56" text-anchor="start" fill="#111">A</text>
<text transform="translate(406.5 3786.5) scale(1 1.03)" font-size="56" text-anchor="start" fill="#111">c</text>
<text transform="translate(520.5 3904.5) scale(1 1.03)" font-size="56" text-anchor="start" fill="#111">A</text>
<text transform="translate(437.0 4030.5) scale(1 1.03)" font-size="56" text-anchor="start" fill="#111">t</text>
<text transform="translate(650.5 4038.0) scale(1 1.03)" font-size="56" text-anchor="start" fill="#111">c</text>
<text transform="translate(839.0 4038.0) scale(1 1.03)" font-size="56" text-anchor="start" fill="#111">c</text>
<text transform="translate(714.0 4168.0) scale(1 1.03)" font-size="56" text-anchor="start" fill="#111">R</text>
<text transform="translate(389.0 4203.0) scale(1 1.03)" font-size="56" text-anchor="start" fill="#111">t</text>
<text transform="translate(1002.0 4221.5) scale(1 1.03)" font-size="56" text-anchor="start" fill="#111">C-H</text>
<text transform="translate(1473.6 4201.5) scale(1 1.03)" font-size="56" text-anchor="start" fill="#111">C-H</text>
<text transform="translate(1910.0 4254.5) scale(1 1.03)" font-size="56" text-anchor="start" fill="#111">t</text>
<text transform="translate(1221.5 4195.0) rotate(-90) scale(1 1.03)" font-size="56" text-anchor="middle" fill="#111">C=O</text>
<line x1="384.0" y1="4156.0" x2="378.1" y2="4140.5" stroke="#111" stroke-width="1.6"/>
<polygon points="367.5,4112.5 386.6,4137.4 369.7,4143.7" fill="#111"/>
<line x1="1933.0" y1="4273.0" x2="1969.8" y2="4322.0" stroke="#111" stroke-width="1.6"/>
<polygon points="1987.8,4346.0 1962.6,4327.4 1977.0,4316.6" fill="#111"/>
</svg>
</body></html>
